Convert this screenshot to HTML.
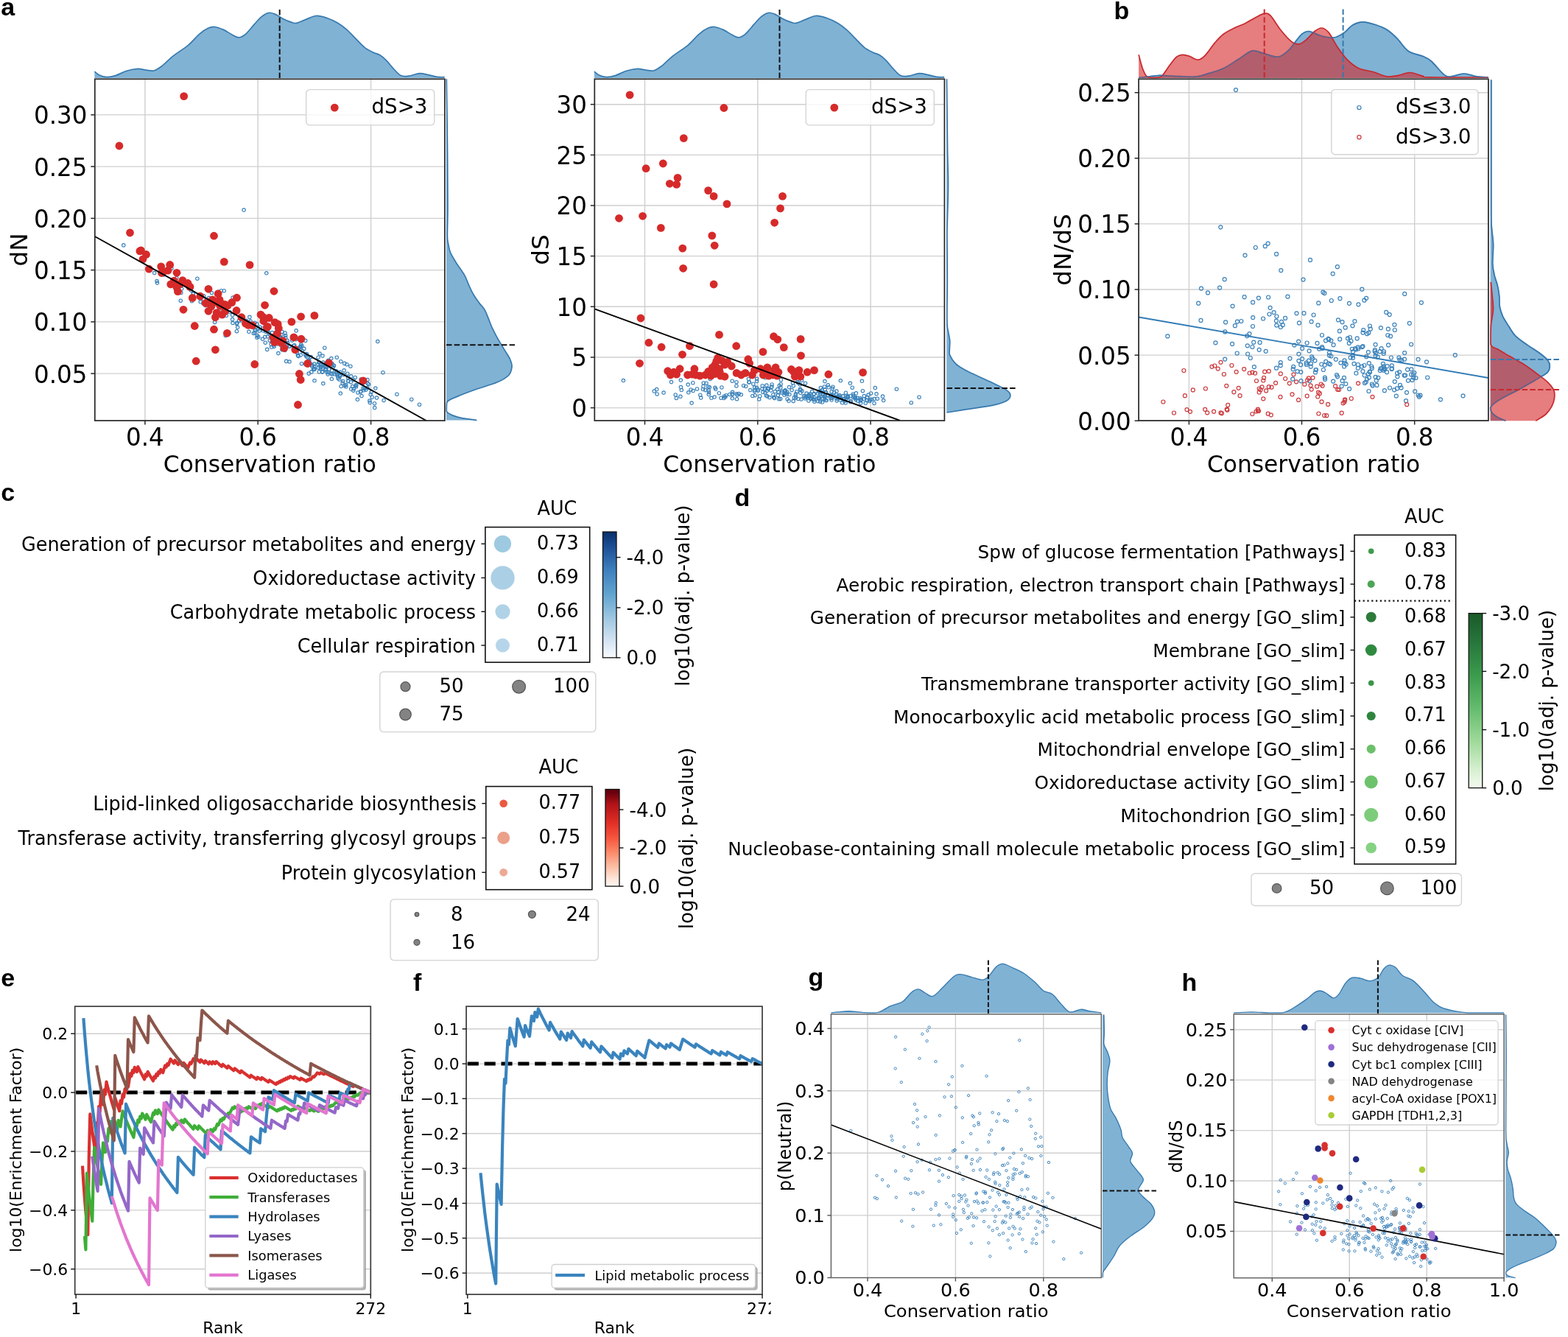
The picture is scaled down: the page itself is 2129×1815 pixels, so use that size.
<!DOCTYPE html>
<html lang="en"><head><meta charset="utf-8"><title>Figure</title>
<style>html,body{margin:0;padding:0;background:#fff}body{width:2129px;height:1815px;overflow:hidden}svg{display:block}text{font-family:'DejaVu Sans','Liberation Sans',sans-serif;fill:#000}text.pl{font-family:"Liberation Sans","DejaVu Sans",sans-serif;font-weight:700}</style></head>
<body>
<svg width="2129" height="1815" viewBox="0 0 2129 1815">
<rect width="2129" height="1815" fill="#fff"/>
<path d="M128.4 97.2C129.4 98 131.7 100.5 134.4 101.7C137.2 103 141.1 104.6 144.9 104.7C148.6 104.9 152.4 104 156.9 102.6C161.3 101.2 166.8 97.9 171.8 96.3C176.8 94.8 182.3 93.6 186.8 93.4C191.3 93.2 195 94.8 198.7 95.2C202.5 95.6 205.7 96.6 209.2 95.8C212.7 94.9 215.4 93 219.7 89.8C223.9 86.5 228.7 81 234.6 76.3C240.6 71.6 249.6 66.3 255.6 61.3C261.6 56.4 266.1 50.2 270.6 46.4C275 42.5 279 39.9 282.5 38.3C286 36.7 288 36.2 291.5 36.5C295 36.9 299.5 38.6 303.5 40.4C307.5 42.2 311.9 45.5 315.4 47.3C318.9 49 321.4 51 324.4 50.9C327.4 50.7 329.9 49.4 333.4 46.4C336.9 43.4 341.9 36.8 345.4 32.9C348.9 29.1 351.1 25.9 354.3 23.3C357.6 20.7 361.6 18 364.8 17.4C368.1 16.7 370.5 18.1 373.8 19.4C377 20.8 380.8 23.7 384.3 25.4C387.8 27.2 391.7 28.9 394.7 29.9C397.7 30.9 399 31.9 402.2 31.4C405.5 30.9 409.7 28.6 414.2 26.9C418.7 25.3 424.2 21.9 429.1 21.5C434.1 21.1 439.1 22.9 444.1 24.5C449.1 26.2 454.6 28.8 459.1 31.4C463.6 34.1 467 36.9 471 40.4C475 43.9 479 48.4 483 52.4C487 56.4 491 61.2 495 64.3C499 67.5 503.5 69.5 506.9 71.2C510.4 73 512.9 73 515.9 74.8C518.9 76.7 521.9 79.3 524.9 82.3C527.9 85.3 530.6 89.4 533.9 92.8C537.1 96.2 540.9 100.9 544.3 102.6C547.8 104.4 550.6 103.7 554.8 103.2C559.1 102.7 565.3 99.9 569.8 99.6C574.3 99.4 577.8 100.9 581.7 101.7C585.7 102.5 590.1 103.9 593.7 104.4C597.4 104.9 601.9 104.7 603.6 104.7L603.6 106.1L128.4 106.1Z" fill="#1f77b4" fill-opacity="0.57"/>
<path d="M128.4 97.2C129.4 98 131.7 100.5 134.4 101.7C137.2 103 141.1 104.6 144.9 104.7C148.6 104.9 152.4 104 156.9 102.6C161.3 101.2 166.8 97.9 171.8 96.3C176.8 94.8 182.3 93.6 186.8 93.4C191.3 93.2 195 94.8 198.7 95.2C202.5 95.6 205.7 96.6 209.2 95.8C212.7 94.9 215.4 93 219.7 89.8C223.9 86.5 228.7 81 234.6 76.3C240.6 71.6 249.6 66.3 255.6 61.3C261.6 56.4 266.1 50.2 270.6 46.4C275 42.5 279 39.9 282.5 38.3C286 36.7 288 36.2 291.5 36.5C295 36.9 299.5 38.6 303.5 40.4C307.5 42.2 311.9 45.5 315.4 47.3C318.9 49 321.4 51 324.4 50.9C327.4 50.7 329.9 49.4 333.4 46.4C336.9 43.4 341.9 36.8 345.4 32.9C348.9 29.1 351.1 25.9 354.3 23.3C357.6 20.7 361.6 18 364.8 17.4C368.1 16.7 370.5 18.1 373.8 19.4C377 20.8 380.8 23.7 384.3 25.4C387.8 27.2 391.7 28.9 394.7 29.9C397.7 30.9 399 31.9 402.2 31.4C405.5 30.9 409.7 28.6 414.2 26.9C418.7 25.3 424.2 21.9 429.1 21.5C434.1 21.1 439.1 22.9 444.1 24.5C449.1 26.2 454.6 28.8 459.1 31.4C463.6 34.1 467 36.9 471 40.4C475 43.9 479 48.4 483 52.4C487 56.4 491 61.2 495 64.3C499 67.5 503.5 69.5 506.9 71.2C510.4 73 512.9 73 515.9 74.8C518.9 76.7 521.9 79.3 524.9 82.3C527.9 85.3 530.6 89.4 533.9 92.8C537.1 96.2 540.9 100.9 544.3 102.6C547.8 104.4 550.6 103.7 554.8 103.2C559.1 102.7 565.3 99.9 569.8 99.6C574.3 99.4 577.8 100.9 581.7 101.7C585.7 102.5 590.1 103.9 593.7 104.4C597.4 104.9 601.9 104.7 603.6 104.7" fill="none" stroke="#3679ae" stroke-width="1.7"/>
<line x1="379.7" y1="13" x2="379.7" y2="106.3" stroke="#111" stroke-width="2" stroke-dasharray="7.5 3.2"/>
<path d="M606.3 107.3C606.5 122.8 607.2 171.2 607.5 200C607.8 228.8 608 260 608 280C608 300 607.3 311.4 607.4 320C607.5 328.6 608.1 327.7 608.8 331.6C609.5 335.4 609.9 339 611.7 343.2C613.4 347.3 616.2 351.5 619.4 356.7C622.6 361.8 628.1 368.9 631 374.1C633.9 379.2 634.8 383.4 636.8 387.6C638.7 391.8 640.3 395.3 642.5 399.2C644.8 403 647.7 407.2 650.3 410.7C652.8 414.3 655.7 416.5 658 420.4C660.2 424.2 662.2 430 663.8 433.9C665.4 437.8 665.9 439.7 667.6 443.6C669.4 447.4 672.1 452.9 674.4 457.1C676.7 461.2 678.7 464.6 681.2 468.6C683.6 472.7 686.9 478 688.9 481.2C690.8 484.4 691.7 485.2 692.7 488C693.8 490.7 695.4 494.1 695.1 497.6C694.7 501.1 694.1 505.6 690.8 509.2C687.5 512.7 682.8 515.6 675.4 518.8C668 522.1 655.4 525.3 646.4 528.5C637.4 531.7 627.9 535.3 621.3 538.1C614.7 541 609.3 542.5 606.8 545.9C606.3 549.2 606.3 555 606.3 558.4C608.7 561.8 614.5 564.1 621.3 566.1C628.2 568.2 643 569.8 647.4 570.6L606 570.6L606 107.3Z" fill="#1f77b4" fill-opacity="0.57"/>
<path d="M606.3 107.3C606.5 122.8 607.2 171.2 607.5 200C607.8 228.8 608 260 608 280C608 300 607.3 311.4 607.4 320C607.5 328.6 608.1 327.7 608.8 331.6C609.5 335.4 609.9 339 611.7 343.2C613.4 347.3 616.2 351.5 619.4 356.7C622.6 361.8 628.1 368.9 631 374.1C633.9 379.2 634.8 383.4 636.8 387.6C638.7 391.8 640.3 395.3 642.5 399.2C644.8 403 647.7 407.2 650.3 410.7C652.8 414.3 655.7 416.5 658 420.4C660.2 424.2 662.2 430 663.8 433.9C665.4 437.8 665.9 439.7 667.6 443.6C669.4 447.4 672.1 452.9 674.4 457.1C676.7 461.2 678.7 464.6 681.2 468.6C683.6 472.7 686.9 478 688.9 481.2C690.8 484.4 691.7 485.2 692.7 488C693.8 490.7 695.4 494.1 695.1 497.6C694.7 501.1 694.1 505.6 690.8 509.2C687.5 512.7 682.8 515.6 675.4 518.8C668 522.1 655.4 525.3 646.4 528.5C637.4 531.7 627.9 535.3 621.3 538.1C614.7 541 609.3 542.5 606.8 545.9C606.3 549.2 606.3 555 606.3 558.4C608.7 561.8 614.5 564.1 621.3 566.1C628.2 568.2 643 569.8 647.4 570.6" fill="none" stroke="#3679ae" stroke-width="1.7"/>
<line x1="606" y1="468.3" x2="701.4" y2="468.3" stroke="#111" stroke-width="2" stroke-dasharray="7.5 3.2"/>
<line x1="196.9" y1="107.3" x2="196.9" y2="571" stroke="#cfcfcf" stroke-width="1.4"/>
<line x1="350.2" y1="107.3" x2="350.2" y2="571" stroke="#cfcfcf" stroke-width="1.4"/>
<line x1="503.6" y1="107.3" x2="503.6" y2="571" stroke="#cfcfcf" stroke-width="1.4"/>
<line x1="128.8" y1="507.1" x2="603.9" y2="507.1" stroke="#cfcfcf" stroke-width="1.4"/>
<line x1="128.8" y1="436.9" x2="603.9" y2="436.9" stroke="#cfcfcf" stroke-width="1.4"/>
<line x1="128.8" y1="366.6" x2="603.9" y2="366.6" stroke="#cfcfcf" stroke-width="1.4"/>
<line x1="128.8" y1="296.4" x2="603.9" y2="296.4" stroke="#cfcfcf" stroke-width="1.4"/>
<line x1="128.8" y1="226.1" x2="603.9" y2="226.1" stroke="#cfcfcf" stroke-width="1.4"/>
<line x1="128.8" y1="155.9" x2="603.9" y2="155.9" stroke="#cfcfcf" stroke-width="1.4"/>
<clipPath id="ca1"><rect x="128.8" y="107.3" width="475.1" height="463.7"/></clipPath>
<g clip-path="url(#ca1)">
<g fill="none" stroke="#3b82ba" stroke-width="1.15">
<circle cx="260.5" cy="408.8" r="2.2"/>
<circle cx="331.1" cy="285.1" r="2.2"/>
<circle cx="167.8" cy="332.9" r="2.2"/>
<circle cx="361.8" cy="370.8" r="2.2"/>
<circle cx="512.8" cy="463.5" r="2.2"/>
<circle cx="569.5" cy="549.2" r="2.2"/>
<circle cx="558.8" cy="542.2" r="2.2"/>
<circle cx="304.2" cy="394.7" r="2.2"/>
<circle cx="300.4" cy="394.7" r="2.2"/>
<circle cx="287.4" cy="397.5" r="2.2"/>
<circle cx="315.7" cy="411.6" r="2.2"/>
<circle cx="538.9" cy="535.2" r="2.2"/>
<circle cx="377.8" cy="464.1" r="2.2"/>
<circle cx="322" cy="438.2" r="2.2"/>
<circle cx="293.3" cy="422.8" r="2.2"/>
<circle cx="364.9" cy="452.2" r="2.2"/>
<circle cx="437.5" cy="505.1" r="2.2"/>
<circle cx="483.5" cy="525" r="2.2"/>
<circle cx="435.8" cy="497.4" r="2.2"/>
<circle cx="405.2" cy="483.6" r="2.2"/>
<circle cx="424.2" cy="495.8" r="2.2"/>
<circle cx="388.7" cy="490.4" r="2.2"/>
<circle cx="458.5" cy="511" r="2.2"/>
<circle cx="356.5" cy="460.3" r="2.2"/>
<circle cx="471.8" cy="507.2" r="2.2"/>
<circle cx="345.9" cy="438.2" r="2.2"/>
<circle cx="414.9" cy="494.2" r="2.2"/>
<circle cx="362.7" cy="474.4" r="2.2"/>
<circle cx="520" cy="505.7" r="2.2"/>
<circle cx="441.3" cy="494.2" r="2.2"/>
<circle cx="404.4" cy="482.6" r="2.2"/>
<circle cx="441.7" cy="501.5" r="2.2"/>
<circle cx="393.3" cy="470.3" r="2.2"/>
<circle cx="465.8" cy="517.6" r="2.2"/>
<circle cx="371.3" cy="468.8" r="2.2"/>
<circle cx="312.2" cy="423.8" r="2.2"/>
<circle cx="499" cy="515.6" r="2.2"/>
<circle cx="475.9" cy="497.2" r="2.2"/>
<circle cx="398.7" cy="474.6" r="2.2"/>
<circle cx="490" cy="519.7" r="2.2"/>
<circle cx="386.4" cy="466.6" r="2.2"/>
<circle cx="457.3" cy="485.2" r="2.2"/>
<circle cx="433.3" cy="492.3" r="2.2"/>
<circle cx="461.5" cy="509" r="2.2"/>
<circle cx="283.8" cy="410.4" r="2.2"/>
<circle cx="209.7" cy="370.6" r="2.2"/>
<circle cx="433.3" cy="491.7" r="2.2"/>
<circle cx="407.9" cy="470.4" r="2.2"/>
<circle cx="502.3" cy="546.6" r="2.2"/>
<circle cx="366.3" cy="462.2" r="2.2"/>
<circle cx="521.1" cy="543.4" r="2.2"/>
<circle cx="346.1" cy="447.4" r="2.2"/>
<circle cx="469.6" cy="522.6" r="2.2"/>
<circle cx="416.5" cy="480.6" r="2.2"/>
<circle cx="496.7" cy="529.3" r="2.2"/>
<circle cx="450.9" cy="508.1" r="2.2"/>
<circle cx="469.8" cy="525" r="2.2"/>
<circle cx="246.7" cy="392.1" r="2.2"/>
<circle cx="441.7" cy="494.4" r="2.2"/>
<circle cx="324.5" cy="435.4" r="2.2"/>
<circle cx="476.7" cy="510.8" r="2.2"/>
<circle cx="419.6" cy="494.4" r="2.2"/>
<circle cx="449.4" cy="507" r="2.2"/>
<circle cx="450.6" cy="493.3" r="2.2"/>
<circle cx="472.8" cy="517.1" r="2.2"/>
<circle cx="357.3" cy="448.8" r="2.2"/>
<circle cx="390" cy="468.9" r="2.2"/>
<circle cx="359.8" cy="457.3" r="2.2"/>
<circle cx="381.3" cy="457.8" r="2.2"/>
<circle cx="372.2" cy="470.5" r="2.2"/>
<circle cx="432.1" cy="485.2" r="2.2"/>
<circle cx="349.1" cy="440" r="2.2"/>
<circle cx="321.5" cy="439.6" r="2.2"/>
<circle cx="291.6" cy="437.4" r="2.2"/>
<circle cx="360.3" cy="465.2" r="2.2"/>
<circle cx="445.7" cy="505.7" r="2.2"/>
<circle cx="280.4" cy="413.8" r="2.2"/>
<circle cx="368.7" cy="471.3" r="2.2"/>
<circle cx="491" cy="537.5" r="2.2"/>
<circle cx="467.2" cy="502.8" r="2.2"/>
<circle cx="508.7" cy="553.5" r="2.2"/>
<circle cx="410.5" cy="476.6" r="2.2"/>
<circle cx="284.8" cy="407" r="2.2"/>
<circle cx="259.5" cy="394.2" r="2.2"/>
<circle cx="369.6" cy="451.5" r="2.2"/>
<circle cx="362.4" cy="448.7" r="2.2"/>
<circle cx="415.7" cy="483.6" r="2.2"/>
<circle cx="468" cy="523.5" r="2.2"/>
<circle cx="377.9" cy="479.6" r="2.2"/>
<circle cx="301.4" cy="427" r="2.2"/>
<circle cx="442.8" cy="497.9" r="2.2"/>
<circle cx="427" cy="516.8" r="2.2"/>
<circle cx="419.3" cy="507.1" r="2.2"/>
<circle cx="421.3" cy="493.9" r="2.2"/>
<circle cx="307.3" cy="428.5" r="2.2"/>
<circle cx="316" cy="438.5" r="2.2"/>
<circle cx="213.5" cy="384.1" r="2.2"/>
<circle cx="232.9" cy="364.2" r="2.2"/>
<circle cx="350.8" cy="457.2" r="2.2"/>
<circle cx="390.5" cy="465.4" r="2.2"/>
<circle cx="427.2" cy="500.8" r="2.2"/>
<circle cx="454.1" cy="507.8" r="2.2"/>
<circle cx="262.6" cy="398.6" r="2.2"/>
<circle cx="508.5" cy="547.7" r="2.2"/>
<circle cx="316.1" cy="404" r="2.2"/>
<circle cx="408.7" cy="467.9" r="2.2"/>
<circle cx="386.9" cy="475.4" r="2.2"/>
<circle cx="457.7" cy="508.4" r="2.2"/>
<circle cx="489.5" cy="532" r="2.2"/>
<circle cx="503.2" cy="535.6" r="2.2"/>
<circle cx="423.8" cy="497.5" r="2.2"/>
<circle cx="422.8" cy="504.9" r="2.2"/>
<circle cx="276.7" cy="401.9" r="2.2"/>
<circle cx="276.4" cy="406.4" r="2.2"/>
<circle cx="399.8" cy="468.7" r="2.2"/>
<circle cx="485.4" cy="542.3" r="2.2"/>
<circle cx="283.8" cy="409.9" r="2.2"/>
<circle cx="379.2" cy="458.6" r="2.2"/>
<circle cx="450.4" cy="514.5" r="2.2"/>
<circle cx="480.3" cy="527.7" r="2.2"/>
<circle cx="486" cy="532.9" r="2.2"/>
<circle cx="490.1" cy="514.9" r="2.2"/>
<circle cx="344.3" cy="452.5" r="2.2"/>
<circle cx="460.8" cy="515.3" r="2.2"/>
<circle cx="492.9" cy="526.9" r="2.2"/>
<circle cx="412.8" cy="473.4" r="2.2"/>
<circle cx="373" cy="458.1" r="2.2"/>
<circle cx="414.6" cy="481.5" r="2.2"/>
<circle cx="334.2" cy="435.4" r="2.2"/>
<circle cx="343.2" cy="441.8" r="2.2"/>
<circle cx="459.1" cy="513.7" r="2.2"/>
<circle cx="402" cy="457.9" r="2.2"/>
<circle cx="467.8" cy="493.4" r="2.2"/>
<circle cx="409.5" cy="493.7" r="2.2"/>
<circle cx="494.8" cy="527.3" r="2.2"/>
<circle cx="373.8" cy="454.4" r="2.2"/>
<circle cx="476.7" cy="528" r="2.2"/>
<circle cx="434" cy="480" r="2.2"/>
<circle cx="431.9" cy="494.4" r="2.2"/>
<circle cx="466.4" cy="508.4" r="2.2"/>
<circle cx="470.9" cy="494.7" r="2.2"/>
<circle cx="382.8" cy="450.3" r="2.2"/>
<circle cx="410.1" cy="469.7" r="2.2"/>
<circle cx="425.5" cy="501.8" r="2.2"/>
<circle cx="275.8" cy="411.7" r="2.2"/>
<circle cx="445.8" cy="489.3" r="2.2"/>
<circle cx="213" cy="381.5" r="2.2"/>
<circle cx="315.7" cy="427.7" r="2.2"/>
<circle cx="509.8" cy="527" r="2.2"/>
<circle cx="379.6" cy="457.4" r="2.2"/>
<circle cx="438" cy="483.1" r="2.2"/>
<circle cx="387.7" cy="455.5" r="2.2"/>
<circle cx="353.2" cy="444.4" r="2.2"/>
<circle cx="461.5" cy="510.7" r="2.2"/>
<circle cx="377" cy="466.9" r="2.2"/>
<circle cx="363.8" cy="448.3" r="2.2"/>
<circle cx="346.7" cy="448.8" r="2.2"/>
<circle cx="402.2" cy="448.9" r="2.2"/>
<circle cx="446.6" cy="501.2" r="2.2"/>
<circle cx="426.7" cy="501.4" r="2.2"/>
<circle cx="435.5" cy="500.1" r="2.2"/>
<circle cx="461.9" cy="505.3" r="2.2"/>
<circle cx="381.9" cy="454.6" r="2.2"/>
<circle cx="346.1" cy="451.5" r="2.2"/>
<circle cx="463.2" cy="524.4" r="2.2"/>
<circle cx="452.3" cy="498.5" r="2.2"/>
<circle cx="390.1" cy="462.4" r="2.2"/>
<circle cx="494" cy="529.8" r="2.2"/>
<circle cx="292.4" cy="426.2" r="2.2"/>
<circle cx="262.2" cy="398.8" r="2.2"/>
<circle cx="381.7" cy="469" r="2.2"/>
<circle cx="438.8" cy="520.6" r="2.2"/>
<circle cx="414.7" cy="462.4" r="2.2"/>
<circle cx="500.5" cy="521.7" r="2.2"/>
<circle cx="450.6" cy="502.9" r="2.2"/>
<circle cx="479.8" cy="530.2" r="2.2"/>
<circle cx="238.6" cy="393.3" r="2.2"/>
<circle cx="435.2" cy="495.2" r="2.2"/>
<circle cx="304.8" cy="426.1" r="2.2"/>
<circle cx="443.6" cy="504.5" r="2.2"/>
<circle cx="440.8" cy="472.2" r="2.2"/>
<circle cx="378.4" cy="455.9" r="2.2"/>
<circle cx="338.9" cy="430.4" r="2.2"/>
<circle cx="437.9" cy="504.6" r="2.2"/>
<circle cx="433.3" cy="504.8" r="2.2"/>
<circle cx="476.3" cy="518.7" r="2.2"/>
<circle cx="422.2" cy="484.5" r="2.2"/>
<circle cx="285.5" cy="412.8" r="2.2"/>
<circle cx="462.3" cy="534" r="2.2"/>
<circle cx="453.5" cy="496.4" r="2.2"/>
<circle cx="245.9" cy="382.2" r="2.2"/>
<circle cx="387.7" cy="458.4" r="2.2"/>
<circle cx="381.1" cy="458.4" r="2.2"/>
<circle cx="397.8" cy="456.9" r="2.2"/>
<circle cx="360.8" cy="450.2" r="2.2"/>
<circle cx="327.8" cy="435" r="2.2"/>
<circle cx="306.2" cy="455.4" r="2.2"/>
<circle cx="419.8" cy="489.6" r="2.2"/>
<circle cx="441.3" cy="496.6" r="2.2"/>
<circle cx="472.5" cy="512.4" r="2.2"/>
<circle cx="483.9" cy="522.4" r="2.2"/>
<circle cx="478.7" cy="524.5" r="2.2"/>
<circle cx="461.2" cy="509.7" r="2.2"/>
<circle cx="403.2" cy="478.5" r="2.2"/>
<circle cx="419.8" cy="491.6" r="2.2"/>
<circle cx="283.7" cy="404.5" r="2.2"/>
<circle cx="392.4" cy="470.3" r="2.2"/>
<circle cx="442.8" cy="501.9" r="2.2"/>
<circle cx="442.5" cy="498.1" r="2.2"/>
<circle cx="408.3" cy="482.1" r="2.2"/>
<circle cx="245.8" cy="397.4" r="2.2"/>
<circle cx="480" cy="515.7" r="2.2"/>
<circle cx="405.3" cy="472.5" r="2.2"/>
<circle cx="501.9" cy="544" r="2.2"/>
<circle cx="368.2" cy="467.4" r="2.2"/>
<circle cx="426.7" cy="494.1" r="2.2"/>
<circle cx="239.8" cy="377.6" r="2.2"/>
<circle cx="297.8" cy="419.2" r="2.2"/>
<circle cx="449.8" cy="486.6" r="2.2"/>
<circle cx="321.4" cy="449.7" r="2.2"/>
<circle cx="504.1" cy="532.1" r="2.2"/>
<circle cx="350.8" cy="446.3" r="2.2"/>
<circle cx="256.2" cy="391.6" r="2.2"/>
<circle cx="255.7" cy="388.5" r="2.2"/>
<circle cx="489.9" cy="531.2" r="2.2"/>
<circle cx="283.1" cy="412.4" r="2.2"/>
<circle cx="440.7" cy="497.4" r="2.2"/>
<circle cx="445.1" cy="508.1" r="2.2"/>
<circle cx="438.9" cy="492.1" r="2.2"/>
<circle cx="352.2" cy="449.1" r="2.2"/>
<circle cx="279.1" cy="414.8" r="2.2"/>
<circle cx="349.2" cy="455.5" r="2.2"/>
<circle cx="363.3" cy="457" r="2.2"/>
<circle cx="465.1" cy="520" r="2.2"/>
<circle cx="482.3" cy="512.4" r="2.2"/>
<circle cx="273.1" cy="402.7" r="2.2"/>
<circle cx="432.4" cy="499.3" r="2.2"/>
<circle cx="435.2" cy="498.6" r="2.2"/>
<circle cx="491.9" cy="521" r="2.2"/>
<circle cx="456.5" cy="503.8" r="2.2"/>
<circle cx="393" cy="491" r="2.2"/>
<circle cx="505.3" cy="539.2" r="2.2"/>
<circle cx="348.9" cy="458.3" r="2.2"/>
<circle cx="340.1" cy="436" r="2.2"/>
<circle cx="322.6" cy="444.3" r="2.2"/>
<circle cx="245.3" cy="408.2" r="2.2"/>
<circle cx="369.4" cy="463.8" r="2.2"/>
<circle cx="426.6" cy="497.6" r="2.2"/>
<circle cx="356.6" cy="446.2" r="2.2"/>
<circle cx="499" cy="526.8" r="2.2"/>
<circle cx="401.7" cy="460.8" r="2.2"/>
<circle cx="272.2" cy="409.8" r="2.2"/>
<circle cx="462.8" cy="490.7" r="2.2"/>
<circle cx="499.2" cy="520.4" r="2.2"/>
<circle cx="337.9" cy="450.3" r="2.2"/>
<circle cx="456.7" cy="506" r="2.2"/>
<circle cx="382.9" cy="474.7" r="2.2"/>
<circle cx="387.1" cy="452.1" r="2.2"/>
<circle cx="483" cy="523.6" r="2.2"/>
<circle cx="511.5" cy="540.1" r="2.2"/>
<circle cx="338.4" cy="438" r="2.2"/>
<circle cx="321.5" cy="419" r="2.2"/>
<circle cx="267.9" cy="378.2" r="2.2"/>
<circle cx="315.6" cy="433.6" r="2.2"/>
<circle cx="222.5" cy="373" r="2.2"/>
<circle cx="396.6" cy="462.2" r="2.2"/>
<circle cx="451.7" cy="495.5" r="2.2"/>
<circle cx="407.8" cy="471.4" r="2.2"/>
<circle cx="472.8" cy="517.6" r="2.2"/>
<circle cx="418.6" cy="490" r="2.2"/>
<circle cx="398.6" cy="469.2" r="2.2"/>
<circle cx="417.3" cy="485" r="2.2"/>
</g>
<g fill="#d62a2a">
<circle cx="176.5" cy="316" r="5.4"/>
<circle cx="304.3" cy="355.4" r="5.4"/>
<circle cx="249.7" cy="130.6" r="5.4"/>
<circle cx="221.7" cy="369.2" r="5.4"/>
<circle cx="198.5" cy="345.5" r="5.4"/>
<circle cx="241.5" cy="395.7" r="5.4"/>
<circle cx="230.7" cy="359.5" r="5.4"/>
<circle cx="240" cy="390" r="5.4"/>
<circle cx="283" cy="422.3" r="5.4"/>
<circle cx="290.5" cy="320.2" r="5.4"/>
<circle cx="308.4" cy="452.3" r="5.4"/>
<circle cx="383.9" cy="462.6" r="5.4"/>
<circle cx="381" cy="464.7" r="5.4"/>
<circle cx="373.1" cy="437.6" r="5.4"/>
<circle cx="161.9" cy="198" r="5.4"/>
<circle cx="194" cy="351.8" r="5.4"/>
<circle cx="218.7" cy="361.9" r="5.4"/>
<circle cx="288.2" cy="407.6" r="5.4"/>
<circle cx="291.6" cy="410.3" r="5.4"/>
<circle cx="248.2" cy="383.4" r="5.4"/>
<circle cx="249" cy="420.3" r="5.4"/>
<circle cx="290.5" cy="447.2" r="5.4"/>
<circle cx="191.4" cy="339.9" r="5.4"/>
<circle cx="298" cy="406.8" r="5.4"/>
<circle cx="202.3" cy="365.2" r="5.4"/>
<circle cx="219.5" cy="370.5" r="5.4"/>
<circle cx="258" cy="389.4" r="5.4"/>
<circle cx="321.1" cy="421.6" r="5.4"/>
<circle cx="372" cy="395.3" r="5.4"/>
<circle cx="377.2" cy="440" r="5.4"/>
<circle cx="385.8" cy="472.5" r="5.4"/>
<circle cx="408.6" cy="429.8" r="5.4"/>
<circle cx="409" cy="460.2" r="5.4"/>
<circle cx="357.4" cy="430.5" r="5.4"/>
<circle cx="247.9" cy="380.6" r="5.4"/>
<circle cx="189.9" cy="340.9" r="5.4"/>
<circle cx="337.2" cy="441.4" r="5.4"/>
<circle cx="339.1" cy="359.6" r="5.4"/>
<circle cx="296.1" cy="398.7" r="5.4"/>
<circle cx="301.7" cy="427.2" r="5.4"/>
<circle cx="309.2" cy="414.8" r="5.4"/>
<circle cx="314.8" cy="410.6" r="5.4"/>
<circle cx="292.4" cy="430.6" r="5.4"/>
<circle cx="228.1" cy="367.2" r="5.4"/>
<circle cx="236.3" cy="381.2" r="5.4"/>
<circle cx="244.5" cy="385.6" r="5.4"/>
<circle cx="240" cy="370.3" r="5.4"/>
<circle cx="264.3" cy="442.5" r="5.4"/>
<circle cx="255" cy="384.5" r="5.4"/>
<circle cx="266.2" cy="490.2" r="5.4"/>
<circle cx="279.3" cy="411.5" r="5.4"/>
<circle cx="286.8" cy="416.2" r="5.4"/>
<circle cx="292.4" cy="474.8" r="5.4"/>
<circle cx="299.8" cy="411.3" r="5.4"/>
<circle cx="305.4" cy="413.5" r="5.4"/>
<circle cx="321.5" cy="404.2" r="5.4"/>
<circle cx="333.5" cy="439.2" r="5.4"/>
<circle cx="342.8" cy="441.7" r="5.4"/>
<circle cx="357.8" cy="435.8" r="5.4"/>
<circle cx="363.4" cy="443.4" r="5.4"/>
<circle cx="374.6" cy="461.1" r="5.4"/>
<circle cx="370.9" cy="458.1" r="5.4"/>
<circle cx="378.3" cy="445.5" r="5.4"/>
<circle cx="395.9" cy="436.9" r="5.4"/>
<circle cx="404.5" cy="549.5" r="5.4"/>
<circle cx="400.8" cy="474.6" r="5.4"/>
<circle cx="408.2" cy="515.5" r="5.4"/>
<circle cx="417.6" cy="493.5" r="5.4"/>
<circle cx="426.9" cy="428.4" r="5.4"/>
<circle cx="446.4" cy="492.8" r="5.4"/>
<circle cx="493.1" cy="516.8" r="5.4"/>
<circle cx="298" cy="411.4" r="5.4"/>
<circle cx="288.6" cy="406.9" r="5.4"/>
<circle cx="359.6" cy="414.3" r="5.4"/>
<circle cx="365.3" cy="431.5" r="5.4"/>
<circle cx="372.7" cy="464.5" r="5.4"/>
<circle cx="283" cy="392.3" r="5.4"/>
<circle cx="271.8" cy="402.2" r="5.4"/>
<circle cx="398.9" cy="457.9" r="5.4"/>
<circle cx="345.8" cy="494.5" r="5.4"/>
<circle cx="294.2" cy="424.6" r="5.4"/>
<circle cx="305.4" cy="422.8" r="5.4"/>
<circle cx="298.7" cy="415.2" r="5.4"/>
<circle cx="327.9" cy="430.7" r="5.4"/>
<circle cx="354" cy="427.1" r="5.4"/>
<circle cx="261.3" cy="404.4" r="5.4"/>
<circle cx="231.8" cy="385.9" r="5.4"/>
<circle cx="406.4" cy="507.5" r="5.4"/>
<circle cx="362.3" cy="444.3" r="5.4"/>
<circle cx="376.5" cy="453" r="5.4"/>
</g>
<line x1="128.8" y1="321" x2="578.8" y2="571" stroke="#000" stroke-width="1.9"/>
</g>
<rect x="415.7" y="121.6" width="174.1" height="48.3" fill="#fff" stroke="#d4d4d4" stroke-width="1.4" rx="5" fill-opacity="0.8"/>
<circle cx="454.3" cy="146.1" r="5.4" fill="#d62a2a" stroke="none" stroke-width="1"/>
<text transform="translate(504.5,154.4)" font-size="27.7">dS&gt;3</text>
<rect x="128.8" y="107.3" width="475.1" height="463.7" fill="none" stroke="#262626" stroke-width="1.7"/>
<line x1="196.9" y1="571" x2="196.9" y2="576.5" stroke="#262626" stroke-width="1.5"/>
<text transform="translate(196.9,604.5) scale(0.952,1)" font-size="34.1" text-anchor="middle">0.4</text>
<line x1="350.2" y1="571" x2="350.2" y2="576.5" stroke="#262626" stroke-width="1.5"/>
<text transform="translate(350.2,604.5) scale(0.952,1)" font-size="34.1" text-anchor="middle">0.6</text>
<line x1="503.6" y1="571" x2="503.6" y2="576.5" stroke="#262626" stroke-width="1.5"/>
<text transform="translate(503.6,604.5) scale(0.952,1)" font-size="34.1" text-anchor="middle">0.8</text>
<line x1="123.3" y1="507.1" x2="128.8" y2="507.1" stroke="#262626" stroke-width="1.5"/>
<text transform="translate(118.3,519.5) scale(0.952,1)" font-size="34.1" text-anchor="end">0.05</text>
<line x1="123.3" y1="436.9" x2="128.8" y2="436.9" stroke="#262626" stroke-width="1.5"/>
<text transform="translate(118.3,449.3) scale(0.952,1)" font-size="34.1" text-anchor="end">0.10</text>
<line x1="123.3" y1="366.6" x2="128.8" y2="366.6" stroke="#262626" stroke-width="1.5"/>
<text transform="translate(118.3,379) scale(0.952,1)" font-size="34.1" text-anchor="end">0.15</text>
<line x1="123.3" y1="296.4" x2="128.8" y2="296.4" stroke="#262626" stroke-width="1.5"/>
<text transform="translate(118.3,308.8) scale(0.952,1)" font-size="34.1" text-anchor="end">0.20</text>
<line x1="123.3" y1="226.1" x2="128.8" y2="226.1" stroke="#262626" stroke-width="1.5"/>
<text transform="translate(118.3,238.5) scale(0.952,1)" font-size="34.1" text-anchor="end">0.25</text>
<line x1="123.3" y1="155.9" x2="128.8" y2="155.9" stroke="#262626" stroke-width="1.5"/>
<text transform="translate(118.3,168.3) scale(0.952,1)" font-size="34.1" text-anchor="end">0.30</text>
<text transform="translate(366.4,640.8) scale(0.958,1)" font-size="32.7" text-anchor="middle">Conservation ratio</text>
<text transform="translate(37,339) rotate(-90)" font-size="32.7" text-anchor="middle">dN</text>
<path d="M806.9 97.2C807.9 98 810.2 100.5 812.9 101.7C815.7 103 819.6 104.6 823.4 104.7C827.1 104.9 830.9 104 835.4 102.6C839.8 101.2 845.3 97.9 850.3 96.3C855.3 94.8 860.8 93.6 865.3 93.4C869.8 93.2 873.5 94.8 877.2 95.2C881 95.6 884.2 96.6 887.7 95.8C891.2 94.9 893.9 93 898.2 89.8C902.4 86.5 907.2 81 913.1 76.3C919.1 71.6 928.1 66.3 934.1 61.3C940.1 56.4 944.6 50.2 949.1 46.4C953.5 42.5 957.5 39.9 961 38.3C964.5 36.7 966.5 36.2 970 36.5C973.5 36.9 978 38.6 982 40.4C986 42.2 990.4 45.5 993.9 47.3C997.4 49 999.9 51 1002.9 50.9C1005.9 50.7 1008.4 49.4 1011.9 46.4C1015.4 43.4 1020.4 36.8 1023.9 32.9C1027.4 29.1 1029.6 25.9 1032.8 23.3C1036.1 20.7 1040.1 18 1043.3 17.4C1046.6 16.7 1049 18.1 1052.3 19.4C1055.5 20.8 1059.3 23.7 1062.8 25.4C1066.3 27.2 1070.2 28.9 1073.2 29.9C1076.2 30.9 1077.5 31.9 1080.7 31.4C1084 30.9 1088.2 28.6 1092.7 26.9C1097.2 25.3 1102.7 21.9 1107.6 21.5C1112.6 21.1 1117.6 22.9 1122.6 24.5C1127.6 26.2 1133.1 28.8 1137.6 31.4C1142.1 34.1 1145.5 36.9 1149.5 40.4C1153.5 43.9 1157.5 48.4 1161.5 52.4C1165.5 56.4 1169.5 61.2 1173.5 64.3C1177.5 67.5 1182 69.5 1185.4 71.2C1188.9 73 1191.4 73 1194.4 74.8C1197.4 76.7 1200.4 79.3 1203.4 82.3C1206.4 85.3 1209.1 89.4 1212.4 92.8C1215.6 96.2 1219.4 100.9 1222.8 102.6C1226.3 104.4 1229.1 103.7 1233.3 103.2C1237.6 102.7 1243.8 99.9 1248.3 99.6C1252.8 99.4 1256.3 100.9 1260.2 101.7C1264.2 102.5 1268.6 103.9 1272.2 104.4C1275.9 104.9 1280.4 104.7 1282.1 104.7L1282.1 106.1L806.9 106.1Z" fill="#1f77b4" fill-opacity="0.57"/>
<path d="M806.9 97.2C807.9 98 810.2 100.5 812.9 101.7C815.7 103 819.6 104.6 823.4 104.7C827.1 104.9 830.9 104 835.4 102.6C839.8 101.2 845.3 97.9 850.3 96.3C855.3 94.8 860.8 93.6 865.3 93.4C869.8 93.2 873.5 94.8 877.2 95.2C881 95.6 884.2 96.6 887.7 95.8C891.2 94.9 893.9 93 898.2 89.8C902.4 86.5 907.2 81 913.1 76.3C919.1 71.6 928.1 66.3 934.1 61.3C940.1 56.4 944.6 50.2 949.1 46.4C953.5 42.5 957.5 39.9 961 38.3C964.5 36.7 966.5 36.2 970 36.5C973.5 36.9 978 38.6 982 40.4C986 42.2 990.4 45.5 993.9 47.3C997.4 49 999.9 51 1002.9 50.9C1005.9 50.7 1008.4 49.4 1011.9 46.4C1015.4 43.4 1020.4 36.8 1023.9 32.9C1027.4 29.1 1029.6 25.9 1032.8 23.3C1036.1 20.7 1040.1 18 1043.3 17.4C1046.6 16.7 1049 18.1 1052.3 19.4C1055.5 20.8 1059.3 23.7 1062.8 25.4C1066.3 27.2 1070.2 28.9 1073.2 29.9C1076.2 30.9 1077.5 31.9 1080.7 31.4C1084 30.9 1088.2 28.6 1092.7 26.9C1097.2 25.3 1102.7 21.9 1107.6 21.5C1112.6 21.1 1117.6 22.9 1122.6 24.5C1127.6 26.2 1133.1 28.8 1137.6 31.4C1142.1 34.1 1145.5 36.9 1149.5 40.4C1153.5 43.9 1157.5 48.4 1161.5 52.4C1165.5 56.4 1169.5 61.2 1173.5 64.3C1177.5 67.5 1182 69.5 1185.4 71.2C1188.9 73 1191.4 73 1194.4 74.8C1197.4 76.7 1200.4 79.3 1203.4 82.3C1206.4 85.3 1209.1 89.4 1212.4 92.8C1215.6 96.2 1219.4 100.9 1222.8 102.6C1226.3 104.4 1229.1 103.7 1233.3 103.2C1237.6 102.7 1243.8 99.9 1248.3 99.6C1252.8 99.4 1256.3 100.9 1260.2 101.7C1264.2 102.5 1268.6 103.9 1272.2 104.4C1275.9 104.9 1280.4 104.7 1282.1 104.7" fill="none" stroke="#3679ae" stroke-width="1.7"/>
<line x1="1058.5" y1="13" x2="1058.5" y2="106.3" stroke="#111" stroke-width="2" stroke-dasharray="7.5 3.2"/>
<path d="M1285.5 107.3C1285.7 122.8 1286.2 176.2 1286.5 200C1286.8 223.8 1287.5 233.3 1287.5 250C1287.5 266.7 1286.6 288.3 1286.3 300C1286 311.7 1285.9 307 1285.9 320C1285.9 333 1286.3 358.6 1286.3 377.9C1286.3 397.2 1285.6 423.6 1285.9 435.8C1286.1 448.1 1287.2 446.8 1287.8 451.3C1288.4 455.8 1289.5 459 1289.7 462.9C1290 466.7 1289.3 471.2 1289.3 474.4C1289.3 477.7 1288.4 478.9 1289.7 482.2C1291.1 485.4 1294.2 490.5 1297.5 493.7C1300.7 497 1305.2 499.2 1309 501.5C1312.9 503.7 1314.5 504.4 1320.6 507.3C1326.7 510.2 1338.3 515.3 1345.7 518.8C1353.1 522.4 1360.7 525.7 1365 528.5C1369.4 531.3 1371.5 533.3 1371.8 535.8C1372.1 538.4 1371.3 541.5 1366.9 543.9C1362.6 546.4 1355 548.7 1345.7 550.7C1336.4 552.7 1321 554.4 1311 555.9C1300.9 557.5 1289.7 559.3 1285.5 560L1285.2 560L1285.2 107.3Z" fill="#1f77b4" fill-opacity="0.57"/>
<path d="M1285.5 107.3C1285.7 122.8 1286.2 176.2 1286.5 200C1286.8 223.8 1287.5 233.3 1287.5 250C1287.5 266.7 1286.6 288.3 1286.3 300C1286 311.7 1285.9 307 1285.9 320C1285.9 333 1286.3 358.6 1286.3 377.9C1286.3 397.2 1285.6 423.6 1285.9 435.8C1286.1 448.1 1287.2 446.8 1287.8 451.3C1288.4 455.8 1289.5 459 1289.7 462.9C1290 466.7 1289.3 471.2 1289.3 474.4C1289.3 477.7 1288.4 478.9 1289.7 482.2C1291.1 485.4 1294.2 490.5 1297.5 493.7C1300.7 497 1305.2 499.2 1309 501.5C1312.9 503.7 1314.5 504.4 1320.6 507.3C1326.7 510.2 1338.3 515.3 1345.7 518.8C1353.1 522.4 1360.7 525.7 1365 528.5C1369.4 531.3 1371.5 533.3 1371.8 535.8C1372.1 538.4 1371.3 541.5 1366.9 543.9C1362.6 546.4 1355 548.7 1345.7 550.7C1336.4 552.7 1321 554.4 1311 555.9C1300.9 557.5 1289.7 559.3 1285.5 560" fill="none" stroke="#3679ae" stroke-width="1.7"/>
<line x1="1285.5" y1="527" x2="1379.5" y2="527" stroke="#111" stroke-width="2" stroke-dasharray="7.5 3.2"/>
<line x1="875.5" y1="107.3" x2="875.5" y2="571" stroke="#cfcfcf" stroke-width="1.4"/>
<line x1="1028.8" y1="107.3" x2="1028.8" y2="571" stroke="#cfcfcf" stroke-width="1.4"/>
<line x1="1182.1" y1="107.3" x2="1182.1" y2="571" stroke="#cfcfcf" stroke-width="1.4"/>
<line x1="807.3" y1="553.6" x2="1282.4" y2="553.6" stroke="#cfcfcf" stroke-width="1.4"/>
<line x1="807.3" y1="485" x2="1282.4" y2="485" stroke="#cfcfcf" stroke-width="1.4"/>
<line x1="807.3" y1="416.3" x2="1282.4" y2="416.3" stroke="#cfcfcf" stroke-width="1.4"/>
<line x1="807.3" y1="347.6" x2="1282.4" y2="347.6" stroke="#cfcfcf" stroke-width="1.4"/>
<line x1="807.3" y1="279" x2="1282.4" y2="279" stroke="#cfcfcf" stroke-width="1.4"/>
<line x1="807.3" y1="210.4" x2="1282.4" y2="210.4" stroke="#cfcfcf" stroke-width="1.4"/>
<line x1="807.3" y1="141.7" x2="1282.4" y2="141.7" stroke="#cfcfcf" stroke-width="1.4"/>
<clipPath id="ca2"><rect x="807.3" y="107.3" width="475.1" height="463.7"/></clipPath>
<g clip-path="url(#ca2)">
<g fill="none" stroke="#3b82ba" stroke-width="1.15">
<circle cx="939.1" cy="547.1" r="2.2"/>
<circle cx="1009.6" cy="523.4" r="2.2"/>
<circle cx="846.4" cy="516.5" r="2.2"/>
<circle cx="1040.3" cy="537.1" r="2.2"/>
<circle cx="1191.3" cy="541.2" r="2.2"/>
<circle cx="1248" cy="539.2" r="2.2"/>
<circle cx="1237.3" cy="546.7" r="2.2"/>
<circle cx="982.8" cy="540.4" r="2.2"/>
<circle cx="979" cy="540.2" r="2.2"/>
<circle cx="965.9" cy="540.3" r="2.2"/>
<circle cx="994.3" cy="540.8" r="2.2"/>
<circle cx="1217.4" cy="528.2" r="2.2"/>
<circle cx="1056.3" cy="536.6" r="2.2"/>
<circle cx="1000.5" cy="541.7" r="2.2"/>
<circle cx="971.8" cy="528.3" r="2.2"/>
<circle cx="1043.5" cy="527.8" r="2.2"/>
<circle cx="1116" cy="529.7" r="2.2"/>
<circle cx="1162" cy="542.6" r="2.2"/>
<circle cx="1114.3" cy="526.5" r="2.2"/>
<circle cx="1083.8" cy="541.4" r="2.2"/>
<circle cx="1102.7" cy="531.6" r="2.2"/>
<circle cx="1067.3" cy="533.8" r="2.2"/>
<circle cx="1137" cy="541.8" r="2.2"/>
<circle cx="1035" cy="527.7" r="2.2"/>
<circle cx="1150.3" cy="539.3" r="2.2"/>
<circle cx="1024.4" cy="531.1" r="2.2"/>
<circle cx="1093.5" cy="520.2" r="2.2"/>
<circle cx="1041.3" cy="530.5" r="2.2"/>
<circle cx="1198.5" cy="538" r="2.2"/>
<circle cx="1119.9" cy="517.6" r="2.2"/>
<circle cx="1082.9" cy="518.5" r="2.2"/>
<circle cx="1120.2" cy="536.7" r="2.2"/>
<circle cx="1071.9" cy="535.5" r="2.2"/>
<circle cx="1144.4" cy="537.8" r="2.2"/>
<circle cx="1049.8" cy="535.7" r="2.2"/>
<circle cx="990.8" cy="535.4" r="2.2"/>
<circle cx="1177.5" cy="543.2" r="2.2"/>
<circle cx="1154.4" cy="520.3" r="2.2"/>
<circle cx="1077.3" cy="523.7" r="2.2"/>
<circle cx="1168.5" cy="542.7" r="2.2"/>
<circle cx="1064.9" cy="536.3" r="2.2"/>
<circle cx="1135.9" cy="531" r="2.2"/>
<circle cx="1111.9" cy="541.2" r="2.2"/>
<circle cx="1140" cy="540.5" r="2.2"/>
<circle cx="962.3" cy="535.5" r="2.2"/>
<circle cx="888.3" cy="531" r="2.2"/>
<circle cx="1111.8" cy="531.4" r="2.2"/>
<circle cx="1086.4" cy="528.3" r="2.2"/>
<circle cx="1180.8" cy="544.4" r="2.2"/>
<circle cx="1044.9" cy="539.6" r="2.2"/>
<circle cx="1199.6" cy="543.5" r="2.2"/>
<circle cx="1024.6" cy="525.8" r="2.2"/>
<circle cx="1148.1" cy="547" r="2.2"/>
<circle cx="1095.1" cy="534" r="2.2"/>
<circle cx="1175.2" cy="547.3" r="2.2"/>
<circle cx="1129.4" cy="540.5" r="2.2"/>
<circle cx="1148.4" cy="533.2" r="2.2"/>
<circle cx="925.3" cy="529.5" r="2.2"/>
<circle cx="1120.2" cy="529" r="2.2"/>
<circle cx="1003.1" cy="534.6" r="2.2"/>
<circle cx="1155.2" cy="544.2" r="2.2"/>
<circle cx="1098.1" cy="537.3" r="2.2"/>
<circle cx="1127.9" cy="540.6" r="2.2"/>
<circle cx="1129.1" cy="537" r="2.2"/>
<circle cx="1151.3" cy="538.8" r="2.2"/>
<circle cx="1035.9" cy="532.4" r="2.2"/>
<circle cx="1068.6" cy="532.1" r="2.2"/>
<circle cx="1038.3" cy="528" r="2.2"/>
<circle cx="1059.9" cy="526" r="2.2"/>
<circle cx="1050.7" cy="539.3" r="2.2"/>
<circle cx="1110.6" cy="544.6" r="2.2"/>
<circle cx="1027.6" cy="517.4" r="2.2"/>
<circle cx="1000" cy="534.8" r="2.2"/>
<circle cx="970.1" cy="539" r="2.2"/>
<circle cx="1038.9" cy="533" r="2.2"/>
<circle cx="1124.2" cy="536.1" r="2.2"/>
<circle cx="959" cy="520.2" r="2.2"/>
<circle cx="1047.3" cy="525.5" r="2.2"/>
<circle cx="1169.5" cy="542.3" r="2.2"/>
<circle cx="1145.7" cy="542.4" r="2.2"/>
<circle cx="1187.2" cy="541.6" r="2.2"/>
<circle cx="1089" cy="530.7" r="2.2"/>
<circle cx="963.4" cy="525.8" r="2.2"/>
<circle cx="938" cy="528.9" r="2.2"/>
<circle cx="1048.1" cy="521.9" r="2.2"/>
<circle cx="1040.9" cy="523.1" r="2.2"/>
<circle cx="1094.2" cy="539.2" r="2.2"/>
<circle cx="1146.5" cy="544.5" r="2.2"/>
<circle cx="1056.4" cy="536.6" r="2.2"/>
<circle cx="979.9" cy="525.9" r="2.2"/>
<circle cx="1121.3" cy="532.6" r="2.2"/>
<circle cx="1105.5" cy="542.8" r="2.2"/>
<circle cx="1097.9" cy="544.1" r="2.2"/>
<circle cx="1099.9" cy="534.8" r="2.2"/>
<circle cx="985.9" cy="536.7" r="2.2"/>
<circle cx="994.5" cy="534.9" r="2.2"/>
<circle cx="892.1" cy="534.9" r="2.2"/>
<circle cx="911.5" cy="518.6" r="2.2"/>
<circle cx="1029.3" cy="528.7" r="2.2"/>
<circle cx="1069.1" cy="541.7" r="2.2"/>
<circle cx="1105.8" cy="545.2" r="2.2"/>
<circle cx="1132.7" cy="532.9" r="2.2"/>
<circle cx="941.1" cy="530.5" r="2.2"/>
<circle cx="1187" cy="547.4" r="2.2"/>
<circle cx="994.6" cy="532.3" r="2.2"/>
<circle cx="1087.2" cy="529.4" r="2.2"/>
<circle cx="1065.4" cy="530.8" r="2.2"/>
<circle cx="1136.2" cy="544.1" r="2.2"/>
<circle cx="1168" cy="540.8" r="2.2"/>
<circle cx="1181.7" cy="542.4" r="2.2"/>
<circle cx="1102.4" cy="539.2" r="2.2"/>
<circle cx="1101.3" cy="540.7" r="2.2"/>
<circle cx="955.3" cy="519.9" r="2.2"/>
<circle cx="955" cy="524.4" r="2.2"/>
<circle cx="1078.3" cy="539.8" r="2.2"/>
<circle cx="1163.9" cy="539.9" r="2.2"/>
<circle cx="962.4" cy="532.8" r="2.2"/>
<circle cx="1057.7" cy="541.7" r="2.2"/>
<circle cx="1129" cy="543" r="2.2"/>
<circle cx="1158.8" cy="539.2" r="2.2"/>
<circle cx="1164.5" cy="544.2" r="2.2"/>
<circle cx="1168.6" cy="547.3" r="2.2"/>
<circle cx="1022.8" cy="521.2" r="2.2"/>
<circle cx="1139.3" cy="539.6" r="2.2"/>
<circle cx="1171.4" cy="530.7" r="2.2"/>
<circle cx="1091.3" cy="537.4" r="2.2"/>
<circle cx="1051.6" cy="540.6" r="2.2"/>
<circle cx="1093.1" cy="537.8" r="2.2"/>
<circle cx="1012.8" cy="524.4" r="2.2"/>
<circle cx="1021.8" cy="537.4" r="2.2"/>
<circle cx="1137.6" cy="538" r="2.2"/>
<circle cx="1080.5" cy="534.8" r="2.2"/>
<circle cx="1146.3" cy="541.9" r="2.2"/>
<circle cx="1088" cy="542.1" r="2.2"/>
<circle cx="1173.3" cy="537.6" r="2.2"/>
<circle cx="1052.4" cy="531.6" r="2.2"/>
<circle cx="1155.2" cy="537.4" r="2.2"/>
<circle cx="1112.5" cy="539.8" r="2.2"/>
<circle cx="1110.5" cy="534" r="2.2"/>
<circle cx="1144.9" cy="537.4" r="2.2"/>
<circle cx="1149.4" cy="541.1" r="2.2"/>
<circle cx="1061.3" cy="533.3" r="2.2"/>
<circle cx="1088.7" cy="516.2" r="2.2"/>
<circle cx="1104" cy="541.8" r="2.2"/>
<circle cx="954.4" cy="528.5" r="2.2"/>
<circle cx="1124.3" cy="522.8" r="2.2"/>
<circle cx="891.6" cy="528.6" r="2.2"/>
<circle cx="994.2" cy="517.2" r="2.2"/>
<circle cx="1188.3" cy="526.6" r="2.2"/>
<circle cx="1058.2" cy="523.4" r="2.2"/>
<circle cx="1116.5" cy="534.7" r="2.2"/>
<circle cx="1066.2" cy="529.7" r="2.2"/>
<circle cx="1031.8" cy="537.7" r="2.2"/>
<circle cx="1140" cy="537.9" r="2.2"/>
<circle cx="1055.6" cy="528.5" r="2.2"/>
<circle cx="1042.3" cy="527.7" r="2.2"/>
<circle cx="1025.2" cy="536.7" r="2.2"/>
<circle cx="1080.7" cy="540.1" r="2.2"/>
<circle cx="1125.1" cy="525.8" r="2.2"/>
<circle cx="1105.2" cy="535.1" r="2.2"/>
<circle cx="1114.1" cy="531.8" r="2.2"/>
<circle cx="1140.4" cy="540.2" r="2.2"/>
<circle cx="1060.4" cy="515.7" r="2.2"/>
<circle cx="1024.6" cy="529.4" r="2.2"/>
<circle cx="1141.7" cy="540.4" r="2.2"/>
<circle cx="1130.8" cy="525.2" r="2.2"/>
<circle cx="1068.6" cy="535.2" r="2.2"/>
<circle cx="1172.5" cy="541.7" r="2.2"/>
<circle cx="970.9" cy="526.3" r="2.2"/>
<circle cx="940.8" cy="519.7" r="2.2"/>
<circle cx="1060.2" cy="521.4" r="2.2"/>
<circle cx="1117.4" cy="536.1" r="2.2"/>
<circle cx="1093.3" cy="541" r="2.2"/>
<circle cx="1179" cy="536.1" r="2.2"/>
<circle cx="1129.1" cy="531.7" r="2.2"/>
<circle cx="1158.3" cy="534.9" r="2.2"/>
<circle cx="917.2" cy="535.9" r="2.2"/>
<circle cx="1113.8" cy="534.6" r="2.2"/>
<circle cx="983.3" cy="537.9" r="2.2"/>
<circle cx="1122.1" cy="543.4" r="2.2"/>
<circle cx="1119.4" cy="524.9" r="2.2"/>
<circle cx="1056.9" cy="532.1" r="2.2"/>
<circle cx="1017.4" cy="518.7" r="2.2"/>
<circle cx="1116.5" cy="546" r="2.2"/>
<circle cx="1111.8" cy="541.1" r="2.2"/>
<circle cx="1154.8" cy="545.8" r="2.2"/>
<circle cx="1100.7" cy="541.6" r="2.2"/>
<circle cx="964.1" cy="514.4" r="2.2"/>
<circle cx="1140.8" cy="543" r="2.2"/>
<circle cx="1132" cy="537.3" r="2.2"/>
<circle cx="924.4" cy="525.5" r="2.2"/>
<circle cx="1066.2" cy="531.1" r="2.2"/>
<circle cx="1059.7" cy="541.6" r="2.2"/>
<circle cx="1076.4" cy="519.8" r="2.2"/>
<circle cx="1039.3" cy="512.7" r="2.2"/>
<circle cx="1006.3" cy="535.8" r="2.2"/>
<circle cx="984.8" cy="538.9" r="2.2"/>
<circle cx="1098.3" cy="537.3" r="2.2"/>
<circle cx="1119.8" cy="541.8" r="2.2"/>
<circle cx="1151" cy="537.5" r="2.2"/>
<circle cx="1162.4" cy="533.8" r="2.2"/>
<circle cx="1157.2" cy="526.2" r="2.2"/>
<circle cx="1139.7" cy="536.4" r="2.2"/>
<circle cx="1081.8" cy="531.7" r="2.2"/>
<circle cx="1098.3" cy="536.1" r="2.2"/>
<circle cx="962.2" cy="530.1" r="2.2"/>
<circle cx="1071" cy="544.3" r="2.2"/>
<circle cx="1121.3" cy="543.4" r="2.2"/>
<circle cx="1121" cy="532.9" r="2.2"/>
<circle cx="1086.8" cy="533.3" r="2.2"/>
<circle cx="924.3" cy="516.1" r="2.2"/>
<circle cx="1158.5" cy="537" r="2.2"/>
<circle cx="1083.9" cy="520" r="2.2"/>
<circle cx="1180.4" cy="544.3" r="2.2"/>
<circle cx="1046.7" cy="530.1" r="2.2"/>
<circle cx="1105.2" cy="534.6" r="2.2"/>
<circle cx="918.4" cy="540.4" r="2.2"/>
<circle cx="976.3" cy="533.7" r="2.2"/>
<circle cx="1128.3" cy="537.1" r="2.2"/>
<circle cx="999.9" cy="523.9" r="2.2"/>
<circle cx="1182.6" cy="533.9" r="2.2"/>
<circle cx="1029.4" cy="530.3" r="2.2"/>
<circle cx="934.8" cy="532.8" r="2.2"/>
<circle cx="934.2" cy="522.1" r="2.2"/>
<circle cx="1168.4" cy="544" r="2.2"/>
<circle cx="961.6" cy="524.9" r="2.2"/>
<circle cx="1119.2" cy="538.6" r="2.2"/>
<circle cx="1123.6" cy="537.2" r="2.2"/>
<circle cx="1117.4" cy="541" r="2.2"/>
<circle cx="1030.7" cy="541.9" r="2.2"/>
<circle cx="957.7" cy="529.6" r="2.2"/>
<circle cx="1027.7" cy="514.3" r="2.2"/>
<circle cx="1041.9" cy="538" r="2.2"/>
<circle cx="1143.6" cy="546.8" r="2.2"/>
<circle cx="1160.8" cy="540.4" r="2.2"/>
<circle cx="951.7" cy="540.1" r="2.2"/>
<circle cx="1110.9" cy="540" r="2.2"/>
<circle cx="1113.7" cy="545.2" r="2.2"/>
<circle cx="1170.4" cy="517.3" r="2.2"/>
<circle cx="1135" cy="540" r="2.2"/>
<circle cx="1071.5" cy="525.6" r="2.2"/>
<circle cx="1183.8" cy="542.2" r="2.2"/>
<circle cx="1027.4" cy="526.3" r="2.2"/>
<circle cx="1018.7" cy="529.6" r="2.2"/>
<circle cx="1001.1" cy="536.3" r="2.2"/>
<circle cx="923.9" cy="538.3" r="2.2"/>
<circle cx="1047.9" cy="525" r="2.2"/>
<circle cx="1105.1" cy="539.7" r="2.2"/>
<circle cx="1035.2" cy="523.7" r="2.2"/>
<circle cx="1177.5" cy="539.6" r="2.2"/>
<circle cx="1080.2" cy="536.9" r="2.2"/>
<circle cx="950.8" cy="536.2" r="2.2"/>
<circle cx="1141.3" cy="516.8" r="2.2"/>
<circle cx="1177.7" cy="539.4" r="2.2"/>
<circle cx="1016.4" cy="514.4" r="2.2"/>
<circle cx="1135.2" cy="535.4" r="2.2"/>
<circle cx="1061.5" cy="531.3" r="2.2"/>
<circle cx="1065.7" cy="533.8" r="2.2"/>
<circle cx="1161.5" cy="539.4" r="2.2"/>
<circle cx="1190" cy="534.8" r="2.2"/>
<circle cx="1016.9" cy="518.9" r="2.2"/>
<circle cx="1000" cy="518.7" r="2.2"/>
<circle cx="946.5" cy="527.9" r="2.2"/>
<circle cx="994.2" cy="535.1" r="2.2"/>
<circle cx="901.1" cy="533.1" r="2.2"/>
<circle cx="1075.1" cy="529.6" r="2.2"/>
<circle cx="1130.2" cy="527.4" r="2.2"/>
<circle cx="1086.3" cy="521.9" r="2.2"/>
<circle cx="1151.3" cy="539.7" r="2.2"/>
<circle cx="1097.1" cy="538" r="2.2"/>
<circle cx="1077.2" cy="544.6" r="2.2"/>
<circle cx="1095.8" cy="538.7" r="2.2"/>
</g>
<g fill="#d62a2a">
<circle cx="855.1" cy="128.9" r="5.4"/>
<circle cx="982.9" cy="146.5" r="5.4"/>
<circle cx="928.3" cy="187.6" r="5.4"/>
<circle cx="900.3" cy="222" r="5.4"/>
<circle cx="877.1" cy="228.7" r="5.4"/>
<circle cx="920.1" cy="241.4" r="5.4"/>
<circle cx="909.3" cy="249.3" r="5.4"/>
<circle cx="918.6" cy="250.4" r="5.4"/>
<circle cx="961.6" cy="258.6" r="5.4"/>
<circle cx="969.1" cy="266.4" r="5.4"/>
<circle cx="987" cy="276.9" r="5.4"/>
<circle cx="1062.5" cy="266.4" r="5.4"/>
<circle cx="1059.5" cy="282.9" r="5.4"/>
<circle cx="1051.6" cy="302.3" r="5.4"/>
<circle cx="840.5" cy="296.3" r="5.4"/>
<circle cx="872.6" cy="293.3" r="5.4"/>
<circle cx="897.3" cy="309.4" r="5.4"/>
<circle cx="966.8" cy="319.9" r="5.4"/>
<circle cx="970.2" cy="333.3" r="5.4"/>
<circle cx="926.8" cy="337.1" r="5.4"/>
<circle cx="927.6" cy="364.3" r="5.4"/>
<circle cx="969.1" cy="386" r="5.4"/>
<circle cx="870" cy="432" r="5.4"/>
<circle cx="976.5" cy="454.4" r="5.4"/>
<circle cx="880.9" cy="465.2" r="5.4"/>
<circle cx="898.1" cy="471.2" r="5.4"/>
<circle cx="936.5" cy="469.7" r="5.4"/>
<circle cx="999.7" cy="469.7" r="5.4"/>
<circle cx="1050.5" cy="456.7" r="5.4"/>
<circle cx="1055.8" cy="460.8" r="5.4"/>
<circle cx="1064.3" cy="471.6" r="5.4"/>
<circle cx="1087.1" cy="460.4" r="5.4"/>
<circle cx="1087.5" cy="482.8" r="5.4"/>
<circle cx="1035.9" cy="477.6" r="5.4"/>
<circle cx="926.5" cy="481.3" r="5.4"/>
<circle cx="868.5" cy="493.3" r="5.4"/>
<circle cx="1015.8" cy="487.7" r="5.4"/>
<circle cx="1017.6" cy="493.3" r="5.4"/>
<circle cx="974.7" cy="485.8" r="5.4"/>
<circle cx="980.3" cy="489.5" r="5.4"/>
<circle cx="987.7" cy="491.4" r="5.4"/>
<circle cx="993.3" cy="497" r="5.4"/>
<circle cx="970.9" cy="495.1" r="5.4"/>
<circle cx="906.7" cy="503.7" r="5.4"/>
<circle cx="914.9" cy="505.2" r="5.4"/>
<circle cx="923.1" cy="500.7" r="5.4"/>
<circle cx="918.6" cy="508.2" r="5.4"/>
<circle cx="942.9" cy="500.7" r="5.4"/>
<circle cx="933.6" cy="509" r="5.4"/>
<circle cx="944.8" cy="509" r="5.4"/>
<circle cx="957.8" cy="509" r="5.4"/>
<circle cx="965.3" cy="510.1" r="5.4"/>
<circle cx="970.9" cy="507.5" r="5.4"/>
<circle cx="978.4" cy="510.1" r="5.4"/>
<circle cx="984" cy="511.2" r="5.4"/>
<circle cx="1000.1" cy="506.4" r="5.4"/>
<circle cx="1012" cy="506.4" r="5.4"/>
<circle cx="1021.4" cy="509" r="5.4"/>
<circle cx="1036.3" cy="509" r="5.4"/>
<circle cx="1041.9" cy="498.9" r="5.4"/>
<circle cx="1053.1" cy="498.9" r="5.4"/>
<circle cx="1049.4" cy="509" r="5.4"/>
<circle cx="1056.9" cy="505.2" r="5.4"/>
<circle cx="1074.4" cy="501.5" r="5.4"/>
<circle cx="1083" cy="507.5" r="5.4"/>
<circle cx="1079.3" cy="511.2" r="5.4"/>
<circle cx="1086.8" cy="511.2" r="5.4"/>
<circle cx="1096.1" cy="505.2" r="5.4"/>
<circle cx="1105.5" cy="502.6" r="5.4"/>
<circle cx="1124.9" cy="508.2" r="5.4"/>
<circle cx="1171.6" cy="505.6" r="5.4"/>
<circle cx="976.5" cy="500.7" r="5.4"/>
<circle cx="967.2" cy="498.9" r="5.4"/>
<circle cx="1038.2" cy="504.5" r="5.4"/>
<circle cx="1043.8" cy="510.1" r="5.4"/>
<circle cx="1051.3" cy="502.6" r="5.4"/>
<circle cx="961.6" cy="504.5" r="5.4"/>
<circle cx="950.4" cy="510.1" r="5.4"/>
<circle cx="1077.4" cy="504.5" r="5.4"/>
<circle cx="1024.4" cy="502.6" r="5.4"/>
<circle cx="972.8" cy="490.3" r="5.4"/>
<circle cx="984" cy="495.1" r="5.4"/>
<circle cx="977.3" cy="505.2" r="5.4"/>
<circle cx="1006.4" cy="509" r="5.4"/>
<circle cx="1032.6" cy="500.7" r="5.4"/>
<circle cx="939.9" cy="508.2" r="5.4"/>
<circle cx="910.4" cy="509" r="5.4"/>
<circle cx="1084.9" cy="502.6" r="5.4"/>
<circle cx="1040.8" cy="505.2" r="5.4"/>
<circle cx="1055" cy="510.1" r="5.4"/>
</g>
<line x1="807.3" y1="419.3" x2="1222.2" y2="571" stroke="#000" stroke-width="1.9"/>
</g>
<rect x="1094.2" y="121.6" width="174.1" height="48.3" fill="#fff" stroke="#d4d4d4" stroke-width="1.4" rx="5" fill-opacity="0.8"/>
<circle cx="1132.8" cy="146.1" r="5.4" fill="#d62a2a" stroke="none" stroke-width="1"/>
<text transform="translate(1183,154.4)" font-size="27.7">dS&gt;3</text>
<rect x="807.3" y="107.3" width="475.1" height="463.7" fill="none" stroke="#262626" stroke-width="1.7"/>
<line x1="875.5" y1="571" x2="875.5" y2="576.5" stroke="#262626" stroke-width="1.5"/>
<text transform="translate(875.5,604.5) scale(0.952,1)" font-size="34.1" text-anchor="middle">0.4</text>
<line x1="1028.8" y1="571" x2="1028.8" y2="576.5" stroke="#262626" stroke-width="1.5"/>
<text transform="translate(1028.8,604.5) scale(0.952,1)" font-size="34.1" text-anchor="middle">0.6</text>
<line x1="1182.1" y1="571" x2="1182.1" y2="576.5" stroke="#262626" stroke-width="1.5"/>
<text transform="translate(1182.1,604.5) scale(0.952,1)" font-size="34.1" text-anchor="middle">0.8</text>
<line x1="801.8" y1="553.6" x2="807.3" y2="553.6" stroke="#262626" stroke-width="1.5"/>
<text transform="translate(796.8,566) scale(0.952,1)" font-size="34.1" text-anchor="end">0</text>
<line x1="801.8" y1="485" x2="807.3" y2="485" stroke="#262626" stroke-width="1.5"/>
<text transform="translate(796.8,497.4) scale(0.952,1)" font-size="34.1" text-anchor="end">5</text>
<line x1="801.8" y1="416.3" x2="807.3" y2="416.3" stroke="#262626" stroke-width="1.5"/>
<text transform="translate(796.8,428.7) scale(0.952,1)" font-size="34.1" text-anchor="end">10</text>
<line x1="801.8" y1="347.6" x2="807.3" y2="347.6" stroke="#262626" stroke-width="1.5"/>
<text transform="translate(796.8,360.1) scale(0.952,1)" font-size="34.1" text-anchor="end">15</text>
<line x1="801.8" y1="279" x2="807.3" y2="279" stroke="#262626" stroke-width="1.5"/>
<text transform="translate(796.8,291.4) scale(0.952,1)" font-size="34.1" text-anchor="end">20</text>
<line x1="801.8" y1="210.4" x2="807.3" y2="210.4" stroke="#262626" stroke-width="1.5"/>
<text transform="translate(796.8,222.8) scale(0.952,1)" font-size="34.1" text-anchor="end">25</text>
<line x1="801.8" y1="141.7" x2="807.3" y2="141.7" stroke="#262626" stroke-width="1.5"/>
<text transform="translate(796.8,154.1) scale(0.952,1)" font-size="34.1" text-anchor="end">30</text>
<text transform="translate(1044.8,640.8) scale(0.958,1)" font-size="32.7" text-anchor="middle">Conservation ratio</text>
<text transform="translate(744.5,339) rotate(-90)" font-size="32.7" text-anchor="middle">dS</text>
<path d="M1546.1 105.5C1548 105.3 1552.8 104.7 1557.5 104.2C1562.2 103.7 1568.4 102.5 1574.4 102.3C1580.4 102.1 1585.7 103 1593.7 103.3C1601.8 103.6 1614.7 104.8 1622.7 104.2C1630.8 103.6 1635.6 101.3 1642 99.4C1648.4 97.5 1654.9 95.8 1661.3 92.7C1667.7 89.7 1674.2 85 1680.6 81.1C1687 77.2 1694.1 70.5 1699.9 69.1C1705.7 67.6 1709.6 71.1 1715.4 72.4C1721.2 73.8 1729.2 77.7 1734.7 77.2C1740.2 76.7 1744.4 72.7 1748.3 69.5C1752.2 66.3 1754.8 61.8 1758 57.9C1761.2 54 1764.4 48.9 1767.6 46.3C1770.8 43.7 1773.1 42.2 1777.3 42.5C1781.5 42.8 1787.2 46.8 1792.7 48.3C1798.2 49.8 1804.9 51.7 1810.1 51.2C1815.2 50.7 1819.1 48.3 1823.6 45.4C1828.1 42.5 1832.6 36.4 1837.1 33.8C1841.6 31.2 1845.4 29.9 1850.6 29.9C1855.8 29.9 1862.5 32 1868 33.8C1873.5 35.6 1878.6 37.5 1883.4 40.5C1888.2 43.5 1892.1 47.3 1896.9 52.1C1901.7 56.9 1906.6 65.5 1912.4 69.5C1918.2 73.5 1926.6 74 1931.7 76.3C1936.8 78.5 1938.5 78.8 1943.3 83C1948.1 87.2 1956.2 97.9 1960.7 101.4C1965.2 104.9 1965.8 104.1 1970.3 103.9C1974.8 103.7 1981.9 100 1987.7 100C1993.5 100 1999.6 103.1 2005.1 103.9C2010.6 104.7 2018.3 104.8 2020.9 105L2020.9 106.1L1546.1 106.1Z" fill="#1f77b4" fill-opacity="0.57"/>
<path d="M1546.1 105.5C1548 105.3 1552.8 104.7 1557.5 104.2C1562.2 103.7 1568.4 102.5 1574.4 102.3C1580.4 102.1 1585.7 103 1593.7 103.3C1601.8 103.6 1614.7 104.8 1622.7 104.2C1630.8 103.6 1635.6 101.3 1642 99.4C1648.4 97.5 1654.9 95.8 1661.3 92.7C1667.7 89.7 1674.2 85 1680.6 81.1C1687 77.2 1694.1 70.5 1699.9 69.1C1705.7 67.6 1709.6 71.1 1715.4 72.4C1721.2 73.8 1729.2 77.7 1734.7 77.2C1740.2 76.7 1744.4 72.7 1748.3 69.5C1752.2 66.3 1754.8 61.8 1758 57.9C1761.2 54 1764.4 48.9 1767.6 46.3C1770.8 43.7 1773.1 42.2 1777.3 42.5C1781.5 42.8 1787.2 46.8 1792.7 48.3C1798.2 49.8 1804.9 51.7 1810.1 51.2C1815.2 50.7 1819.1 48.3 1823.6 45.4C1828.1 42.5 1832.6 36.4 1837.1 33.8C1841.6 31.2 1845.4 29.9 1850.6 29.9C1855.8 29.9 1862.5 32 1868 33.8C1873.5 35.6 1878.6 37.5 1883.4 40.5C1888.2 43.5 1892.1 47.3 1896.9 52.1C1901.7 56.9 1906.6 65.5 1912.4 69.5C1918.2 73.5 1926.6 74 1931.7 76.3C1936.8 78.5 1938.5 78.8 1943.3 83C1948.1 87.2 1956.2 97.9 1960.7 101.4C1965.2 104.9 1965.8 104.1 1970.3 103.9C1974.8 103.7 1981.9 100 1987.7 100C1993.5 100 1999.6 103.1 2005.1 103.9C2010.6 104.7 2018.3 104.8 2020.9 105" fill="none" stroke="#3679ae" stroke-width="1.7"/>
<path d="M1546.1 74.3C1547 77.4 1549.4 87.7 1551.3 92.7C1553.2 97.7 1554.9 102.1 1557.5 104.2C1560.1 105.8 1563.5 105.4 1566.7 105.4C1569.9 105.4 1572.9 105.8 1576.4 104.2C1580 101.4 1584.5 93.3 1588 88.8C1591.5 84.3 1594.7 79.6 1597.6 77.2C1600.5 74.8 1602.4 74.5 1605.3 74.3C1608.2 74.1 1611.5 75.2 1615 76.3C1618.5 77.4 1623.1 81.3 1626.6 81.1C1630.1 80.9 1632.3 79.2 1636.2 75.3C1640.1 71.4 1645.5 62.7 1649.7 57.9C1653.9 53.1 1656.8 49.7 1661.3 46.3C1665.8 42.9 1672 40 1676.8 37.6C1681.6 35.2 1685.5 34.3 1690.3 31.9C1695.1 29.5 1701.3 25.5 1705.7 23.2C1710.1 20.9 1713.5 18.6 1716.7 18.3C1719.9 18 1721.3 17.5 1725 21.2C1728.7 24.9 1733.9 34.5 1738.7 40.5C1743.5 46.5 1749.9 53.7 1754.1 56.9C1758.3 60.1 1760.5 60.3 1763.7 59.8C1766.9 59.3 1769.9 57 1773.4 54.1C1777 51.2 1781.5 45.2 1785 42.5C1788.5 39.8 1791.4 37.7 1794.6 38C1797.8 38.3 1800.8 40.1 1804.3 44.4C1807.8 48.7 1811.7 57.6 1815.9 63.7C1820.1 69.8 1824.6 76.3 1829.4 81.1C1834.2 85.9 1839 90 1844.8 92.7C1850.6 95.4 1857.7 95.6 1864.1 97.5C1870.5 99.4 1877.6 103.1 1883.4 103.9C1889.2 104.7 1893.8 103.2 1898.9 102.3C1904.1 101.4 1908.8 98.3 1914.3 98.5C1919.8 98.7 1927.2 102.2 1931.7 103.3C1936.2 104.3 1926.5 104.5 1941.4 104.8C1956.3 105.1 2007.7 105 2020.9 105L2020.9 106.1L1546.1 106.1Z" fill="#d62728" fill-opacity="0.6"/>
<path d="M1546.1 74.3C1547 77.4 1549.4 87.7 1551.3 92.7C1553.2 97.7 1554.9 102.1 1557.5 104.2C1560.1 105.8 1563.5 105.4 1566.7 105.4C1569.9 105.4 1572.9 105.8 1576.4 104.2C1580 101.4 1584.5 93.3 1588 88.8C1591.5 84.3 1594.7 79.6 1597.6 77.2C1600.5 74.8 1602.4 74.5 1605.3 74.3C1608.2 74.1 1611.5 75.2 1615 76.3C1618.5 77.4 1623.1 81.3 1626.6 81.1C1630.1 80.9 1632.3 79.2 1636.2 75.3C1640.1 71.4 1645.5 62.7 1649.7 57.9C1653.9 53.1 1656.8 49.7 1661.3 46.3C1665.8 42.9 1672 40 1676.8 37.6C1681.6 35.2 1685.5 34.3 1690.3 31.9C1695.1 29.5 1701.3 25.5 1705.7 23.2C1710.1 20.9 1713.5 18.6 1716.7 18.3C1719.9 18 1721.3 17.5 1725 21.2C1728.7 24.9 1733.9 34.5 1738.7 40.5C1743.5 46.5 1749.9 53.7 1754.1 56.9C1758.3 60.1 1760.5 60.3 1763.7 59.8C1766.9 59.3 1769.9 57 1773.4 54.1C1777 51.2 1781.5 45.2 1785 42.5C1788.5 39.8 1791.4 37.7 1794.6 38C1797.8 38.3 1800.8 40.1 1804.3 44.4C1807.8 48.7 1811.7 57.6 1815.9 63.7C1820.1 69.8 1824.6 76.3 1829.4 81.1C1834.2 85.9 1839 90 1844.8 92.7C1850.6 95.4 1857.7 95.6 1864.1 97.5C1870.5 99.4 1877.6 103.1 1883.4 103.9C1889.2 104.7 1893.8 103.2 1898.9 102.3C1904.1 101.4 1908.8 98.3 1914.3 98.5C1919.8 98.7 1927.2 102.2 1931.7 103.3C1936.2 104.3 1926.5 104.5 1941.4 104.8C1956.3 105.1 2007.7 105 2020.9 105" fill="none" stroke="#c8282d" stroke-width="1.7"/>
<path d="M1546.1 105.5C1548 105.3 1552.8 104.7 1557.5 104.2C1562.2 103.7 1568.4 102.5 1574.4 102.3C1580.4 102.1 1585.7 103 1593.7 103.3C1601.8 103.6 1614.7 104.8 1622.7 104.2C1630.8 103.6 1635.6 101.3 1642 99.4C1648.4 97.5 1654.9 95.8 1661.3 92.7C1667.7 89.7 1674.2 85 1680.6 81.1C1687 77.2 1694.1 70.5 1699.9 69.1C1705.7 67.6 1709.6 71.1 1715.4 72.4C1721.2 73.8 1729.2 77.7 1734.7 77.2C1740.2 76.7 1744.4 72.7 1748.3 69.5C1752.2 66.3 1754.8 61.8 1758 57.9C1761.2 54 1764.4 48.9 1767.6 46.3C1770.8 43.7 1773.1 42.2 1777.3 42.5C1781.5 42.8 1787.2 46.8 1792.7 48.3C1798.2 49.8 1804.9 51.7 1810.1 51.2C1815.2 50.7 1819.1 48.3 1823.6 45.4C1828.1 42.5 1832.6 36.4 1837.1 33.8C1841.6 31.2 1845.4 29.9 1850.6 29.9C1855.8 29.9 1862.5 32 1868 33.8C1873.5 35.6 1878.6 37.5 1883.4 40.5C1888.2 43.5 1892.1 47.3 1896.9 52.1C1901.7 56.9 1906.6 65.5 1912.4 69.5C1918.2 73.5 1926.6 74 1931.7 76.3C1936.8 78.5 1938.5 78.8 1943.3 83C1948.1 87.2 1956.2 97.9 1960.7 101.4C1965.2 104.9 1965.8 104.1 1970.3 103.9C1974.8 103.7 1981.9 100 1987.7 100C1993.5 100 1999.6 103.1 2005.1 103.9C2010.6 104.7 2018.3 104.8 2020.9 105" fill="none" stroke="#3679ae" stroke-width="1.7" stroke-opacity="0.55"/>
<line x1="1716.7" y1="12.5" x2="1716.7" y2="106.3" stroke="#c8282d" stroke-width="2" stroke-dasharray="7.5 3.2"/>
<line x1="1823.6" y1="12.5" x2="1823.6" y2="106.3" stroke="#3679ae" stroke-width="2" stroke-dasharray="7.5 3.2"/>
<path d="M2024.8 108.2C2024.8 124.9 2024.8 178.4 2024.8 208.8C2024.8 239.2 2024.7 273.6 2024.8 290.4C2024.9 307.2 2024.9 302.7 2025.4 309.5C2025.8 316.3 2027.3 323.1 2027.5 331.2C2027.8 339.4 2026.4 351.2 2026.7 358.4C2027 365.7 2028.3 369.8 2029.4 374.8C2030.6 379.7 2032.5 383.8 2033.5 388.4C2034.6 392.9 2035.2 397.4 2035.7 402C2036.2 406.5 2035.5 411 2036.2 415.6C2037 420.1 2038.3 424.6 2040.3 429.2C2042.4 433.7 2045.5 438.2 2048.5 442.8C2051.4 447.3 2053.7 452.1 2058 456.4C2062.3 460.7 2068.9 464.8 2074.3 468.6C2079.8 472.5 2086.1 476.1 2090.7 479.5C2095.2 482.9 2099.3 486.1 2101.5 489C2103.8 492 2104.3 494.5 2104.3 497.2C2104.3 499.9 2103.3 503.1 2101.5 505.3C2099.7 507.6 2097 508.5 2093.4 510.8C2089.7 513 2085.2 515.8 2079.8 518.9C2074.3 522.1 2066.6 526.6 2060.7 529.8C2054.8 533 2049.4 535.3 2044.4 538C2039.4 540.7 2034.2 543.6 2030.8 546.1C2027.4 548.6 2024.9 550.7 2024 552.9C2023.9 555.2 2023.9 557.5 2025.4 559.7C2027 562 2030.4 564.6 2033.5 566.5C2036.7 568.4 2042.6 570.4 2044.4 571.2L2023.6 571.2L2023.6 108.2Z" fill="#1f77b4" fill-opacity="0.57"/>
<path d="M2024.8 108.2C2024.8 124.9 2024.8 178.4 2024.8 208.8C2024.8 239.2 2024.7 273.6 2024.8 290.4C2024.9 307.2 2024.9 302.7 2025.4 309.5C2025.8 316.3 2027.3 323.1 2027.5 331.2C2027.8 339.4 2026.4 351.2 2026.7 358.4C2027 365.7 2028.3 369.8 2029.4 374.8C2030.6 379.7 2032.5 383.8 2033.5 388.4C2034.6 392.9 2035.2 397.4 2035.7 402C2036.2 406.5 2035.5 411 2036.2 415.6C2037 420.1 2038.3 424.6 2040.3 429.2C2042.4 433.7 2045.5 438.2 2048.5 442.8C2051.4 447.3 2053.7 452.1 2058 456.4C2062.3 460.7 2068.9 464.8 2074.3 468.6C2079.8 472.5 2086.1 476.1 2090.7 479.5C2095.2 482.9 2099.3 486.1 2101.5 489C2103.8 492 2104.3 494.5 2104.3 497.2C2104.3 499.9 2103.3 503.1 2101.5 505.3C2099.7 507.6 2097 508.5 2093.4 510.8C2089.7 513 2085.2 515.8 2079.8 518.9C2074.3 522.1 2066.6 526.6 2060.7 529.8C2054.8 533 2049.4 535.3 2044.4 538C2039.4 540.7 2034.2 543.6 2030.8 546.1C2027.4 548.6 2024.9 550.7 2024 552.9C2023.9 555.2 2023.9 557.5 2025.4 559.7C2027 562 2030.4 564.6 2033.5 566.5C2036.7 568.4 2042.6 570.4 2044.4 571.2" fill="none" stroke="#3679ae" stroke-width="1.7"/>
<path d="M2024.3 382.9C2024.5 385.6 2025.4 393.3 2025.9 399.2C2026.5 405.1 2027.5 412.8 2027.5 418.3C2027.5 423.7 2026.5 427.8 2025.9 431.9C2025.4 436 2024.6 436.9 2024.3 442.8C2024 448.7 2023.9 462 2024 467.2C2025.5 472.5 2029.2 471.3 2033.5 474C2037.8 476.8 2044 480.2 2049.8 483.6C2055.7 487 2062.5 490.4 2068.9 494.5C2075.2 498.5 2082.5 504 2087.9 508.1C2093.4 512.1 2097.9 515.3 2101.5 518.9C2105.2 522.6 2108.2 526.2 2109.7 529.8C2111.2 533.4 2111 537.1 2110.5 540.7C2110.1 544.3 2108.9 548 2107 551.6C2105 555.2 2102.4 559.2 2098.8 562.5C2095.2 565.7 2087.5 569.7 2085.2 571.2L2023.6 571.2L2023.6 382.9Z" fill="#d62728" fill-opacity="0.6"/>
<path d="M2024.3 382.9C2024.5 385.6 2025.4 393.3 2025.9 399.2C2026.5 405.1 2027.5 412.8 2027.5 418.3C2027.5 423.7 2026.5 427.8 2025.9 431.9C2025.4 436 2024.6 436.9 2024.3 442.8C2024 448.7 2023.9 462 2024 467.2C2025.5 472.5 2029.2 471.3 2033.5 474C2037.8 476.8 2044 480.2 2049.8 483.6C2055.7 487 2062.5 490.4 2068.9 494.5C2075.2 498.5 2082.5 504 2087.9 508.1C2093.4 512.1 2097.9 515.3 2101.5 518.9C2105.2 522.6 2108.2 526.2 2109.7 529.8C2111.2 533.4 2111 537.1 2110.5 540.7C2110.1 544.3 2108.9 548 2107 551.6C2105 555.2 2102.4 559.2 2098.8 562.5C2095.2 565.7 2087.5 569.7 2085.2 571.2" fill="none" stroke="#c8282d" stroke-width="1.7"/>
<path d="M2024.8 108.2C2024.8 124.9 2024.8 178.4 2024.8 208.8C2024.8 239.2 2024.7 273.6 2024.8 290.4C2024.9 307.2 2024.9 302.7 2025.4 309.5C2025.8 316.3 2027.3 323.1 2027.5 331.2C2027.8 339.4 2026.4 351.2 2026.7 358.4C2027 365.7 2028.3 369.8 2029.4 374.8C2030.6 379.7 2032.5 383.8 2033.5 388.4C2034.6 392.9 2035.2 397.4 2035.7 402C2036.2 406.5 2035.5 411 2036.2 415.6C2037 420.1 2038.3 424.6 2040.3 429.2C2042.4 433.7 2045.5 438.2 2048.5 442.8C2051.4 447.3 2053.7 452.1 2058 456.4C2062.3 460.7 2068.9 464.8 2074.3 468.6C2079.8 472.5 2086.1 476.1 2090.7 479.5C2095.2 482.9 2099.3 486.1 2101.5 489C2103.8 492 2104.3 494.5 2104.3 497.2C2104.3 499.9 2103.3 503.1 2101.5 505.3C2099.7 507.6 2097 508.5 2093.4 510.8C2089.7 513 2085.2 515.8 2079.8 518.9C2074.3 522.1 2066.6 526.6 2060.7 529.8C2054.8 533 2049.4 535.3 2044.4 538C2039.4 540.7 2034.2 543.6 2030.8 546.1C2027.4 548.6 2024.9 550.7 2024 552.9C2023.1 555.2 2023.8 557.5 2025.4 559.7C2027 562 2030.4 564.6 2033.5 566.5C2036.7 568.4 2042.6 570.4 2044.4 571.2" fill="none" stroke="#3679ae" stroke-width="1.7" stroke-opacity="0.55"/>
<line x1="2023.8" y1="488" x2="2118" y2="488" stroke="#3679ae" stroke-width="2" stroke-dasharray="7.5 3.2"/>
<line x1="2023.8" y1="528.9" x2="2118" y2="528.9" stroke="#c8282d" stroke-width="2" stroke-dasharray="7.5 3.2"/>
<line x1="1614.4" y1="107.3" x2="1614.4" y2="571" stroke="#cfcfcf" stroke-width="1.4"/>
<line x1="1767.5" y1="107.3" x2="1767.5" y2="571" stroke="#cfcfcf" stroke-width="1.4"/>
<line x1="1920.7" y1="107.3" x2="1920.7" y2="571" stroke="#cfcfcf" stroke-width="1.4"/>
<line x1="1546.1" y1="571.2" x2="2020.9" y2="571.2" stroke="#cfcfcf" stroke-width="1.4"/>
<line x1="1546.1" y1="482.1" x2="2020.9" y2="482.1" stroke="#cfcfcf" stroke-width="1.4"/>
<line x1="1546.1" y1="393" x2="2020.9" y2="393" stroke="#cfcfcf" stroke-width="1.4"/>
<line x1="1546.1" y1="303.9" x2="2020.9" y2="303.9" stroke="#cfcfcf" stroke-width="1.4"/>
<line x1="1546.1" y1="214.8" x2="2020.9" y2="214.8" stroke="#cfcfcf" stroke-width="1.4"/>
<line x1="1546.1" y1="125.7" x2="2020.9" y2="125.7" stroke="#cfcfcf" stroke-width="1.4"/>
<clipPath id="cb"><rect x="1546.1" y="107.3" width="474.8" height="463.7"/></clipPath>
<g clip-path="url(#cb)">
<g fill="none" stroke="#3b82ba" stroke-width="1.2">
<circle cx="1678" cy="122.1" r="2.5"/>
<circle cx="1748.4" cy="402.7" r="2.5"/>
<circle cx="1585.3" cy="456.4" r="2.5"/>
<circle cx="1779" cy="352.9" r="2.5"/>
<circle cx="1929.9" cy="410.8" r="2.5"/>
<circle cx="1986.5" cy="537.3" r="2.5"/>
<circle cx="1975.8" cy="482.1" r="2.5"/>
<circle cx="1721.6" cy="330.6" r="2.5"/>
<circle cx="1717.8" cy="334.2" r="2.5"/>
<circle cx="1704.8" cy="336" r="2.5"/>
<circle cx="1733.1" cy="344.9" r="2.5"/>
<circle cx="1955.9" cy="542.3" r="2.5"/>
<circle cx="1795" cy="455" r="2.5"/>
<circle cx="1739.3" cy="367.1" r="2.5"/>
<circle cx="1710.6" cy="464.9" r="2.5"/>
<circle cx="1782.2" cy="486.7" r="2.5"/>
<circle cx="1854.7" cy="518.5" r="2.5"/>
<circle cx="1900.6" cy="488.4" r="2.5"/>
<circle cx="1853" cy="519.9" r="2.5"/>
<circle cx="1822.5" cy="437.2" r="2.5"/>
<circle cx="1841.4" cy="506.7" r="2.5"/>
<circle cx="1806" cy="494.6" r="2.5"/>
<circle cx="1875.6" cy="473.1" r="2.5"/>
<circle cx="1773.7" cy="492.7" r="2.5"/>
<circle cx="1888.9" cy="485.5" r="2.5"/>
<circle cx="1763.2" cy="463.6" r="2.5"/>
<circle cx="1832.1" cy="527.9" r="2.5"/>
<circle cx="1780" cy="493.7" r="2.5"/>
<circle cx="1937" cy="491.3" r="2.5"/>
<circle cx="1858.5" cy="531" r="2.5"/>
<circle cx="1821.6" cy="524.3" r="2.5"/>
<circle cx="1858.8" cy="493.1" r="2.5"/>
<circle cx="1810.6" cy="468.2" r="2.5"/>
<circle cx="1883" cy="505.2" r="2.5"/>
<circle cx="1788.5" cy="465.9" r="2.5"/>
<circle cx="1729.6" cy="424.1" r="2.5"/>
<circle cx="1916.1" cy="467.5" r="2.5"/>
<circle cx="1893.1" cy="529.3" r="2.5"/>
<circle cx="1816" cy="511.3" r="2.5"/>
<circle cx="1907.1" cy="479.1" r="2.5"/>
<circle cx="1803.6" cy="459.8" r="2.5"/>
<circle cx="1874.5" cy="500.3" r="2.5"/>
<circle cx="1850.5" cy="451.6" r="2.5"/>
<circle cx="1878.7" cy="480" r="2.5"/>
<circle cx="1701.1" cy="410.4" r="2.5"/>
<circle cx="1627.2" cy="411.7" r="2.5"/>
<circle cx="1850.4" cy="504.1" r="2.5"/>
<circle cx="1825.1" cy="497.5" r="2.5"/>
<circle cx="1919.4" cy="512.7" r="2.5"/>
<circle cx="1783.6" cy="427.5" r="2.5"/>
<circle cx="1938.2" cy="512.5" r="2.5"/>
<circle cx="1763.4" cy="489.8" r="2.5"/>
<circle cx="1886.7" cy="427.1" r="2.5"/>
<circle cx="1833.7" cy="485.4" r="2.5"/>
<circle cx="1913.8" cy="438.8" r="2.5"/>
<circle cx="1868" cy="479.4" r="2.5"/>
<circle cx="1887" cy="526.5" r="2.5"/>
<circle cx="1664.1" cy="437.4" r="2.5"/>
<circle cx="1858.9" cy="512.6" r="2.5"/>
<circle cx="1741.8" cy="441.2" r="2.5"/>
<circle cx="1893.8" cy="448" r="2.5"/>
<circle cx="1836.8" cy="482.4" r="2.5"/>
<circle cx="1866.6" cy="477" r="2.5"/>
<circle cx="1867.7" cy="483.2" r="2.5"/>
<circle cx="1889.9" cy="500.4" r="2.5"/>
<circle cx="1774.6" cy="465.5" r="2.5"/>
<circle cx="1807.3" cy="483.4" r="2.5"/>
<circle cx="1777" cy="489.7" r="2.5"/>
<circle cx="1798.6" cy="495.7" r="2.5"/>
<circle cx="1789.5" cy="441.4" r="2.5"/>
<circle cx="1849.3" cy="392.7" r="2.5"/>
<circle cx="1766.3" cy="505.1" r="2.5"/>
<circle cx="1738.8" cy="444" r="2.5"/>
<circle cx="1708.9" cy="404.6" r="2.5"/>
<circle cx="1777.6" cy="476.3" r="2.5"/>
<circle cx="1862.8" cy="499.9" r="2.5"/>
<circle cx="1697.8" cy="486" r="2.5"/>
<circle cx="1786" cy="505.4" r="2.5"/>
<circle cx="1908.1" cy="509.5" r="2.5"/>
<circle cx="1884.3" cy="455" r="2.5"/>
<circle cx="1925.7" cy="536.5" r="2.5"/>
<circle cx="1827.7" cy="494.6" r="2.5"/>
<circle cx="1702.2" cy="464.7" r="2.5"/>
<circle cx="1676.9" cy="442.2" r="2.5"/>
<circle cx="1786.9" cy="502" r="2.5"/>
<circle cx="1779.7" cy="497.7" r="2.5"/>
<circle cx="1832.9" cy="458" r="2.5"/>
<circle cx="1885.1" cy="468.4" r="2.5"/>
<circle cx="1795.1" cy="471.2" r="2.5"/>
<circle cx="1718.7" cy="476.8" r="2.5"/>
<circle cx="1860" cy="505.2" r="2.5"/>
<circle cx="1844.2" cy="473.5" r="2.5"/>
<circle cx="1836.5" cy="442.3" r="2.5"/>
<circle cx="1838.5" cy="493.8" r="2.5"/>
<circle cx="1724.6" cy="417.8" r="2.5"/>
<circle cx="1733.3" cy="441.6" r="2.5"/>
<circle cx="1631" cy="391.6" r="2.5"/>
<circle cx="1650.4" cy="465.3" r="2.5"/>
<circle cx="1768.1" cy="487.2" r="2.5"/>
<circle cx="1807.8" cy="408" r="2.5"/>
<circle cx="1844.4" cy="413.3" r="2.5"/>
<circle cx="1871.3" cy="512.8" r="2.5"/>
<circle cx="1680" cy="436.6" r="2.5"/>
<circle cx="1925.6" cy="487.8" r="2.5"/>
<circle cx="1733.4" cy="429.5" r="2.5"/>
<circle cx="1825.9" cy="492.5" r="2.5"/>
<circle cx="1804.1" cy="493.4" r="2.5"/>
<circle cx="1874.9" cy="445.1" r="2.5"/>
<circle cx="1906.6" cy="509.6" r="2.5"/>
<circle cx="1920.3" cy="506.2" r="2.5"/>
<circle cx="1841" cy="474.6" r="2.5"/>
<circle cx="1840" cy="473.1" r="2.5"/>
<circle cx="1694.1" cy="480.5" r="2.5"/>
<circle cx="1693.8" cy="469.3" r="2.5"/>
<circle cx="1817" cy="434.3" r="2.5"/>
<circle cx="1902.5" cy="526.4" r="2.5"/>
<circle cx="1701.2" cy="431.1" r="2.5"/>
<circle cx="1796.4" cy="396.7" r="2.5"/>
<circle cx="1867.6" cy="467.8" r="2.5"/>
<circle cx="1897.4" cy="511.3" r="2.5"/>
<circle cx="1903.1" cy="489.2" r="2.5"/>
<circle cx="1907.2" cy="398.9" r="2.5"/>
<circle cx="1761.6" cy="504.2" r="2.5"/>
<circle cx="1877.9" cy="493.8" r="2.5"/>
<circle cx="1910" cy="532.8" r="2.5"/>
<circle cx="1830" cy="459.3" r="2.5"/>
<circle cx="1790.3" cy="411.4" r="2.5"/>
<circle cx="1831.8" cy="465.9" r="2.5"/>
<circle cx="1751.5" cy="486.6" r="2.5"/>
<circle cx="1760.5" cy="425.3" r="2.5"/>
<circle cx="1876.2" cy="500.4" r="2.5"/>
<circle cx="1819.2" cy="460.4" r="2.5"/>
<circle cx="1884.9" cy="446.7" r="2.5"/>
<circle cx="1826.7" cy="444.7" r="2.5"/>
<circle cx="1911.9" cy="516.6" r="2.5"/>
<circle cx="1791.1" cy="473.7" r="2.5"/>
<circle cx="1893.8" cy="518.1" r="2.5"/>
<circle cx="1851.2" cy="448.1" r="2.5"/>
<circle cx="1849.1" cy="497.6" r="2.5"/>
<circle cx="1883.5" cy="497.1" r="2.5"/>
<circle cx="1888" cy="456.4" r="2.5"/>
<circle cx="1800" cy="462.4" r="2.5"/>
<circle cx="1827.3" cy="521.1" r="2.5"/>
<circle cx="1842.7" cy="459.4" r="2.5"/>
<circle cx="1693.2" cy="456.1" r="2.5"/>
<circle cx="1862.9" cy="521.5" r="2.5"/>
<circle cx="1630.5" cy="434.9" r="2.5"/>
<circle cx="1733" cy="499.7" r="2.5"/>
<circle cx="1926.9" cy="538.7" r="2.5"/>
<circle cx="1796.9" cy="502" r="2.5"/>
<circle cx="1855.2" cy="484.2" r="2.5"/>
<circle cx="1804.9" cy="482.4" r="2.5"/>
<circle cx="1770.5" cy="425.2" r="2.5"/>
<circle cx="1878.6" cy="497.3" r="2.5"/>
<circle cx="1794.3" cy="494.5" r="2.5"/>
<circle cx="1781.1" cy="484.3" r="2.5"/>
<circle cx="1764" cy="438.4" r="2.5"/>
<circle cx="1819.4" cy="405.2" r="2.5"/>
<circle cx="1863.7" cy="523.6" r="2.5"/>
<circle cx="1843.8" cy="499.8" r="2.5"/>
<circle cx="1852.7" cy="509.5" r="2.5"/>
<circle cx="1879" cy="477.3" r="2.5"/>
<circle cx="1799.1" cy="514.9" r="2.5"/>
<circle cx="1763.4" cy="480.6" r="2.5"/>
<circle cx="1880.4" cy="501.3" r="2.5"/>
<circle cx="1869.4" cy="522.9" r="2.5"/>
<circle cx="1807.3" cy="462.3" r="2.5"/>
<circle cx="1911.1" cy="501.7" r="2.5"/>
<circle cx="1709.7" cy="474.8" r="2.5"/>
<circle cx="1679.7" cy="479.5" r="2.5"/>
<circle cx="1798.9" cy="512.6" r="2.5"/>
<circle cx="1856" cy="514.8" r="2.5"/>
<circle cx="1832" cy="411.8" r="2.5"/>
<circle cx="1917.6" cy="515.9" r="2.5"/>
<circle cx="1867.7" cy="511.9" r="2.5"/>
<circle cx="1896.9" cy="527.4" r="2.5"/>
<circle cx="1656.1" cy="390.6" r="2.5"/>
<circle cx="1852.4" cy="496" r="2.5"/>
<circle cx="1722.1" cy="403.5" r="2.5"/>
<circle cx="1860.8" cy="446.7" r="2.5"/>
<circle cx="1858" cy="507.5" r="2.5"/>
<circle cx="1795.6" cy="472.9" r="2.5"/>
<circle cx="1756.2" cy="497.8" r="2.5"/>
<circle cx="1855.1" cy="404.8" r="2.5"/>
<circle cx="1850.5" cy="470.1" r="2.5"/>
<circle cx="1893.4" cy="440.8" r="2.5"/>
<circle cx="1839.4" cy="436.1" r="2.5"/>
<circle cx="1702.9" cy="498.1" r="2.5"/>
<circle cx="1879.4" cy="500.2" r="2.5"/>
<circle cx="1870.6" cy="484.7" r="2.5"/>
<circle cx="1663.3" cy="450.4" r="2.5"/>
<circle cx="1804.9" cy="479" r="2.5"/>
<circle cx="1798.4" cy="398.1" r="2.5"/>
<circle cx="1815" cy="509.1" r="2.5"/>
<circle cx="1778" cy="517.1" r="2.5"/>
<circle cx="1745.1" cy="431.9" r="2.5"/>
<circle cx="1723.5" cy="426.5" r="2.5"/>
<circle cx="1837" cy="477.4" r="2.5"/>
<circle cx="1858.4" cy="451.8" r="2.5"/>
<circle cx="1889.6" cy="500.9" r="2.5"/>
<circle cx="1901" cy="522.9" r="2.5"/>
<circle cx="1895.8" cy="537.6" r="2.5"/>
<circle cx="1878.4" cy="502.7" r="2.5"/>
<circle cx="1820.4" cy="492.6" r="2.5"/>
<circle cx="1837" cy="485.8" r="2.5"/>
<circle cx="1701" cy="443" r="2.5"/>
<circle cx="1809.7" cy="371.6" r="2.5"/>
<circle cx="1859.9" cy="442.5" r="2.5"/>
<circle cx="1859.7" cy="504.6" r="2.5"/>
<circle cx="1825.5" cy="489.4" r="2.5"/>
<circle cx="1663.2" cy="487.6" r="2.5"/>
<circle cx="1897.1" cy="506.5" r="2.5"/>
<circle cx="1822.6" cy="516.9" r="2.5"/>
<circle cx="1918.9" cy="508.7" r="2.5"/>
<circle cx="1785.4" cy="489.6" r="2.5"/>
<circle cx="1843.9" cy="495" r="2.5"/>
<circle cx="1657.3" cy="308.3" r="2.5"/>
<circle cx="1715.1" cy="432.5" r="2.5"/>
<circle cx="1866.9" cy="475.2" r="2.5"/>
<circle cx="1738.7" cy="496.2" r="2.5"/>
<circle cx="1921.2" cy="531.3" r="2.5"/>
<circle cx="1768.1" cy="473.1" r="2.5"/>
<circle cx="1673.6" cy="415.6" r="2.5"/>
<circle cx="1673.1" cy="466.9" r="2.5"/>
<circle cx="1907" cy="487.7" r="2.5"/>
<circle cx="1700.4" cy="471" r="2.5"/>
<circle cx="1857.9" cy="478.1" r="2.5"/>
<circle cx="1862.3" cy="497.5" r="2.5"/>
<circle cx="1856.1" cy="453.2" r="2.5"/>
<circle cx="1769.5" cy="379.6" r="2.5"/>
<circle cx="1696.5" cy="453.1" r="2.5"/>
<circle cx="1766.5" cy="517.2" r="2.5"/>
<circle cx="1780.6" cy="436.7" r="2.5"/>
<circle cx="1882.2" cy="423.9" r="2.5"/>
<circle cx="1899.4" cy="485.6" r="2.5"/>
<circle cx="1690.5" cy="346.6" r="2.5"/>
<circle cx="1849.5" cy="471.1" r="2.5"/>
<circle cx="1852.4" cy="407.7" r="2.5"/>
<circle cx="1909" cy="544.2" r="2.5"/>
<circle cx="1873.6" cy="477.2" r="2.5"/>
<circle cx="1810.2" cy="517.6" r="2.5"/>
<circle cx="1922.4" cy="513" r="2.5"/>
<circle cx="1766.2" cy="495.2" r="2.5"/>
<circle cx="1757.4" cy="468.6" r="2.5"/>
<circle cx="1739.9" cy="436.9" r="2.5"/>
<circle cx="1662.7" cy="379.2" r="2.5"/>
<circle cx="1786.6" cy="502.1" r="2.5"/>
<circle cx="1843.8" cy="471.3" r="2.5"/>
<circle cx="1773.9" cy="494.9" r="2.5"/>
<circle cx="1916.1" cy="508.4" r="2.5"/>
<circle cx="1818.9" cy="449.4" r="2.5"/>
<circle cx="1689.6" cy="403.2" r="2.5"/>
<circle cx="1879.9" cy="530.2" r="2.5"/>
<circle cx="1916.3" cy="501.3" r="2.5"/>
<circle cx="1755.2" cy="514.7" r="2.5"/>
<circle cx="1873.8" cy="503" r="2.5"/>
<circle cx="1800.2" cy="490.9" r="2.5"/>
<circle cx="1804.4" cy="461" r="2.5"/>
<circle cx="1900.1" cy="505.1" r="2.5"/>
<circle cx="1928.5" cy="536.7" r="2.5"/>
<circle cx="1755.7" cy="501.2" r="2.5"/>
<circle cx="1738.8" cy="492.1" r="2.5"/>
<circle cx="1685.3" cy="436" r="2.5"/>
<circle cx="1732.9" cy="435.6" r="2.5"/>
<circle cx="1640" cy="397.4" r="2.5"/>
<circle cx="1813.8" cy="487.8" r="2.5"/>
<circle cx="1868.8" cy="516.7" r="2.5"/>
<circle cx="1825" cy="512.9" r="2.5"/>
<circle cx="1889.9" cy="496.3" r="2.5"/>
<circle cx="1835.8" cy="473.8" r="2.5"/>
<circle cx="1815.9" cy="362.2" r="2.5"/>
<circle cx="1834.5" cy="463" r="2.5"/>
</g>
<g fill="none" stroke="#cc3a3e" stroke-width="1.2">
<circle cx="1594" cy="560.5" r="2.5"/>
<circle cx="1721.7" cy="561.7" r="2.5"/>
<circle cx="1667.2" cy="549.9" r="2.5"/>
<circle cx="1639.2" cy="560.3" r="2.5"/>
<circle cx="1616" cy="558.8" r="2.5"/>
<circle cx="1659" cy="561.1" r="2.5"/>
<circle cx="1648.1" cy="558.7" r="2.5"/>
<circle cx="1657.5" cy="560.4" r="2.5"/>
<circle cx="1700.4" cy="562" r="2.5"/>
<circle cx="1707.9" cy="555.6" r="2.5"/>
<circle cx="1725.8" cy="563.3" r="2.5"/>
<circle cx="1801.2" cy="564.2" r="2.5"/>
<circle cx="1798.2" cy="564" r="2.5"/>
<circle cx="1790.4" cy="561.5" r="2.5"/>
<circle cx="1579.4" cy="545.5" r="2.5"/>
<circle cx="1611.5" cy="556.1" r="2.5"/>
<circle cx="1636.2" cy="555.8" r="2.5"/>
<circle cx="1705.6" cy="558.5" r="2.5"/>
<circle cx="1709" cy="558" r="2.5"/>
<circle cx="1665.7" cy="555.6" r="2.5"/>
<circle cx="1666.4" cy="556.7" r="2.5"/>
<circle cx="1707.9" cy="557.7" r="2.5"/>
<circle cx="1608.9" cy="537.2" r="2.5"/>
<circle cx="1715.3" cy="541.3" r="2.5"/>
<circle cx="1619.8" cy="529.4" r="2.5"/>
<circle cx="1636.9" cy="527.5" r="2.5"/>
<circle cx="1675.4" cy="532.2" r="2.5"/>
<circle cx="1738.5" cy="538.9" r="2.5"/>
<circle cx="1789.2" cy="538.5" r="2.5"/>
<circle cx="1794.5" cy="545.4" r="2.5"/>
<circle cx="1803.1" cy="548.9" r="2.5"/>
<circle cx="1825.8" cy="543.6" r="2.5"/>
<circle cx="1826.2" cy="542.4" r="2.5"/>
<circle cx="1774.7" cy="537.6" r="2.5"/>
<circle cx="1665.3" cy="523.8" r="2.5"/>
<circle cx="1607.4" cy="503" r="2.5"/>
<circle cx="1754.5" cy="535.3" r="2.5"/>
<circle cx="1756.4" cy="508.3" r="2.5"/>
<circle cx="1713.5" cy="525.3" r="2.5"/>
<circle cx="1719.1" cy="530.4" r="2.5"/>
<circle cx="1726.5" cy="525.7" r="2.5"/>
<circle cx="1732.1" cy="519.9" r="2.5"/>
<circle cx="1709.7" cy="527.5" r="2.5"/>
<circle cx="1645.5" cy="497.8" r="2.5"/>
<circle cx="1653.7" cy="500.6" r="2.5"/>
<circle cx="1661.9" cy="508" r="2.5"/>
<circle cx="1657.5" cy="491.8" r="2.5"/>
<circle cx="1681.7" cy="526.8" r="2.5"/>
<circle cx="1672.4" cy="496" r="2.5"/>
<circle cx="1683.6" cy="537.2" r="2.5"/>
<circle cx="1696.7" cy="506.5" r="2.5"/>
<circle cx="1704.1" cy="506.7" r="2.5"/>
<circle cx="1709.7" cy="532.5" r="2.5"/>
<circle cx="1717.2" cy="504.7" r="2.5"/>
<circle cx="1722.8" cy="503.9" r="2.5"/>
<circle cx="1738.8" cy="507.4" r="2.5"/>
<circle cx="1750.8" cy="520.3" r="2.5"/>
<circle cx="1760.1" cy="518.3" r="2.5"/>
<circle cx="1775.1" cy="516" r="2.5"/>
<circle cx="1780.7" cy="528.6" r="2.5"/>
<circle cx="1791.9" cy="534.2" r="2.5"/>
<circle cx="1788.1" cy="524.7" r="2.5"/>
<circle cx="1795.6" cy="523.7" r="2.5"/>
<circle cx="1813.1" cy="524.2" r="2.5"/>
<circle cx="1821.7" cy="560.7" r="2.5"/>
<circle cx="1818" cy="529" r="2.5"/>
<circle cx="1825.5" cy="545.8" r="2.5"/>
<circle cx="1834.8" cy="541" r="2.5"/>
<circle cx="1844.1" cy="520.3" r="2.5"/>
<circle cx="1863.5" cy="538.8" r="2.5"/>
<circle cx="1910.2" cy="549.2" r="2.5"/>
<circle cx="1715.3" cy="516.5" r="2.5"/>
<circle cx="1706" cy="517" r="2.5"/>
<circle cx="1776.9" cy="513.4" r="2.5"/>
<circle cx="1782.5" cy="512.8" r="2.5"/>
<circle cx="1790" cy="532.7" r="2.5"/>
<circle cx="1700.4" cy="505.6" r="2.5"/>
<circle cx="1689.2" cy="501.1" r="2.5"/>
<circle cx="1816.1" cy="528.8" r="2.5"/>
<circle cx="1763.1" cy="542.9" r="2.5"/>
<circle cx="1711.6" cy="529.2" r="2.5"/>
<circle cx="1722.8" cy="525.2" r="2.5"/>
<circle cx="1716.1" cy="512.8" r="2.5"/>
<circle cx="1745.2" cy="514" r="2.5"/>
<circle cx="1771.3" cy="521.7" r="2.5"/>
<circle cx="1678.7" cy="504.8" r="2.5"/>
<circle cx="1649.3" cy="496.5" r="2.5"/>
<circle cx="1823.6" cy="547.3" r="2.5"/>
<circle cx="1779.5" cy="523.3" r="2.5"/>
<circle cx="1793.7" cy="521.5" r="2.5"/>
</g>
<line x1="1546" y1="430.5" x2="2021" y2="513" stroke="#2f7ab5" stroke-width="1.9"/>
</g>
<rect x="1807.8" y="121.6" width="199.2" height="88.2" fill="#fff" stroke="#d4d4d4" stroke-width="1.4" rx="5" fill-opacity="0.8"/>
<circle cx="1845.4" cy="146.1" r="2.6" fill="none" stroke="#3b82ba" stroke-width="1.2"/>
<circle cx="1845.4" cy="186.3" r="2.6" fill="none" stroke="#cc3a3e" stroke-width="1.2"/>
<text transform="translate(1895,154.4)" font-size="27.7">dS≤3.0</text>
<text transform="translate(1895,194.6)" font-size="27.7">dS&gt;3.0</text>
<rect x="1546.1" y="107.3" width="474.8" height="463.7" fill="none" stroke="#262626" stroke-width="1.7"/>
<line x1="1614.4" y1="571" x2="1614.4" y2="576.5" stroke="#262626" stroke-width="1.5"/>
<text transform="translate(1614.4,604.5) scale(0.952,1)" font-size="34.1" text-anchor="middle">0.4</text>
<line x1="1767.5" y1="571" x2="1767.5" y2="576.5" stroke="#262626" stroke-width="1.5"/>
<text transform="translate(1767.5,604.5) scale(0.952,1)" font-size="34.1" text-anchor="middle">0.6</text>
<line x1="1920.7" y1="571" x2="1920.7" y2="576.5" stroke="#262626" stroke-width="1.5"/>
<text transform="translate(1920.7,604.5) scale(0.952,1)" font-size="34.1" text-anchor="middle">0.8</text>
<line x1="1540.6" y1="571.2" x2="1546.1" y2="571.2" stroke="#262626" stroke-width="1.5"/>
<text transform="translate(1535.6,583.6) scale(0.952,1)" font-size="34.1" text-anchor="end">0.00</text>
<line x1="1540.6" y1="482.1" x2="1546.1" y2="482.1" stroke="#262626" stroke-width="1.5"/>
<text transform="translate(1535.6,494.5) scale(0.952,1)" font-size="34.1" text-anchor="end">0.05</text>
<line x1="1540.6" y1="393" x2="1546.1" y2="393" stroke="#262626" stroke-width="1.5"/>
<text transform="translate(1535.6,405.4) scale(0.952,1)" font-size="34.1" text-anchor="end">0.10</text>
<line x1="1540.6" y1="303.9" x2="1546.1" y2="303.9" stroke="#262626" stroke-width="1.5"/>
<text transform="translate(1535.6,316.3) scale(0.952,1)" font-size="34.1" text-anchor="end">0.15</text>
<line x1="1540.6" y1="214.8" x2="1546.1" y2="214.8" stroke="#262626" stroke-width="1.5"/>
<text transform="translate(1535.6,227.2) scale(0.952,1)" font-size="34.1" text-anchor="end">0.20</text>
<line x1="1540.6" y1="125.7" x2="1546.1" y2="125.7" stroke="#262626" stroke-width="1.5"/>
<text transform="translate(1535.6,138.1) scale(0.952,1)" font-size="34.1" text-anchor="end">0.25</text>
<text transform="translate(1783.5,640.8) scale(0.958,1)" font-size="32.7" text-anchor="middle">Conservation ratio</text>
<text transform="translate(1454,339) rotate(-90)" font-size="32.7" text-anchor="middle">dN/dS</text>
<text transform="translate(1.2,20.6)" font-size="34" class="pl">a</text>
<text transform="translate(1512.6,26.4)" font-size="34" class="pl">b</text>
<linearGradient id="gb" x1="0" y1="0" x2="0" y2="1">
<stop offset="0" stop-color="#08306b"/>
<stop offset="0.12" stop-color="#1d4f96"/>
<stop offset="0.3" stop-color="#3d7fbd"/>
<stop offset="0.5" stop-color="#62a5d0"/>
<stop offset="0.7" stop-color="#a3c9e2"/>
<stop offset="0.85" stop-color="#d0e1f2"/>
<stop offset="1" stop-color="#f7fbff"/>
</linearGradient>
<rect x="658.9" y="715.6" width="141.8" height="183.5" fill="#fff" stroke="#111" stroke-width="1.6"/>
<line x1="653.4" y1="738.3" x2="658.9" y2="738.3" stroke="#111" stroke-width="1.4"/>
<text transform="translate(646,748) scale(0.977,1)" font-size="26.1" text-anchor="end">Generation of precursor metabolites and energy</text>
<circle cx="682.5" cy="738.3" r="11.6" fill="#9ecae1" stroke="none" stroke-width="1"/>
<text transform="translate(729,745.7) scale(0.977,1)" font-size="26.1">0.73</text>
<line x1="653.4" y1="784.4" x2="658.9" y2="784.4" stroke="#111" stroke-width="1.4"/>
<text transform="translate(646,794.1) scale(0.977,1)" font-size="26.1" text-anchor="end">Oxidoreductase activity</text>
<circle cx="682.5" cy="784.4" r="16.2" fill="#abd0e6" stroke="none" stroke-width="1"/>
<text transform="translate(729,791.8) scale(0.977,1)" font-size="26.1">0.69</text>
<line x1="653.4" y1="830.3" x2="658.9" y2="830.3" stroke="#111" stroke-width="1.4"/>
<text transform="translate(646,840) scale(0.977,1)" font-size="26.1" text-anchor="end">Carbohydrate metabolic process</text>
<circle cx="682.5" cy="830.3" r="10.1" fill="#b0d2e7" stroke="none" stroke-width="1"/>
<text transform="translate(729,837.7) scale(0.977,1)" font-size="26.1">0.66</text>
<line x1="653.4" y1="876.1" x2="658.9" y2="876.1" stroke="#111" stroke-width="1.4"/>
<text transform="translate(646,885.8) scale(0.977,1)" font-size="26.1" text-anchor="end">Cellular respiration</text>
<circle cx="682.5" cy="876.1" r="9.5" fill="#b7d5ea" stroke="none" stroke-width="1"/>
<text transform="translate(729,883.5) scale(0.977,1)" font-size="26.1">0.71</text>
<text transform="translate(729.5,699.2) scale(0.977,1)" font-size="26.1">AUC</text>
<rect x="818.5" y="722" width="18.5" height="170.8" fill="url(#gb)" stroke="#111" stroke-width="1.3"/>
<line x1="837" y1="756.6" x2="842.5" y2="756.6" stroke="#111" stroke-width="1.4"/>
<text transform="translate(850.5,766)" font-size="26.1">-4.0</text>
<line x1="837" y1="824.9" x2="842.5" y2="824.9" stroke="#111" stroke-width="1.4"/>
<text transform="translate(850.5,834.3)" font-size="26.1">-2.0</text>
<line x1="837" y1="892.8" x2="842.5" y2="892.8" stroke="#111" stroke-width="1.4"/>
<text transform="translate(850.5,902.2)" font-size="26.1">0.0</text>
<text transform="translate(936,808.6) rotate(-90)" font-size="26.1" text-anchor="middle">log10(adj. p-value)</text>
<rect x="515.8" y="912" width="293" height="81.6" fill="#fff" stroke="#d4d4d4" stroke-width="1.4" rx="5"/>
<circle cx="550.5" cy="932.2" r="6.5" fill="#838383" stroke="#555" stroke-width="1.2"/>
<text transform="translate(596.5,940.4)" font-size="26.1">50</text>
<circle cx="550.5" cy="970" r="7.8" fill="#838383" stroke="#555" stroke-width="1.2"/>
<text transform="translate(596.5,978.2)" font-size="26.1">75</text>
<circle cx="704.6" cy="932.2" r="8.9" fill="#838383" stroke="#555" stroke-width="1.2"/>
<text transform="translate(751,940.4)" font-size="26.1">100</text>
<linearGradient id="gr" x1="0" y1="0" x2="0" y2="1">
<stop offset="0" stop-color="#67000d"/>
<stop offset="0.03" stop-color="#67000d"/>
<stop offset="0.15" stop-color="#b01217"/>
<stop offset="0.35" stop-color="#e32f27"/>
<stop offset="0.5" stop-color="#f6553d"/>
<stop offset="0.65" stop-color="#fc8a6a"/>
<stop offset="0.8" stop-color="#fcbfa5"/>
<stop offset="0.92" stop-color="#fee5d9"/>
<stop offset="1" stop-color="#fff5f0"/>
</linearGradient>
<rect x="659.8" y="1067.6" width="144.1" height="140.1" fill="#fff" stroke="#111" stroke-width="1.6"/>
<line x1="654.3" y1="1090.7" x2="659.8" y2="1090.7" stroke="#111" stroke-width="1.4"/>
<text transform="translate(647.1,1100.4) scale(0.977,1)" font-size="26.1" text-anchor="end">Lipid-linked oligosaccharide biosynthesis</text>
<circle cx="683.7" cy="1090.7" r="5.3" fill="#ea5a42" stroke="none" stroke-width="1"/>
<text transform="translate(731.5,1098.1) scale(0.977,1)" font-size="26.1">0.77</text>
<line x1="654.3" y1="1137.5" x2="659.8" y2="1137.5" stroke="#111" stroke-width="1.4"/>
<text transform="translate(647.1,1147.2) scale(0.977,1)" font-size="26.1" text-anchor="end">Transferase activity, transferring glycosyl groups</text>
<circle cx="683.7" cy="1137.5" r="8.5" fill="#eba08a" stroke="none" stroke-width="1"/>
<text transform="translate(731.5,1144.9) scale(0.977,1)" font-size="26.1">0.75</text>
<line x1="654.3" y1="1184.3" x2="659.8" y2="1184.3" stroke="#111" stroke-width="1.4"/>
<text transform="translate(647.1,1194) scale(0.977,1)" font-size="26.1" text-anchor="end">Protein glycosylation</text>
<circle cx="683.7" cy="1184.3" r="5.4" fill="#eda994" stroke="none" stroke-width="1"/>
<text transform="translate(731.5,1191.7) scale(0.977,1)" font-size="26.1">0.57</text>
<text transform="translate(731.5,1050.1) scale(0.977,1)" font-size="26.1">AUC</text>
<rect x="822" y="1071.5" width="19" height="131.6" fill="url(#gr)" stroke="#111" stroke-width="1.3"/>
<line x1="841" y1="1099.1" x2="846.5" y2="1099.1" stroke="#111" stroke-width="1.4"/>
<text transform="translate(854.5,1108.5)" font-size="26.1">-4.0</text>
<line x1="841" y1="1151" x2="846.5" y2="1151" stroke="#111" stroke-width="1.4"/>
<text transform="translate(854.5,1160.4)" font-size="26.1">-2.0</text>
<line x1="841" y1="1203.1" x2="846.5" y2="1203.1" stroke="#111" stroke-width="1.4"/>
<text transform="translate(854.5,1212.5)" font-size="26.1">0.0</text>
<text transform="translate(941,1138) rotate(-90)" font-size="26.1" text-anchor="middle">log10(adj. p-value)</text>
<rect x="530.1" y="1220.9" width="282.2" height="82.7" fill="#fff" stroke="#d4d4d4" stroke-width="1.4" rx="5"/>
<circle cx="566" cy="1241.3" r="2.8" fill="#838383" stroke="#555" stroke-width="1.2"/>
<text transform="translate(612,1249.5)" font-size="26.1">8</text>
<circle cx="566" cy="1279.3" r="4" fill="#838383" stroke="#555" stroke-width="1.2"/>
<text transform="translate(612,1287.5)" font-size="26.1">16</text>
<circle cx="722.4" cy="1241.3" r="5" fill="#838383" stroke="#555" stroke-width="1.2"/>
<text transform="translate(768.5,1249.5)" font-size="26.1">24</text>
<linearGradient id="gg" x1="0" y1="0" x2="0" y2="1">
<stop offset="0" stop-color="#1a5a28"/>
<stop offset="0.15" stop-color="#26733a"/>
<stop offset="0.35" stop-color="#3b9a4c"/>
<stop offset="0.55" stop-color="#66bd6f"/>
<stop offset="0.75" stop-color="#a5dc9f"/>
<stop offset="0.9" stop-color="#d8f0d2"/>
<stop offset="1" stop-color="#f3faf0"/>
</linearGradient>
<rect x="1839" y="726.3" width="137.6" height="446.7" fill="#fff" stroke="#111" stroke-width="1.6"/>
<line x1="1833.5" y1="748.3" x2="1839" y2="748.3" stroke="#111" stroke-width="1.4"/>
<text transform="translate(1826.5,757.7) scale(0.977,1)" font-size="25.3" text-anchor="end">Spw of glucose fermentation [Pathways]</text>
<circle cx="1861.7" cy="748.3" r="3.8" fill="#3f9b4c" stroke="none" stroke-width="1"/>
<text transform="translate(1907,755.7) scale(0.977,1)" font-size="26.1">0.83</text>
<line x1="1833.5" y1="793" x2="1839" y2="793" stroke="#111" stroke-width="1.4"/>
<text transform="translate(1826.5,802.5) scale(0.977,1)" font-size="25.3" text-anchor="end">Aerobic respiration, electron transport chain [Pathways]</text>
<circle cx="1861.7" cy="793" r="5" fill="#4ca656" stroke="none" stroke-width="1"/>
<text transform="translate(1907,800.4) scale(0.977,1)" font-size="26.1">0.78</text>
<line x1="1833.5" y1="837.8" x2="1839" y2="837.8" stroke="#111" stroke-width="1.4"/>
<text transform="translate(1826.5,847.2) scale(0.977,1)" font-size="25.3" text-anchor="end">Generation of precursor metabolites and energy [GO_slim]</text>
<circle cx="1861.7" cy="837.8" r="7" fill="#2d7a3a" stroke="none" stroke-width="1"/>
<text transform="translate(1907,845.2) scale(0.977,1)" font-size="26.1">0.68</text>
<line x1="1833.5" y1="882.5" x2="1839" y2="882.5" stroke="#111" stroke-width="1.4"/>
<text transform="translate(1826.5,892) scale(0.977,1)" font-size="25.3" text-anchor="end">Membrane [GO_slim]</text>
<circle cx="1861.7" cy="882.5" r="7.8" fill="#2f8a40" stroke="none" stroke-width="1"/>
<text transform="translate(1907,889.9) scale(0.977,1)" font-size="26.1">0.67</text>
<line x1="1833.5" y1="927.3" x2="1839" y2="927.3" stroke="#111" stroke-width="1.4"/>
<text transform="translate(1826.5,936.7) scale(0.977,1)" font-size="25.3" text-anchor="end">Transmembrane transporter activity [GO_slim]</text>
<circle cx="1861.7" cy="927.3" r="3.8" fill="#3a9548" stroke="none" stroke-width="1"/>
<text transform="translate(1907,934.7) scale(0.977,1)" font-size="26.1">0.83</text>
<line x1="1833.5" y1="972" x2="1839" y2="972" stroke="#111" stroke-width="1.4"/>
<text transform="translate(1826.5,981.5) scale(0.977,1)" font-size="25.3" text-anchor="end">Monocarboxylic acid metabolic process [GO_slim]</text>
<circle cx="1861.7" cy="972" r="6.1" fill="#2f8540" stroke="none" stroke-width="1"/>
<text transform="translate(1907,979.4) scale(0.977,1)" font-size="26.1">0.71</text>
<line x1="1833.5" y1="1016.8" x2="1839" y2="1016.8" stroke="#111" stroke-width="1.4"/>
<text transform="translate(1826.5,1026.2) scale(0.977,1)" font-size="25.3" text-anchor="end">Mitochondrial envelope [GO_slim]</text>
<circle cx="1861.7" cy="1016.8" r="6.1" fill="#6cc069" stroke="none" stroke-width="1"/>
<text transform="translate(1907,1024.2) scale(0.977,1)" font-size="26.1">0.66</text>
<line x1="1833.5" y1="1061.5" x2="1839" y2="1061.5" stroke="#111" stroke-width="1.4"/>
<text transform="translate(1826.5,1071) scale(0.977,1)" font-size="25.3" text-anchor="end">Oxidoreductase activity [GO_slim]</text>
<circle cx="1861.7" cy="1061.5" r="9" fill="#6cc36b" stroke="none" stroke-width="1"/>
<text transform="translate(1907,1068.9) scale(0.977,1)" font-size="26.1">0.67</text>
<line x1="1833.5" y1="1106.3" x2="1839" y2="1106.3" stroke="#111" stroke-width="1.4"/>
<text transform="translate(1826.5,1115.7) scale(0.977,1)" font-size="25.3" text-anchor="end">Mitochondrion [GO_slim]</text>
<circle cx="1861.7" cy="1106.3" r="9.5" fill="#7dcc7a" stroke="none" stroke-width="1"/>
<text transform="translate(1907,1113.7) scale(0.977,1)" font-size="26.1">0.60</text>
<line x1="1833.5" y1="1151" x2="1839" y2="1151" stroke="#111" stroke-width="1.4"/>
<text transform="translate(1826.5,1160.5) scale(0.977,1)" font-size="25.3" text-anchor="end">Nucleobase-containing small molecule metabolic process [GO_slim]</text>
<circle cx="1861.7" cy="1151" r="7.3" fill="#85d282" stroke="none" stroke-width="1"/>
<text transform="translate(1907,1158.4) scale(0.977,1)" font-size="26.1">0.59</text>
<text transform="translate(1907,709.9) scale(0.977,1)" font-size="26.1">AUC</text>
<line x1="1839" y1="815.7" x2="1972.5" y2="815.7" stroke="#111" stroke-width="2.2" stroke-dasharray="2.2 3.6"/>
<rect x="1994.2" y="832.6" width="18.5" height="237" fill="url(#gg)" stroke="#111" stroke-width="1.3"/>
<line x1="2012.7" y1="832.6" x2="2018.2" y2="832.6" stroke="#111" stroke-width="1.4"/>
<text transform="translate(2026.2,842)" font-size="26.1">-3.0</text>
<line x1="2012.7" y1="911.4" x2="2018.2" y2="911.4" stroke="#111" stroke-width="1.4"/>
<text transform="translate(2026.2,920.8)" font-size="26.1">-2.0</text>
<line x1="2012.7" y1="990.6" x2="2018.2" y2="990.6" stroke="#111" stroke-width="1.4"/>
<text transform="translate(2026.2,1000)" font-size="26.1">-1.0</text>
<line x1="2012.7" y1="1069.6" x2="2018.2" y2="1069.6" stroke="#111" stroke-width="1.4"/>
<text transform="translate(2026.2,1079)" font-size="26.1">0.0</text>
<text transform="translate(2108.5,951) rotate(-90)" font-size="26.1" text-anchor="middle">log10(adj. p-value)</text>
<rect x="1699" y="1185.7" width="285.4" height="43.8" fill="#fff" stroke="#d4d4d4" stroke-width="1.4" rx="5"/>
<circle cx="1733.6" cy="1205.9" r="6.3" fill="#838383" stroke="#555" stroke-width="1.2"/>
<text transform="translate(1778,1214.1)" font-size="26.1">50</text>
<circle cx="1883.4" cy="1205.9" r="8.8" fill="#838383" stroke="#555" stroke-width="1.2"/>
<text transform="translate(1928.5,1214.1)" font-size="26.1">100</text>
<text transform="translate(1.2,680)" font-size="34" class="pl">c</text>
<text transform="translate(997.5,686.6)" font-size="34" class="pl">d</text>
<line x1="101.7" y1="1403.2" x2="503.3" y2="1403.2" stroke="#cfcfcf" stroke-width="1.4"/>
<line x1="101.7" y1="1483.1" x2="503.3" y2="1483.1" stroke="#cfcfcf" stroke-width="1.4"/>
<line x1="101.7" y1="1563" x2="503.3" y2="1563" stroke="#cfcfcf" stroke-width="1.4"/>
<line x1="101.7" y1="1642.9" x2="503.3" y2="1642.9" stroke="#cfcfcf" stroke-width="1.4"/>
<line x1="101.7" y1="1722.8" x2="503.3" y2="1722.8" stroke="#cfcfcf" stroke-width="1.4"/>
<clipPath id="ce"><rect x="101.7" y="1366.2" width="401.6" height="391"/></clipPath>
<g clip-path="url(#ce)">
<line x1="103.1" y1="1483.1" x2="503.3" y2="1483.1" stroke="#000" stroke-width="5.0" stroke-dasharray="15.1 7.75"/>
<polyline points="112,1582.7 113.4,1605.9 114.9,1626.3 116.4,1644.6 117.9,1661.1 119.3,1676.2 120.8,1569.9 122.3,1512.4 123.8,1524.3 125.3,1535.5 126.7,1546.1 128.2,1556 129.7,1565.4 131.2,1524.3 132.6,1532.8 134.1,1502.2 135.6,1509.9 137.1,1485.6 138.5,1492.7 140,1499.5 141.5,1479.3 143,1485.6 144.5,1468.6 145.9,1474.4 147.4,1480.1 148.9,1485.6 150.4,1491 151.8,1496.2 153.3,1501.2 154.8,1506.1 156.3,1490.4 157.7,1495 159.2,1499.5 160.7,1503.9 162.2,1508.2 163.6,1494.1 165.1,1498.2 166.6,1485.6 168.1,1489.5 169.6,1478.2 171,1482 172.5,1471.7 174,1475.3 175.5,1466 176.9,1457.4 178.4,1460.8 179.9,1452.9 181.4,1456.2 182.8,1448.8 184.3,1451.9 185.8,1455 187.3,1448.1 188.8,1451.1 190.2,1454 191.7,1456.9 193.2,1459.7 194.7,1462.5 196.1,1465.2 197.6,1458.5 199.1,1461.2 200.6,1454.9 202,1457.4 203.5,1460 205,1462.5 206.5,1464.9 208,1467.4 209.4,1461.3 210.9,1463.6 212.4,1457.9 213.9,1460.2 215.3,1454.8 216.8,1457 218.3,1451.8 219.8,1454 221.2,1456.2 222.7,1451.2 224.2,1446.5 225.7,1448.6 227.2,1444.1 228.6,1446.1 230.1,1441.8 231.6,1437.7 233.1,1439.7 234.5,1441.6 236,1443.5 237.5,1439.5 239,1441.4 240.4,1443.3 241.9,1445.1 243.4,1441.2 244.9,1443 246.3,1444.8 247.8,1446.6 249.3,1442.8 250.8,1444.5 252.3,1446.2 253.7,1447.9 255.2,1449.6 256.7,1445.9 258.2,1442.4 259.6,1444 261.1,1440.6 262.6,1437.3 264.1,1438.9 265.5,1440.5 267,1437.3 268.5,1438.8 270,1440.3 271.5,1441.9 272.9,1438.7 274.4,1440.2 275.9,1441.7 277.4,1443.2 278.8,1440.1 280.3,1441.6 281.8,1443 283.3,1444.4 284.7,1441.4 286.2,1442.8 287.7,1444.2 289.2,1441.3 290.7,1442.6 292.1,1444 293.6,1441.1 295.1,1442.5 296.6,1443.8 298,1445.1 299.5,1446.4 301,1447.7 302.5,1444.9 303.9,1446.2 305.4,1447.4 306.9,1448.7 308.4,1449.9 309.9,1447.2 311.3,1448.4 312.8,1449.6 314.3,1450.8 315.8,1452 317.2,1453.2 318.7,1450.5 320.2,1451.7 321.7,1452.8 323.1,1454 324.6,1455.2 326.1,1456.3 327.6,1453.6 329.1,1454.8 330.5,1455.9 332,1457 333.5,1458.1 335,1459.2 336.4,1460.3 337.9,1461.4 339.4,1462.5 340.9,1459.8 342.3,1460.9 343.8,1461.9 345.3,1463 346.8,1464 348.2,1465.1 349.7,1462.5 351.2,1463.5 352.7,1464.5 354.2,1465.5 355.6,1463 357.1,1464 358.6,1465 360.1,1466 361.5,1467 363,1467.9 364.5,1468.9 366,1466.4 367.4,1467.4 368.9,1468.3 370.4,1469.3 371.9,1470.2 373.4,1471.2 374.8,1472.1 376.3,1469.6 377.8,1470.5 379.3,1468.1 380.7,1469 382.2,1466.6 383.7,1467.5 385.2,1465.2 386.6,1466.1 388.1,1463.8 389.6,1464.7 391.1,1462.5 392.6,1463.3 394,1461.2 395.5,1462 397,1462.9 398.5,1463.8 399.9,1461.6 401.4,1462.5 402.9,1463.3 404.4,1464.2 405.8,1465 407.3,1465.9 408.8,1463.7 410.3,1464.6 411.8,1465.4 413.2,1466.2 414.7,1467 416.2,1467.8 417.7,1465.7 419.1,1466.5 420.6,1464.5 422.1,1465.3 423.6,1463.3 425,1461.3 426.5,1462.1 428,1460.1 429.5,1458.2 430.9,1456.3 432.4,1457.1 433.9,1457.9 435.4,1456.1 436.9,1456.8 438.3,1457.6 439.8,1458.3 441.3,1456.5 442.8,1457.3 444.2,1458 445.7,1458.8 447.2,1459.5 448.7,1460.3 450.1,1461 451.6,1461.7 453.1,1462.5 454.6,1463.2 456.1,1463.9 457.5,1464.6 459,1465.4 460.5,1466.1 462,1466.8 463.4,1467.5 464.9,1468.2 466.4,1468.9 467.9,1469.6 469.3,1470.3 470.8,1471 472.3,1471.7 473.8,1472.4 475.3,1473.1 476.7,1473.8 478.2,1474.4 479.7,1475.1 481.2,1473.3 482.6,1473.9 484.1,1474.6 485.6,1475.3 487.1,1475.9 488.5,1476.6 490,1477.3 491.5,1477.9 493,1478.6 494.5,1479.2 495.9,1479.9 497.4,1480.5 498.9,1481.2 500.4,1481.8 501.8,1482.5 503.3,1483.1" fill="none" stroke="#d9302f" stroke-width="4.2" stroke-linejoin="round" stroke-linecap="butt"/>
<polyline points="114.9,1678.1 116.4,1696.4 117.9,1592.7 119.3,1607.8 120.8,1621.7 122.3,1634.5 123.8,1646.5 125.3,1657.7 126.7,1597.9 128.2,1557.9 129.7,1567.2 131.2,1576.1 132.6,1584.6 134.1,1592.7 135.6,1600.4 137.1,1607.8 138.5,1576.1 140,1551.3 141.5,1557.9 143,1564.2 144.5,1543.5 145.9,1549.4 147.4,1531.9 148.9,1537.4 150.4,1522.3 151.8,1527.5 153.3,1532.5 154.8,1519.1 156.3,1523.9 157.7,1528.5 159.2,1533 160.7,1520.9 162.2,1525.2 163.6,1529.4 165.1,1518.3 166.6,1508.4 168.1,1512.3 169.6,1516.2 171,1519.9 172.5,1523.5 174,1527.1 175.5,1530.6 176.9,1534.1 178.4,1537.4 179.9,1540.7 181.4,1544 182.8,1534.3 184.3,1525.5 185.8,1528.5 187.3,1520.3 188.8,1523.3 190.2,1515.7 191.7,1518.6 193.2,1511.5 194.7,1514.3 196.1,1517 197.6,1519.7 199.1,1512.9 200.6,1515.6 202,1518.1 203.5,1520.7 205,1523.2 206.5,1516.7 208,1510.7 209.4,1513.1 210.9,1507.4 212.4,1509.7 213.9,1512 215.3,1506.5 216.8,1508.8 218.3,1511 219.8,1513.2 221.2,1515.3 222.7,1517.5 224.2,1519.6 225.7,1521.6 227.2,1523.7 228.6,1525.7 230.1,1527.7 231.6,1529.7 233.1,1531.7 234.5,1533.6 236,1528.1 237.5,1530 239,1524.8 240.4,1526.7 241.9,1521.7 243.4,1523.5 244.9,1525.3 246.3,1520.6 247.8,1522.3 249.3,1524.1 250.8,1519.5 252.3,1521.2 253.7,1522.9 255.2,1524.6 256.7,1526.2 258.2,1527.9 259.6,1529.5 261.1,1531.1 262.6,1532.7 264.1,1528.2 265.5,1529.8 267,1531.3 268.5,1532.9 270,1528.5 271.5,1530 272.9,1531.5 274.4,1533 275.9,1534.5 277.4,1536 278.8,1537.4 280.3,1538.9 281.8,1534.6 283.3,1536 284.7,1537.4 286.2,1533.3 287.7,1534.7 289.2,1536.1 290.7,1532.1 292.1,1533.4 293.6,1529.6 295.1,1525.9 296.6,1527.2 298,1523.6 299.5,1520.2 301,1521.5 302.5,1518.1 303.9,1519.4 305.4,1516.2 306.9,1513 308.4,1514.3 309.9,1511.2 311.3,1512.4 312.8,1509.5 314.3,1506.6 315.8,1503.8 317.2,1505 318.7,1502.3 320.2,1503.5 321.7,1504.6 323.1,1505.8 324.6,1506.9 326.1,1508.1 327.6,1509.2 329.1,1506.5 330.5,1507.7 332,1505 333.5,1506.2 335,1503.6 336.4,1504.7 337.9,1502.2 339.4,1503.3 340.9,1504.4 342.3,1505.4 343.8,1503 345.3,1504 346.8,1505.1 348.2,1502.7 349.7,1500.4 351.2,1501.4 352.7,1499.1 354.2,1500.1 355.6,1497.9 357.1,1498.9 358.6,1499.9 360.1,1500.9 361.5,1501.9 363,1502.9 364.5,1503.9 366,1501.6 367.4,1502.6 368.9,1503.6 370.4,1504.5 371.9,1505.5 373.4,1506.4 374.8,1507.4 376.3,1508.3 377.8,1506.1 379.3,1507 380.7,1504.9 382.2,1505.8 383.7,1503.7 385.2,1504.6 386.6,1502.5 388.1,1503.4 389.6,1504.3 391.1,1505.2 392.6,1506.1 394,1507 395.5,1507.8 397,1505.8 398.5,1506.7 399.9,1504.6 401.4,1505.5 402.9,1503.5 404.4,1501.6 405.8,1502.5 407.3,1503.3 408.8,1504.1 410.3,1505 411.8,1505.8 413.2,1503.9 414.7,1504.7 416.2,1505.5 417.7,1506.3 419.1,1507.1 420.6,1507.9 422.1,1506.1 423.6,1506.9 425,1507.6 426.5,1508.4 428,1506.6 429.5,1507.4 430.9,1508.1 432.4,1508.9 433.9,1507.1 435.4,1505.3 436.9,1506 438.3,1504.3 439.8,1505 441.3,1503.3 442.8,1501.6 444.2,1502.3 445.7,1503.1 447.2,1501.4 448.7,1502.1 450.1,1500.5 451.6,1501.2 453.1,1499.6 454.6,1498 456.1,1496.4 457.5,1497.1 459,1495.6 460.5,1496.3 462,1494.8 463.4,1495.5 464.9,1494 466.4,1494.7 467.9,1493.2 469.3,1491.7 470.8,1492.4 472.3,1491 473.8,1491.7 475.3,1490.3 476.7,1491 478.2,1489.6 479.7,1488.2 481.2,1488.9 482.6,1487.5 484.1,1486.2 485.6,1486.8 487.1,1485.5 488.5,1484.2 490,1483 491.5,1483.6 493,1482.3 494.5,1483 495.9,1483.7 497.4,1482.4 498.9,1483.1 500.4,1483.7 501.8,1482.5 503.3,1483.1" fill="none" stroke="#3eae38" stroke-width="4.2" stroke-linejoin="round" stroke-linecap="butt"/>
<polyline points="113.4,1382.1 114.9,1402.6 116.4,1420.9 117.9,1437.4 119.3,1452.5 120.8,1466.4 122.3,1479.2 123.8,1491.2 125.3,1502.4 126.7,1512.9 128.2,1522.8 129.7,1532.2 131.2,1541.1 132.6,1549.6 134.1,1557.6 135.6,1565.4 137.1,1572.7 138.5,1579.8 140,1586.6 141.5,1593.2 143,1599.5 144.5,1605.6 145.9,1611.5 147.4,1617.2 148.9,1622.7 150.4,1628 151.8,1633.2 153.3,1517.9 154.8,1522.8 156.3,1527.6 157.7,1532.2 159.2,1536.7 160.7,1541.1 162.2,1545.4 163.6,1549.6 165.1,1553.7 166.6,1557.6 168.1,1561.5 169.6,1565.4 171,1498.7 172.5,1502.4 174,1506 175.5,1509.5 176.9,1512.9 178.4,1516.3 179.9,1519.6 181.4,1522.8 182.8,1526 184.3,1529.1 185.8,1532.2 187.3,1535.2 188.8,1538.2 190.2,1541.1 191.7,1544 193.2,1546.8 194.7,1549.6 196.1,1552.3 197.6,1555 199.1,1557.6 200.6,1560.3 202,1562.8 203.5,1565.4 205,1567.9 206.5,1570.3 208,1572.7 209.4,1575.1 210.9,1577.5 212.4,1579.8 213.9,1582.1 215.3,1584.4 216.8,1586.6 218.3,1588.8 219.8,1591 221.2,1593.2 222.7,1595.3 224.2,1597.4 225.7,1599.5 227.2,1601.5 228.6,1603.6 230.1,1605.6 231.6,1607.6 233.1,1609.5 234.5,1611.5 236,1613.4 237.5,1615.3 239,1617.2 240.4,1619 241.9,1570.9 243.4,1572.7 244.9,1574.5 246.3,1576.3 247.8,1578.1 249.3,1579.8 250.8,1581.6 252.3,1583.3 253.7,1585 255.2,1586.6 256.7,1588.3 258.2,1589.9 259.6,1591.6 261.1,1593.2 262.6,1594.8 264.1,1557.6 265.5,1559.2 267,1560.8 268.5,1562.3 270,1563.8 271.5,1565.4 272.9,1566.9 274.4,1568.4 275.9,1569.8 277.4,1571.3 278.8,1541.1 280.3,1542.6 281.8,1544 283.3,1545.4 284.7,1546.8 286.2,1548.2 287.7,1549.6 289.2,1550.9 290.7,1552.3 292.1,1553.7 293.6,1555 295.1,1556.3 296.6,1557.6 298,1559 299.5,1560.3 301,1534.8 302.5,1536.1 303.9,1537.4 305.4,1538.6 306.9,1539.9 308.4,1541.1 309.9,1542.3 311.3,1543.6 312.8,1544.8 314.3,1546 315.8,1547.2 317.2,1548.4 318.7,1549.6 320.2,1550.8 321.7,1551.9 323.1,1553.1 324.6,1554.2 326.1,1555.4 327.6,1556.5 329.1,1557.6 330.5,1558.8 332,1559.9 333.5,1561 335,1562.1 336.4,1563.2 337.9,1564.3 339.4,1565.4 340.9,1543.3 342.3,1544.3 343.8,1545.4 345.3,1546.5 346.8,1547.5 348.2,1548.5 349.7,1549.6 351.2,1550.6 352.7,1551.6 354.2,1532.2 355.6,1533.2 357.1,1534.2 358.6,1535.2 360.1,1536.2 361.5,1518.9 363,1503.4 364.5,1489.3 366,1490.2 367.4,1491.2 368.9,1492.2 370.4,1493.1 371.9,1480.2 373.4,1481.1 374.8,1482.1 376.3,1483 377.8,1483.9 379.3,1484.9 380.7,1485.8 382.2,1486.7 383.7,1487.6 385.2,1488.5 386.6,1489.4 388.1,1490.3 389.6,1491.2 391.1,1492.1 392.6,1493 394,1493.8 395.5,1494.7 397,1495.6 398.5,1496.5 399.9,1497.3 401.4,1485.3 402.9,1486.2 404.4,1487 405.8,1487.9 407.3,1488.7 408.8,1489.5 410.3,1490.4 411.8,1491.2 413.2,1492 414.7,1492.8 416.2,1493.7 417.7,1494.5 419.1,1483.3 420.6,1484.1 422.1,1484.9 423.6,1485.7 425,1486.5 426.5,1487.3 428,1488.1 429.5,1488.9 430.9,1489.7 432.4,1490.4 433.9,1491.2 435.4,1492 436.9,1492.7 438.3,1493.5 439.8,1494.3 441.3,1495 442.8,1495.8 444.2,1496.5 445.7,1497.3 447.2,1486.8 448.7,1487.5 450.1,1488.3 451.6,1489 453.1,1489.7 454.6,1490.5 456.1,1491.2 457.5,1491.9 459,1492.6 460.5,1493.4 462,1483.5 463.4,1484.3 464.9,1485 466.4,1485.7 467.9,1486.4 469.3,1487.1 470.8,1487.8 472.3,1478.5 473.8,1479.2 475.3,1470.5 476.7,1471.2 478.2,1471.9 479.7,1472.6 481.2,1473.3 482.6,1473.9 484.1,1474.6 485.6,1475.3 487.1,1475.9 488.5,1476.6 490,1477.3 491.5,1477.9 493,1478.6 494.5,1479.2 495.9,1479.9 497.4,1480.5 498.9,1481.2 500.4,1481.8 501.8,1482.5 503.3,1483.1" fill="none" stroke="#3a84be" stroke-width="4.2" stroke-linejoin="round" stroke-linecap="butt"/>
<polyline points="125.3,1569.7 126.7,1580.2 128.2,1590.1 129.7,1599.5 131.2,1608.4 132.6,1616.9 134.1,1504.7 135.6,1512.4 137.1,1519.8 138.5,1526.8 140,1533.6 141.5,1540.2 143,1546.5 144.5,1552.6 145.9,1558.5 147.4,1564.2 148.9,1569.7 150.4,1575 151.8,1580.2 153.3,1585.2 154.8,1590.1 156.3,1594.9 157.7,1599.5 159.2,1604 160.7,1608.4 162.2,1612.7 163.6,1616.9 165.1,1620.9 166.6,1624.9 168.1,1628.8 169.6,1632.6 171,1636.4 172.5,1640 174,1643.6 175.5,1576.8 176.9,1580.2 178.4,1583.6 179.9,1586.9 181.4,1590.1 182.8,1593.3 184.3,1596.4 185.8,1599.5 187.3,1602.5 188.8,1605.5 190.2,1558.5 191.7,1561.3 193.2,1564.2 194.7,1566.9 196.1,1531 197.6,1533.6 199.1,1536.3 200.6,1538.9 202,1541.5 203.5,1544 205,1546.5 206.5,1549 208,1551.4 209.4,1522.2 210.9,1524.5 212.4,1526.8 213.9,1529.1 215.3,1531.4 216.8,1533.6 218.3,1535.9 219.8,1538 221.2,1540.2 222.7,1542.3 224.2,1517.7 225.7,1496.6 227.2,1498.6 228.6,1500.7 230.1,1502.7 231.6,1504.7 233.1,1486.2 234.5,1488.1 236,1490 237.5,1491.9 239,1493.8 240.4,1495.7 241.9,1497.5 243.4,1499.3 244.9,1501.1 246.3,1502.9 247.8,1486.4 249.3,1488.1 250.8,1489.9 252.3,1491.6 253.7,1493.3 255.2,1494.9 256.7,1496.6 258.2,1498.2 259.6,1499.9 261.1,1501.5 262.6,1503.1 264.1,1504.7 265.5,1506.2 267,1507.8 268.5,1509.3 270,1510.9 271.5,1512.4 272.9,1513.9 274.4,1515.4 275.9,1500.3 277.4,1501.8 278.8,1503.2 280.3,1504.7 281.8,1506.1 283.3,1507.5 284.7,1493.8 286.2,1495.2 287.7,1496.6 289.2,1498 290.7,1499.3 292.1,1500.7 293.6,1502 295.1,1503.3 296.6,1504.7 298,1506 299.5,1507.3 301,1508.6 302.5,1509.8 303.9,1511.1 305.4,1512.4 306.9,1513.6 308.4,1514.9 309.9,1516.1 311.3,1517.3 312.8,1518.6 314.3,1519.8 315.8,1521 317.2,1522.2 318.7,1523.3 320.2,1524.5 321.7,1525.7 323.1,1526.8 324.6,1514.1 326.1,1502.4 327.6,1503.5 329.1,1504.7 330.5,1505.8 332,1506.9 333.5,1508 335,1509.1 336.4,1510.2 337.9,1511.3 339.4,1512.4 340.9,1513.5 342.3,1514.5 343.8,1515.6 345.3,1516.6 346.8,1517.7 348.2,1518.7 349.7,1519.8 351.2,1520.8 352.7,1521.8 354.2,1522.8 355.6,1523.8 357.1,1524.9 358.6,1525.9 360.1,1526.8 361.5,1527.8 363,1528.8 364.5,1529.8 366,1530.8 367.4,1531.7 368.9,1520.7 370.4,1521.7 371.9,1522.6 373.4,1523.6 374.8,1524.5 376.3,1525.5 377.8,1526.4 379.3,1527.3 380.7,1528.2 382.2,1529.1 383.7,1530.1 385.2,1531 386.6,1531.9 388.1,1521.6 389.6,1522.5 391.1,1512.8 392.6,1513.7 394,1514.6 395.5,1515.5 397,1516.3 398.5,1517.2 399.9,1518.1 401.4,1518.9 402.9,1519.8 404.4,1520.6 405.8,1511.5 407.3,1512.4 408.8,1503.8 410.3,1504.7 411.8,1505.5 413.2,1497.4 414.7,1498.2 416.2,1499.1 417.7,1499.9 419.1,1500.7 420.6,1501.5 422.1,1502.3 423.6,1503.1 425,1503.9 426.5,1504.7 428,1505.5 429.5,1506.2 430.9,1507 432.4,1507.8 433.9,1500.1 435.4,1500.9 436.9,1501.6 438.3,1502.4 439.8,1503.2 441.3,1503.9 442.8,1504.7 444.2,1505.4 445.7,1506.2 447.2,1506.9 448.7,1507.6 450.1,1508.4 451.6,1509.1 453.1,1509.8 454.6,1510.6 456.1,1503.2 457.5,1503.9 459,1504.7 460.5,1497.7 462,1498.4 463.4,1499.1 464.9,1499.8 466.4,1500.5 467.9,1493.8 469.3,1494.5 470.8,1495.2 472.3,1495.9 473.8,1496.6 475.3,1497.3 476.7,1498 478.2,1498.6 479.7,1499.3 481.2,1500 482.6,1500.7 484.1,1501.3 485.6,1494.9 487.1,1495.6 488.5,1496.3 490,1490.1 491.5,1490.8 493,1491.4 494.5,1485.5 495.9,1486.2 497.4,1480.5 498.9,1481.2 500.4,1481.8 501.8,1482.5 503.3,1483.1" fill="none" stroke="#9467c8" stroke-width="4.2" stroke-linejoin="round" stroke-linecap="butt"/>
<polyline points="131.2,1446.3 132.6,1454.8 134.1,1462.8 135.6,1470.5 137.1,1477.9 138.5,1485 140,1491.8 141.5,1498.4 143,1504.7 144.5,1510.8 145.9,1516.6 147.4,1522.3 148.9,1527.8 150.4,1533.2 151.8,1538.4 153.3,1543.4 154.8,1548.3 156.3,1432.8 157.7,1437.4 159.2,1441.9 160.7,1446.3 162.2,1450.6 163.6,1454.8 165.1,1458.8 166.6,1462.8 168.1,1466.7 169.6,1470.5 171,1474.3 172.5,1477.9 174,1411.1 175.5,1414.7 176.9,1418.1 178.4,1421.5 179.9,1424.8 181.4,1428 182.8,1381.3 184.3,1384.4 185.8,1387.5 187.3,1390.5 188.8,1393.5 190.2,1396.4 191.7,1399.2 193.2,1402.1 194.7,1404.8 196.1,1407.6 197.6,1410.3 199.1,1412.9 200.6,1415.5 202,1379.4 203.5,1381.9 205,1384.4 206.5,1386.9 208,1389.3 209.4,1391.7 210.9,1394 212.4,1396.4 213.9,1398.7 215.3,1400.9 216.8,1403.2 218.3,1405.4 219.8,1407.6 221.2,1409.7 222.7,1411.9 224.2,1414 225.7,1416 227.2,1418.1 228.6,1420.1 230.1,1422.1 231.6,1424.1 233.1,1426.1 234.5,1428 236,1429.9 237.5,1431.8 239,1433.7 240.4,1435.6 241.9,1437.4 243.4,1439.2 244.9,1441 246.3,1442.8 247.8,1444.5 249.3,1446.3 250.8,1448 252.3,1449.7 253.7,1451.4 255.2,1453.1 256.7,1454.8 258.2,1456.4 259.6,1458 261.1,1459.6 262.6,1461.2 264.1,1462.8 265.5,1432.8 267,1434.3 268.5,1409.1 270,1410.6 271.5,1412.2 272.9,1390.5 274.4,1371.5 275.9,1373 277.4,1374.5 278.8,1375.9 280.3,1377.4 281.8,1378.8 283.3,1380.2 284.7,1381.6 286.2,1383 287.7,1384.4 289.2,1385.8 290.7,1387.1 292.1,1388.5 293.6,1389.8 295.1,1391.2 296.6,1392.5 298,1393.8 299.5,1395.1 301,1396.4 302.5,1397.7 303.9,1398.9 305.4,1400.2 306.9,1401.4 308.4,1402.7 309.9,1385.6 311.3,1386.9 312.8,1388.1 314.3,1389.3 315.8,1390.5 317.2,1391.7 318.7,1392.9 320.2,1394 321.7,1395.2 323.1,1396.4 324.6,1397.5 326.1,1398.7 327.6,1399.8 329.1,1400.9 330.5,1402.1 332,1403.2 333.5,1404.3 335,1405.4 336.4,1406.5 337.9,1407.6 339.4,1408.7 340.9,1409.7 342.3,1410.8 343.8,1411.9 345.3,1412.9 346.8,1414 348.2,1415 349.7,1416 351.2,1417.1 352.7,1418.1 354.2,1419.1 355.6,1420.1 357.1,1421.1 358.6,1422.1 360.1,1423.1 361.5,1424.1 363,1425.1 364.5,1426.1 366,1427 367.4,1428 368.9,1429 370.4,1429.9 371.9,1430.9 373.4,1431.8 374.8,1432.8 376.3,1433.7 377.8,1434.6 379.3,1435.6 380.7,1436.5 382.2,1437.4 383.7,1438.3 385.2,1439.2 386.6,1440.1 388.1,1441 389.6,1441.9 391.1,1442.8 392.6,1443.7 394,1444.5 395.5,1445.4 397,1446.3 398.5,1447.2 399.9,1448 401.4,1448.9 402.9,1449.7 404.4,1450.6 405.8,1451.4 407.3,1452.3 408.8,1453.1 410.3,1453.9 411.8,1454.8 413.2,1455.6 414.7,1456.4 416.2,1457.2 417.7,1458 419.1,1458.8 420.6,1459.6 422.1,1443.9 423.6,1444.7 425,1445.5 426.5,1446.3 428,1447.1 429.5,1447.9 430.9,1448.6 432.4,1449.4 433.9,1450.2 435.4,1451 436.9,1451.7 438.3,1452.5 439.8,1453.2 441.3,1454 442.8,1454.8 444.2,1455.5 445.7,1456.2 447.2,1457 448.7,1457.7 450.1,1458.5 451.6,1459.2 453.1,1459.9 454.6,1460.7 456.1,1461.4 457.5,1462.1 459,1462.8 460.5,1463.5 462,1464.3 463.4,1465 464.9,1465.7 466.4,1466.4 467.9,1467.1 469.3,1467.8 470.8,1468.5 472.3,1469.2 473.8,1469.8 475.3,1470.5 476.7,1471.2 478.2,1471.9 479.7,1472.6 481.2,1473.3 482.6,1473.9 484.1,1474.6 485.6,1475.3 487.1,1475.9 488.5,1476.6 490,1477.3 491.5,1477.9 493,1478.6 494.5,1479.2 495.9,1479.9 497.4,1480.5 498.9,1481.2 500.4,1481.8 501.8,1482.5 503.3,1483.1" fill="none" stroke="#8c564b" stroke-width="4.2" stroke-linejoin="round" stroke-linecap="butt"/>
<polyline points="151.8,1623.8 153.3,1628.8 154.8,1633.7 156.3,1638.5 157.7,1643.1 159.2,1647.6 160.7,1652 162.2,1656.3 163.6,1660.5 165.1,1664.5 166.6,1668.5 168.1,1672.4 169.6,1676.2 171,1680 172.5,1683.6 174,1687.2 175.5,1690.7 176.9,1694.1 178.4,1697.5 179.9,1700.8 181.4,1704.1 182.8,1707.2 184.3,1710.4 185.8,1713.4 187.3,1716.5 188.8,1719.4 190.2,1722.3 191.7,1725.2 193.2,1728 194.7,1730.8 196.1,1733.5 197.6,1736.2 199.1,1738.9 200.6,1741.5 202,1744.1 203.5,1626.3 205,1628.8 206.5,1631.3 208,1633.7 209.4,1636.1 210.9,1638.5 212.4,1640.8 213.9,1643.1 215.3,1575 216.8,1577.3 218.3,1579.5 219.8,1581.6 221.2,1533.9 222.7,1497.3 224.2,1499.4 225.7,1501.5 227.2,1503.5 228.6,1505.6 230.1,1507.6 231.6,1509.6 233.1,1511.5 234.5,1513.5 236,1515.4 237.5,1517.3 239,1519.1 240.4,1521 241.9,1522.8 243.4,1524.6 244.9,1526.4 246.3,1528.2 247.8,1530 249.3,1531.7 250.8,1533.5 252.3,1535.2 253.7,1536.9 255.2,1538.5 256.7,1540.2 258.2,1541.8 259.6,1543.5 261.1,1545.1 262.6,1546.7 264.1,1548.3 265.5,1549.8 267,1551.4 268.5,1552.9 270,1554.5 271.5,1556 272.9,1557.5 274.4,1559 275.9,1560.4 277.4,1561.9 278.8,1563.4 280.3,1564.8 281.8,1566.2 283.3,1536 284.7,1537.4 286.2,1538.8 287.7,1540.2 289.2,1541.6 290.7,1542.9 292.1,1544.3 293.6,1545.6 295.1,1546.9 296.6,1548.3 298,1549.6 299.5,1550.9 301,1552.2 302.5,1526.7 303.9,1528 305.4,1529.2 306.9,1530.5 308.4,1531.7 309.9,1533 311.3,1534.2 312.8,1535.4 314.3,1513.5 315.8,1514.7 317.2,1515.8 318.7,1517 320.2,1518.2 321.7,1519.4 323.1,1500.1 324.6,1501.3 326.1,1502.4 327.6,1503.5 329.1,1504.7 330.5,1505.8 332,1506.9 333.5,1508 335,1509.1 336.4,1510.2 337.9,1511.3 339.4,1512.4 340.9,1513.5 342.3,1514.5 343.8,1497.3 345.3,1498.4 346.8,1499.4 348.2,1500.4 349.7,1501.5 351.2,1502.5 352.7,1503.5 354.2,1504.6 355.6,1505.6 357.1,1506.6 358.6,1491 360.1,1492 361.5,1493 363,1494 364.5,1495 366,1495.9 367.4,1496.9 368.9,1497.9 370.4,1498.8 371.9,1499.8 373.4,1485.6 374.8,1486.6 376.3,1487.5 377.8,1488.4 379.3,1489.4 380.7,1490.3 382.2,1491.2 383.7,1492.1 385.2,1493 386.6,1493.9 388.1,1494.8 389.6,1495.7 391.1,1496.6 392.6,1497.5 394,1498.4 395.5,1499.2 397,1500.1 398.5,1501 399.9,1501.8 401.4,1502.7 402.9,1503.5 404.4,1504.4 405.8,1505.2 407.3,1506.1 408.8,1506.9 410.3,1507.7 411.8,1508.6 413.2,1509.4 414.7,1510.2 416.2,1511 417.7,1498 419.1,1498.8 420.6,1499.6 422.1,1500.4 423.6,1501.2 425,1502 426.5,1502.7 428,1503.5 429.5,1504.3 430.9,1505.1 432.4,1505.9 433.9,1506.6 435.4,1507.4 436.9,1508.2 438.3,1508.9 439.8,1509.7 441.3,1510.5 442.8,1511.2 444.2,1499.1 445.7,1487.9 447.2,1488.6 448.7,1489.4 450.1,1490.1 451.6,1490.8 453.1,1491.6 454.6,1492.3 456.1,1493 457.5,1493.7 459,1494.5 460.5,1495.2 462,1495.9 463.4,1496.6 464.9,1497.3 466.4,1486.8 467.9,1487.5 469.3,1488.2 470.8,1488.9 472.3,1489.6 473.8,1490.3 475.3,1491 476.7,1491.7 478.2,1492.3 479.7,1493 481.2,1493.7 482.6,1494.4 484.1,1495 485.6,1495.7 487.1,1496.4 488.5,1497 490,1487.2 491.5,1487.8 493,1478.6 494.5,1479.2 495.9,1479.9 497.4,1480.5 498.9,1481.2 500.4,1481.8 501.8,1482.5 503.3,1483.1" fill="none" stroke="#e376cf" stroke-width="4.2" stroke-linejoin="round" stroke-linecap="butt"/>
</g>
<rect x="101.7" y="1366.2" width="401.6" height="391" fill="none" stroke="#3a3a3a" stroke-width="1.7"/>
<line x1="96.2" y1="1403.2" x2="101.7" y2="1403.2" stroke="#111" stroke-width="1.4"/>
<text transform="translate(92.2,1411.2)" font-size="21.9" text-anchor="end">0.2</text>
<line x1="96.2" y1="1483.1" x2="101.7" y2="1483.1" stroke="#111" stroke-width="1.4"/>
<text transform="translate(92.2,1491.1)" font-size="21.9" text-anchor="end">0.0</text>
<line x1="96.2" y1="1563" x2="101.7" y2="1563" stroke="#111" stroke-width="1.4"/>
<text transform="translate(92.2,1571)" font-size="21.9" text-anchor="end">−0.2</text>
<line x1="96.2" y1="1642.9" x2="101.7" y2="1642.9" stroke="#111" stroke-width="1.4"/>
<text transform="translate(92.2,1650.9)" font-size="21.9" text-anchor="end">−0.4</text>
<line x1="96.2" y1="1722.8" x2="101.7" y2="1722.8" stroke="#111" stroke-width="1.4"/>
<text transform="translate(92.2,1730.8)" font-size="21.9" text-anchor="end">−0.6</text>
<line x1="103.1" y1="1757.2" x2="103.1" y2="1762.7" stroke="#111" stroke-width="1.4"/>
<text transform="translate(103.1,1783.5)" font-size="21.9" text-anchor="middle">1</text>
<line x1="503.3" y1="1757.2" x2="503.3" y2="1762.7" stroke="#111" stroke-width="1.4"/>
<text transform="translate(503.3,1783.5)" font-size="21.9" text-anchor="middle">272</text>
<text transform="translate(302.5,1810.2)" font-size="21.9" text-anchor="middle">Rank</text>
<text transform="translate(29,1560.8) rotate(-90)" font-size="21.9" text-anchor="middle">log10(Enrichment Factor)</text>
<rect x="282" y="1588" width="215" height="163.4" fill="#9a9a9a" stroke="none" stroke-width="0" rx="4" fill-opacity="0.75"/>
<rect x="278.8" y="1584.8" width="215" height="163.4" fill="#fff" stroke="#cfcfcf" stroke-width="1.3" rx="4"/>
<line x1="284.4" y1="1598.8" x2="323.7" y2="1598.8" stroke="#d9302f" stroke-width="4.2"/>
<text transform="translate(336.3,1605.2)" font-size="17.8">Oxidoreductases</text>
<line x1="284.4" y1="1625.2" x2="323.7" y2="1625.2" stroke="#3eae38" stroke-width="4.2"/>
<text transform="translate(336.3,1631.6)" font-size="17.8">Transferases</text>
<line x1="284.4" y1="1651.6" x2="323.7" y2="1651.6" stroke="#3a84be" stroke-width="4.2"/>
<text transform="translate(336.3,1658)" font-size="17.8">Hydrolases</text>
<line x1="284.4" y1="1678" x2="323.7" y2="1678" stroke="#9467c8" stroke-width="4.2"/>
<text transform="translate(336.3,1684.4)" font-size="17.8">Lyases</text>
<line x1="284.4" y1="1704.4" x2="323.7" y2="1704.4" stroke="#8c564b" stroke-width="4.2"/>
<text transform="translate(336.3,1710.8)" font-size="17.8">Isomerases</text>
<line x1="284.4" y1="1730.8" x2="323.7" y2="1730.8" stroke="#e376cf" stroke-width="4.2"/>
<text transform="translate(336.3,1737.2)" font-size="17.8">Ligases</text>
<text transform="translate(1.2,1338.8)" font-size="34" class="pl">e</text>
<line x1="633.1" y1="1396.8" x2="1035" y2="1396.8" stroke="#cfcfcf" stroke-width="1.4"/>
<line x1="633.1" y1="1444.1" x2="1035" y2="1444.1" stroke="#cfcfcf" stroke-width="1.4"/>
<line x1="633.1" y1="1491.4" x2="1035" y2="1491.4" stroke="#cfcfcf" stroke-width="1.4"/>
<line x1="633.1" y1="1538.8" x2="1035" y2="1538.8" stroke="#cfcfcf" stroke-width="1.4"/>
<line x1="633.1" y1="1586.1" x2="1035" y2="1586.1" stroke="#cfcfcf" stroke-width="1.4"/>
<line x1="633.1" y1="1633.5" x2="1035" y2="1633.5" stroke="#cfcfcf" stroke-width="1.4"/>
<line x1="633.1" y1="1680.8" x2="1035" y2="1680.8" stroke="#cfcfcf" stroke-width="1.4"/>
<line x1="633.1" y1="1728.2" x2="1035" y2="1728.2" stroke="#cfcfcf" stroke-width="1.4"/>
<clipPath id="cf"><rect x="633.1" y="1366.2" width="401.9" height="391"/></clipPath>
<g clip-path="url(#cf)">
<line x1="634.8" y1="1444.1" x2="1035" y2="1444.1" stroke="#000" stroke-width="5.0" stroke-dasharray="15.1 7.75"/>
<polyline points="652.5,1592.2 654,1607.5 655.5,1621.7 657,1634.9 658.4,1647.4 659.9,1659.2 661.4,1670.3 662.9,1680.8 664.3,1690.8 665.8,1700.4 667.3,1709.6 668.8,1718.3 670.2,1726.7 671.7,1734.8 673.2,1742.5 674.7,1607.5 676.2,1614.7 677.6,1621.7 679.1,1628.4 680.6,1634.9 682.1,1557.9 683.5,1504.9 685,1464.9 686.5,1470.7 688,1438.9 689.4,1412.7 690.9,1418 692.4,1395.7 693.9,1400.8 695.3,1405.8 696.8,1410.6 698.3,1415.3 699.8,1420 701.3,1400.3 702.7,1383 704.2,1387.3 705.7,1391.6 707.2,1395.7 708.6,1399.8 710.1,1403.8 711.6,1407.7 713.1,1392 714.5,1395.7 716,1399.4 717.5,1403.1 719,1406.7 720.5,1392.3 721.9,1379.3 723.4,1382.7 724.9,1386 726.4,1374.1 727.8,1377.3 729.3,1380.5 730.8,1369.5 732.3,1372.5 733.7,1375.6 735.2,1378.6 736.7,1381.6 738.2,1384.5 739.7,1387.3 741.1,1390.2 742.6,1393 744.1,1395.7 745.6,1398.5 747,1387.9 748.5,1390.5 750,1393.2 751.5,1395.7 752.9,1398.3 754.4,1400.8 755.9,1403.3 757.4,1405.8 758.9,1408.2 760.3,1410.6 761.8,1400.5 763.3,1402.9 764.8,1405.2 766.2,1407.5 767.7,1409.8 769.2,1412 770.7,1402.5 772.1,1404.7 773.6,1406.9 775.1,1409 776.6,1400 778,1402.1 779.5,1404.2 781,1406.3 782.5,1408.3 784,1410.4 785.4,1412.4 786.9,1414.4 788.4,1416.3 789.9,1418.3 791.3,1420.2 792.8,1411.6 794.3,1413.5 795.8,1415.3 797.2,1417.2 798.7,1419 800.2,1420.9 801.7,1422.7 803.2,1414.4 804.6,1416.2 806.1,1418 807.6,1419.7 809.1,1421.5 810.5,1423.2 812,1424.9 813.5,1426.6 815,1428.3 816.4,1420.4 817.9,1422 819.4,1423.7 820.9,1425.3 822.4,1426.9 823.8,1428.5 825.3,1430.1 826.8,1431.7 828.3,1433.2 829.7,1434.8 831.2,1436.3 832.7,1428.7 834.2,1430.2 835.6,1431.7 837.1,1433.2 838.6,1434.7 840.1,1436.2 841.6,1437.7 843,1430.4 844.5,1431.8 846,1433.2 847.5,1426.3 848.9,1427.7 850.4,1429.1 851.9,1430.5 853.4,1423.8 854.8,1425.2 856.3,1426.5 857.8,1427.9 859.3,1429.2 860.8,1430.6 862.2,1431.9 863.7,1433.2 865.2,1426.8 866.7,1428.1 868.1,1429.4 869.6,1430.7 871.1,1432 872.6,1433.2 874,1434.5 875.5,1435.8 877,1429.5 878.5,1423.6 879.9,1417.8 881.4,1412.3 882.9,1413.5 884.4,1414.7 885.9,1415.9 887.3,1417.1 888.8,1418.3 890.3,1419.5 891.8,1420.7 893.2,1421.9 894.7,1416.5 896.2,1417.7 897.7,1418.8 899.1,1420 900.6,1421.1 902.1,1422.2 903.6,1423.4 905.1,1418.2 906.5,1419.3 908,1420.4 909.5,1421.5 911,1416.4 912.4,1417.5 913.9,1418.6 915.4,1419.7 916.9,1420.8 918.3,1421.8 919.8,1422.9 921.3,1424 922.8,1425 924.3,1420.1 925.7,1415.3 927.2,1410.7 928.7,1411.8 930.2,1412.8 931.6,1413.8 933.1,1414.8 934.6,1415.8 936.1,1416.9 937.5,1417.9 939,1418.8 940.5,1419.8 942,1420.8 943.5,1421.8 944.9,1417.3 946.4,1418.3 947.9,1419.2 949.4,1420.2 950.8,1421.2 952.3,1422.1 953.8,1423.1 955.3,1424 956.7,1425 958.2,1425.9 959.7,1426.8 961.2,1427.7 962.6,1428.7 964.1,1429.6 965.6,1430.5 967.1,1426.1 968.6,1427 970,1427.9 971.5,1428.8 973,1429.7 974.5,1430.6 975.9,1431.5 977.4,1432.4 978.9,1428 980.4,1428.9 981.8,1429.8 983.3,1430.6 984.8,1431.5 986.3,1432.4 987.8,1428.2 989.2,1429 990.7,1429.9 992.2,1430.7 993.7,1431.6 995.1,1432.4 996.6,1433.2 998.1,1434.1 999.6,1434.9 1001,1435.7 1002.5,1436.6 1004,1437.4 1005.5,1433.2 1007,1434 1008.4,1434.9 1009.9,1435.7 1011.4,1436.5 1012.9,1437.3 1014.3,1438.1 1015.8,1438.9 1017.3,1439.7 1018.8,1440.4 1020.2,1441.2 1021.7,1437.2 1023.2,1438 1024.7,1438.7 1026.2,1439.5 1027.6,1440.3 1029.1,1441.1 1030.6,1441.8 1032.1,1442.6 1033.5,1443.3 1035,1444.1" fill="none" stroke="#3a84be" stroke-width="4.2" stroke-linejoin="round" stroke-linecap="butt"/>
</g>
<rect x="633.1" y="1366.2" width="401.9" height="391" fill="none" stroke="#3a3a3a" stroke-width="1.7"/>
<line x1="627.6" y1="1396.8" x2="633.1" y2="1396.8" stroke="#111" stroke-width="1.4"/>
<text transform="translate(623.6,1404.7)" font-size="21.9" text-anchor="end">0.1</text>
<line x1="627.6" y1="1444.1" x2="633.1" y2="1444.1" stroke="#111" stroke-width="1.4"/>
<text transform="translate(623.6,1452.1)" font-size="21.9" text-anchor="end">0.0</text>
<line x1="627.6" y1="1491.4" x2="633.1" y2="1491.4" stroke="#111" stroke-width="1.4"/>
<text transform="translate(623.6,1499.4)" font-size="21.9" text-anchor="end">−0.1</text>
<line x1="627.6" y1="1538.8" x2="633.1" y2="1538.8" stroke="#111" stroke-width="1.4"/>
<text transform="translate(623.6,1546.8)" font-size="21.9" text-anchor="end">−0.2</text>
<line x1="627.6" y1="1586.1" x2="633.1" y2="1586.1" stroke="#111" stroke-width="1.4"/>
<text transform="translate(623.6,1594.1)" font-size="21.9" text-anchor="end">−0.3</text>
<line x1="627.6" y1="1633.5" x2="633.1" y2="1633.5" stroke="#111" stroke-width="1.4"/>
<text transform="translate(623.6,1641.5)" font-size="21.9" text-anchor="end">−0.4</text>
<line x1="627.6" y1="1680.8" x2="633.1" y2="1680.8" stroke="#111" stroke-width="1.4"/>
<text transform="translate(623.6,1688.8)" font-size="21.9" text-anchor="end">−0.5</text>
<line x1="627.6" y1="1728.2" x2="633.1" y2="1728.2" stroke="#111" stroke-width="1.4"/>
<text transform="translate(623.6,1736.2)" font-size="21.9" text-anchor="end">−0.6</text>
<clipPath id="cf2"><rect x="600" y="1750" width="446.6" height="40"/></clipPath>
<g clip-path="url(#cf2)">
<line x1="634.8" y1="1757.2" x2="634.8" y2="1762.7" stroke="#111" stroke-width="1.4"/>
<text transform="translate(634.8,1783.5)" font-size="21.9" text-anchor="middle">1</text>
<line x1="1035" y1="1757.2" x2="1035" y2="1762.7" stroke="#111" stroke-width="1.4"/>
<text transform="translate(1035,1783.5)" font-size="21.9" text-anchor="middle">272</text>
</g>
<text transform="translate(834,1810.2)" font-size="21.9" text-anchor="middle">Rank</text>
<text transform="translate(560.5,1560.8) rotate(-90)" font-size="21.9" text-anchor="middle">log10(Enrichment Factor)</text>
<rect x="752.3" y="1719.7" width="276.4" height="31.7" fill="#9a9a9a" stroke="none" stroke-width="0" rx="4" fill-opacity="0.75"/>
<rect x="749.1" y="1716.5" width="276.4" height="31.7" fill="#fff" stroke="#cfcfcf" stroke-width="1.3" rx="4"/>
<line x1="754.2" y1="1731.1" x2="794" y2="1731.1" stroke="#3a84be" stroke-width="4.2"/>
<text transform="translate(807.4,1737.5)" font-size="17.8">Lipid metabolic process</text>
<text transform="translate(561,1344.8)" font-size="34" class="pl">f</text>
<path d="M1128.4 1374.9C1130.4 1374.7 1136.3 1373.9 1140.3 1373.6C1144.3 1373.2 1148.2 1372.7 1152.2 1372.7C1156.1 1372.7 1160.1 1373.2 1164.1 1373.6C1168 1373.9 1171.5 1374.5 1176 1374.7C1180.4 1374.9 1186.9 1374.9 1190.8 1374.7C1194.8 1374.1 1196.8 1372.4 1199.8 1370.9C1202.7 1369.4 1205.7 1367.2 1208.7 1365.8C1211.7 1364.5 1214.6 1364 1217.6 1362.9C1220.6 1361.7 1223 1361.7 1226.5 1359C1230 1356.3 1234.9 1349.2 1238.4 1346.5C1241.9 1343.8 1244.4 1342.7 1247.3 1342.9C1250.3 1343.2 1253 1346.4 1256.3 1348C1259.5 1349.6 1262.7 1353.7 1266.7 1352.4C1270.6 1351.2 1275.3 1345 1280 1340.6C1284.7 1336.1 1290.9 1328.7 1294.9 1325.7C1298.9 1322.7 1299.9 1322.6 1303.8 1322.7C1307.8 1322.8 1313.7 1325 1318.7 1326.3C1323.7 1327.5 1329.7 1330.2 1333.6 1330.1C1337.4 1330 1338.7 1328.7 1341.9 1325.7C1345.1 1322.7 1349.6 1315.2 1352.9 1312.3C1356.2 1309.4 1358.1 1308.2 1361.8 1308.4C1365.5 1308.7 1370.5 1311.7 1375.2 1313.8C1379.9 1315.9 1385.1 1318 1390.1 1321.2C1395 1324.4 1400.5 1329.2 1404.9 1333.1C1409.4 1337.1 1412.9 1342.3 1416.8 1345C1420.8 1347.7 1424.8 1346.5 1428.7 1349.5C1432.7 1352.4 1436.6 1358.8 1440.6 1362.9C1444.6 1366.9 1448 1372.6 1452.5 1373.9C1457 1374.9 1462.9 1370.5 1467.4 1370.3C1471.8 1370.1 1474.6 1371.9 1479.3 1372.7C1483.9 1373.4 1492.6 1374.5 1495.3 1374.9L1495.3 1375.2L1128.4 1375.2Z" fill="#1f77b4" fill-opacity="0.57"/>
<path d="M1128.4 1374.9C1130.4 1374.7 1136.3 1373.9 1140.3 1373.6C1144.3 1373.2 1148.2 1372.7 1152.2 1372.7C1156.1 1372.7 1160.1 1373.2 1164.1 1373.6C1168 1373.9 1171.5 1374.5 1176 1374.7C1180.4 1374.9 1186.9 1374.9 1190.8 1374.7C1194.8 1374.1 1196.8 1372.4 1199.8 1370.9C1202.7 1369.4 1205.7 1367.2 1208.7 1365.8C1211.7 1364.5 1214.6 1364 1217.6 1362.9C1220.6 1361.7 1223 1361.7 1226.5 1359C1230 1356.3 1234.9 1349.2 1238.4 1346.5C1241.9 1343.8 1244.4 1342.7 1247.3 1342.9C1250.3 1343.2 1253 1346.4 1256.3 1348C1259.5 1349.6 1262.7 1353.7 1266.7 1352.4C1270.6 1351.2 1275.3 1345 1280 1340.6C1284.7 1336.1 1290.9 1328.7 1294.9 1325.7C1298.9 1322.7 1299.9 1322.6 1303.8 1322.7C1307.8 1322.8 1313.7 1325 1318.7 1326.3C1323.7 1327.5 1329.7 1330.2 1333.6 1330.1C1337.4 1330 1338.7 1328.7 1341.9 1325.7C1345.1 1322.7 1349.6 1315.2 1352.9 1312.3C1356.2 1309.4 1358.1 1308.2 1361.8 1308.4C1365.5 1308.7 1370.5 1311.7 1375.2 1313.8C1379.9 1315.9 1385.1 1318 1390.1 1321.2C1395 1324.4 1400.5 1329.2 1404.9 1333.1C1409.4 1337.1 1412.9 1342.3 1416.8 1345C1420.8 1347.7 1424.8 1346.5 1428.7 1349.5C1432.7 1352.4 1436.6 1358.8 1440.6 1362.9C1444.6 1366.9 1448 1372.6 1452.5 1373.9C1457 1374.9 1462.9 1370.5 1467.4 1370.3C1471.8 1370.1 1474.6 1371.9 1479.3 1372.7C1483.9 1373.4 1492.6 1374.5 1495.3 1374.9" fill="none" stroke="#3679ae" stroke-width="1.35"/>
<line x1="1341.9" y1="1303.4" x2="1341.9" y2="1375.8" stroke="#111" stroke-width="2" stroke-dasharray="6.5 3"/>
<path d="M1498.9 1377.5C1499 1381.6 1499.4 1395.6 1499.4 1402.3C1499.4 1408.9 1498.2 1413 1498.9 1417.3C1499.6 1421.6 1502.3 1424.3 1503.7 1428.1C1505 1431.8 1506.8 1435.2 1506.9 1439.9C1507 1444.6 1504.7 1450.5 1504.1 1456C1503.5 1461.6 1503.1 1467.5 1503.2 1473.2C1503.3 1479 1503.9 1485.1 1504.7 1490.4C1505.5 1495.8 1506.2 1500.8 1508 1505.5C1509.7 1510.1 1513.2 1513.7 1515.5 1518.4C1517.8 1523 1520.5 1529.1 1521.9 1533.4C1523.4 1537.7 1522.3 1540.3 1524.1 1544.2C1525.9 1548.1 1530.4 1553.5 1532.7 1557.1C1534.9 1560.7 1537.3 1562.5 1537.6 1565.7C1538 1568.9 1534.1 1572.9 1534.8 1576.5C1535.6 1580 1539.7 1583.6 1542.4 1587.2C1545.1 1590.8 1549.4 1595.3 1551 1598C1552.6 1600.6 1552.9 1600.5 1552 1603.3C1551.1 1606.2 1545.8 1611.8 1545.6 1615.2C1545.4 1618.6 1548.1 1620.5 1551 1623.8C1553.8 1627 1560 1630.9 1562.8 1634.5C1565.6 1638.1 1567.4 1642 1567.7 1645.3C1568.1 1648.5 1567.4 1650.5 1564.9 1653.9C1562.5 1657.3 1558 1661.8 1553.1 1665.7C1548.3 1669.6 1541.3 1673.4 1535.9 1677.5C1530.5 1681.6 1524.8 1685.8 1520.9 1690.4C1516.9 1695.1 1515.1 1700.8 1512.3 1705.5C1509.4 1710.1 1506.1 1714.8 1503.7 1718.4C1501.2 1722 1498.7 1724.3 1497.6 1727C1497.3 1729.6 1497.4 1733.1 1497.3 1734.3L1497 1734.3L1497 1377.5Z" fill="#1f77b4" fill-opacity="0.57"/>
<path d="M1498.9 1377.5C1499 1381.6 1499.4 1395.6 1499.4 1402.3C1499.4 1408.9 1498.2 1413 1498.9 1417.3C1499.6 1421.6 1502.3 1424.3 1503.7 1428.1C1505 1431.8 1506.8 1435.2 1506.9 1439.9C1507 1444.6 1504.7 1450.5 1504.1 1456C1503.5 1461.6 1503.1 1467.5 1503.2 1473.2C1503.3 1479 1503.9 1485.1 1504.7 1490.4C1505.5 1495.8 1506.2 1500.8 1508 1505.5C1509.7 1510.1 1513.2 1513.7 1515.5 1518.4C1517.8 1523 1520.5 1529.1 1521.9 1533.4C1523.4 1537.7 1522.3 1540.3 1524.1 1544.2C1525.9 1548.1 1530.4 1553.5 1532.7 1557.1C1534.9 1560.7 1537.3 1562.5 1537.6 1565.7C1538 1568.9 1534.1 1572.9 1534.8 1576.5C1535.6 1580 1539.7 1583.6 1542.4 1587.2C1545.1 1590.8 1549.4 1595.3 1551 1598C1552.6 1600.6 1552.9 1600.5 1552 1603.3C1551.1 1606.2 1545.8 1611.8 1545.6 1615.2C1545.4 1618.6 1548.1 1620.5 1551 1623.8C1553.8 1627 1560 1630.9 1562.8 1634.5C1565.6 1638.1 1567.4 1642 1567.7 1645.3C1568.1 1648.5 1567.4 1650.5 1564.9 1653.9C1562.5 1657.3 1558 1661.8 1553.1 1665.7C1548.3 1669.6 1541.3 1673.4 1535.9 1677.5C1530.5 1681.6 1524.8 1685.8 1520.9 1690.4C1516.9 1695.1 1515.1 1700.8 1512.3 1705.5C1509.4 1710.1 1506.1 1714.8 1503.7 1718.4C1501.2 1722 1498.7 1724.3 1497.6 1727C1497.3 1729.6 1497.4 1733.1 1497.3 1734.3" fill="none" stroke="#3679ae" stroke-width="1.35"/>
<line x1="1497" y1="1616.5" x2="1570.9" y2="1616.5" stroke="#111" stroke-width="2" stroke-dasharray="6.5 3"/>
<line x1="1178" y1="1376.8" x2="1178" y2="1734.5" stroke="#cfcfcf" stroke-width="1.4"/>
<line x1="1297.4" y1="1376.8" x2="1297.4" y2="1734.5" stroke="#cfcfcf" stroke-width="1.4"/>
<line x1="1416.8" y1="1376.8" x2="1416.8" y2="1734.5" stroke="#cfcfcf" stroke-width="1.4"/>
<line x1="1128.4" y1="1649.9" x2="1495.3" y2="1649.9" stroke="#cfcfcf" stroke-width="1.4"/>
<line x1="1128.4" y1="1565.3" x2="1495.3" y2="1565.3" stroke="#cfcfcf" stroke-width="1.4"/>
<line x1="1128.4" y1="1480.8" x2="1495.3" y2="1480.8" stroke="#cfcfcf" stroke-width="1.4"/>
<line x1="1128.4" y1="1396.2" x2="1495.3" y2="1396.2" stroke="#cfcfcf" stroke-width="1.4"/>
<clipPath id="cg"><rect x="1128.4" y="1376.8" width="366.9" height="357.7"/></clipPath>
<g clip-path="url(#cg)">
<g fill="none" stroke="#3b82ba" stroke-width="0.95">
<circle cx="1227.6" cy="1556.9" r="1.65"/>
<circle cx="1282.5" cy="1489.2" r="1.65"/>
<circle cx="1155.3" cy="1534.9" r="1.65"/>
<circle cx="1306.4" cy="1446.9" r="1.65"/>
<circle cx="1424" cy="1578" r="1.65"/>
<circle cx="1468.1" cy="1700.7" r="1.65"/>
<circle cx="1459.8" cy="1654.1" r="1.65"/>
<circle cx="1261.6" cy="1394.5" r="1.65"/>
<circle cx="1258.6" cy="1413.1" r="1.65"/>
<circle cx="1248.4" cy="1436.8" r="1.65"/>
<circle cx="1270.5" cy="1441" r="1.65"/>
<circle cx="1444.3" cy="1709.1" r="1.65"/>
<circle cx="1318.8" cy="1687.7" r="1.65"/>
<circle cx="1275.4" cy="1573" r="1.65"/>
<circle cx="1253" cy="1618.5" r="1.65"/>
<circle cx="1308.8" cy="1646" r="1.65"/>
<circle cx="1365.3" cy="1659.5" r="1.65"/>
<circle cx="1401.1" cy="1573" r="1.65"/>
<circle cx="1364" cy="1631.2" r="1.65"/>
<circle cx="1340.2" cy="1588.5" r="1.65"/>
<circle cx="1355" cy="1618.7" r="1.65"/>
<circle cx="1327.4" cy="1576.2" r="1.65"/>
<circle cx="1381.7" cy="1628.3" r="1.65"/>
<circle cx="1302.2" cy="1621.9" r="1.65"/>
<circle cx="1392.1" cy="1568.8" r="1.65"/>
<circle cx="1294" cy="1562.6" r="1.65"/>
<circle cx="1347.8" cy="1670.3" r="1.65"/>
<circle cx="1307.1" cy="1550.8" r="1.65"/>
<circle cx="1429.5" cy="1625.8" r="1.65"/>
<circle cx="1368.3" cy="1579.3" r="1.65"/>
<circle cx="1339.6" cy="1460.8" r="1.65"/>
<circle cx="1368.6" cy="1683.6" r="1.65"/>
<circle cx="1330.9" cy="1588" r="1.65"/>
<circle cx="1387.4" cy="1615.1" r="1.65"/>
<circle cx="1313.8" cy="1653.8" r="1.65"/>
<circle cx="1267.8" cy="1663.6" r="1.65"/>
<circle cx="1413.2" cy="1543.7" r="1.65"/>
<circle cx="1395.3" cy="1614.1" r="1.65"/>
<circle cx="1335.2" cy="1617.5" r="1.65"/>
<circle cx="1406.2" cy="1667.4" r="1.65"/>
<circle cx="1325.5" cy="1620.5" r="1.65"/>
<circle cx="1380.8" cy="1647.9" r="1.65"/>
<circle cx="1362.1" cy="1558.8" r="1.65"/>
<circle cx="1384" cy="1651.6" r="1.65"/>
<circle cx="1245.6" cy="1577.2" r="1.65"/>
<circle cx="1188" cy="1625.8" r="1.65"/>
<circle cx="1362" cy="1657.7" r="1.65"/>
<circle cx="1342.3" cy="1687.3" r="1.65"/>
<circle cx="1415.8" cy="1672.4" r="1.65"/>
<circle cx="1309.9" cy="1622.5" r="1.65"/>
<circle cx="1430.4" cy="1685.6" r="1.65"/>
<circle cx="1294.2" cy="1651.9" r="1.65"/>
<circle cx="1390.3" cy="1642" r="1.65"/>
<circle cx="1349" cy="1594.3" r="1.65"/>
<circle cx="1411.4" cy="1659.4" r="1.65"/>
<circle cx="1375.7" cy="1594.4" r="1.65"/>
<circle cx="1390.5" cy="1638.9" r="1.65"/>
<circle cx="1216.8" cy="1625.5" r="1.65"/>
<circle cx="1368.6" cy="1639" r="1.65"/>
<circle cx="1277.4" cy="1662.3" r="1.65"/>
<circle cx="1395.9" cy="1597.2" r="1.65"/>
<circle cx="1351.4" cy="1566.4" r="1.65"/>
<circle cx="1374.6" cy="1676.4" r="1.65"/>
<circle cx="1375.5" cy="1664.9" r="1.65"/>
<circle cx="1392.8" cy="1699" r="1.65"/>
<circle cx="1302.9" cy="1592.6" r="1.65"/>
<circle cx="1328.4" cy="1633.3" r="1.65"/>
<circle cx="1304.8" cy="1669.3" r="1.65"/>
<circle cx="1321.6" cy="1588.8" r="1.65"/>
<circle cx="1314.5" cy="1636.6" r="1.65"/>
<circle cx="1361.1" cy="1659.9" r="1.65"/>
<circle cx="1296.5" cy="1561.1" r="1.65"/>
<circle cx="1275" cy="1649.4" r="1.65"/>
<circle cx="1251.7" cy="1574.8" r="1.65"/>
<circle cx="1305.2" cy="1623.9" r="1.65"/>
<circle cx="1371.7" cy="1694.2" r="1.65"/>
<circle cx="1243" cy="1619.3" r="1.65"/>
<circle cx="1311.8" cy="1571.5" r="1.65"/>
<circle cx="1407" cy="1688.1" r="1.65"/>
<circle cx="1388.4" cy="1682.5" r="1.65"/>
<circle cx="1420.8" cy="1655.4" r="1.65"/>
<circle cx="1344.3" cy="1705.5" r="1.65"/>
<circle cx="1246.5" cy="1621.1" r="1.65"/>
<circle cx="1226.7" cy="1569.7" r="1.65"/>
<circle cx="1312.5" cy="1628.8" r="1.65"/>
<circle cx="1306.8" cy="1517.3" r="1.65"/>
<circle cx="1348.3" cy="1642.5" r="1.65"/>
<circle cx="1389.1" cy="1654.1" r="1.65"/>
<circle cx="1318.9" cy="1579.9" r="1.65"/>
<circle cx="1259.3" cy="1399.4" r="1.65"/>
<circle cx="1369.5" cy="1632.7" r="1.65"/>
<circle cx="1357.2" cy="1594.1" r="1.65"/>
<circle cx="1351.2" cy="1604.6" r="1.65"/>
<circle cx="1352.7" cy="1637.6" r="1.65"/>
<circle cx="1264" cy="1641.6" r="1.65"/>
<circle cx="1270.7" cy="1540.9" r="1.65"/>
<circle cx="1190.9" cy="1627.2" r="1.65"/>
<circle cx="1206" cy="1610.1" r="1.65"/>
<circle cx="1297.8" cy="1656.2" r="1.65"/>
<circle cx="1328.8" cy="1526.5" r="1.65"/>
<circle cx="1357.3" cy="1609" r="1.65"/>
<circle cx="1378.3" cy="1593.5" r="1.65"/>
<circle cx="1229.1" cy="1599.6" r="1.65"/>
<circle cx="1420.6" cy="1638.4" r="1.65"/>
<circle cx="1270.8" cy="1632.7" r="1.65"/>
<circle cx="1342.9" cy="1600.9" r="1.65"/>
<circle cx="1325.9" cy="1619.5" r="1.65"/>
<circle cx="1381.1" cy="1625.9" r="1.65"/>
<circle cx="1405.8" cy="1545.8" r="1.65"/>
<circle cx="1416.5" cy="1641.3" r="1.65"/>
<circle cx="1354.7" cy="1591.9" r="1.65"/>
<circle cx="1353.9" cy="1667.6" r="1.65"/>
<circle cx="1240.1" cy="1524.1" r="1.65"/>
<circle cx="1239.9" cy="1641.8" r="1.65"/>
<circle cx="1336" cy="1658.3" r="1.65"/>
<circle cx="1402.6" cy="1682.2" r="1.65"/>
<circle cx="1245.7" cy="1529.6" r="1.65"/>
<circle cx="1319.9" cy="1574" r="1.65"/>
<circle cx="1375.4" cy="1601" r="1.65"/>
<circle cx="1398.6" cy="1492.8" r="1.65"/>
<circle cx="1403.1" cy="1625.1" r="1.65"/>
<circle cx="1406.3" cy="1626.5" r="1.65"/>
<circle cx="1292.8" cy="1461.7" r="1.65"/>
<circle cx="1383.4" cy="1482.2" r="1.65"/>
<circle cx="1408.4" cy="1657.7" r="1.65"/>
<circle cx="1346.1" cy="1534.3" r="1.65"/>
<circle cx="1315.1" cy="1487.2" r="1.65"/>
<circle cx="1347.5" cy="1615.7" r="1.65"/>
<circle cx="1284.9" cy="1634" r="1.65"/>
<circle cx="1291.9" cy="1488.3" r="1.65"/>
<circle cx="1382.1" cy="1646.7" r="1.65"/>
<circle cx="1337.7" cy="1618" r="1.65"/>
<circle cx="1388.9" cy="1579.2" r="1.65"/>
<circle cx="1343.5" cy="1540.3" r="1.65"/>
<circle cx="1410" cy="1556.3" r="1.65"/>
<circle cx="1315.8" cy="1652.2" r="1.65"/>
<circle cx="1395.9" cy="1477.4" r="1.65"/>
<circle cx="1362.6" cy="1631.3" r="1.65"/>
<circle cx="1361" cy="1582" r="1.65"/>
<circle cx="1387.8" cy="1591.1" r="1.65"/>
<circle cx="1391.3" cy="1625.2" r="1.65"/>
<circle cx="1322.7" cy="1528.2" r="1.65"/>
<circle cx="1344" cy="1625.5" r="1.65"/>
<circle cx="1356" cy="1512.1" r="1.65"/>
<circle cx="1239.4" cy="1664.8" r="1.65"/>
<circle cx="1371.8" cy="1652.9" r="1.65"/>
<circle cx="1190.5" cy="1595.9" r="1.65"/>
<circle cx="1270.5" cy="1574.1" r="1.65"/>
<circle cx="1421.7" cy="1663.7" r="1.65"/>
<circle cx="1320.3" cy="1514.4" r="1.65"/>
<circle cx="1365.7" cy="1650.7" r="1.65"/>
<circle cx="1326.5" cy="1630.5" r="1.65"/>
<circle cx="1299.7" cy="1584.4" r="1.65"/>
<circle cx="1384" cy="1645.5" r="1.65"/>
<circle cx="1318.2" cy="1539.1" r="1.65"/>
<circle cx="1307.9" cy="1641.8" r="1.65"/>
<circle cx="1294.6" cy="1623.2" r="1.65"/>
<circle cx="1337.9" cy="1619.9" r="1.65"/>
<circle cx="1372.4" cy="1648.4" r="1.65"/>
<circle cx="1356.9" cy="1642.2" r="1.65"/>
<circle cx="1363.8" cy="1521" r="1.65"/>
<circle cx="1384.3" cy="1412.2" r="1.65"/>
<circle cx="1322" cy="1652.5" r="1.65"/>
<circle cx="1294.2" cy="1648.4" r="1.65"/>
<circle cx="1385.4" cy="1668.3" r="1.65"/>
<circle cx="1376.9" cy="1586.9" r="1.65"/>
<circle cx="1328.4" cy="1524" r="1.65"/>
<circle cx="1409.3" cy="1645.1" r="1.65"/>
<circle cx="1252.3" cy="1403.7" r="1.65"/>
<circle cx="1228.9" cy="1424.7" r="1.65"/>
<circle cx="1321.9" cy="1516.2" r="1.65"/>
<circle cx="1366.4" cy="1622" r="1.65"/>
<circle cx="1347.6" cy="1510.2" r="1.65"/>
<circle cx="1414.4" cy="1556" r="1.65"/>
<circle cx="1375.5" cy="1598.2" r="1.65"/>
<circle cx="1398.3" cy="1519.5" r="1.65"/>
<circle cx="1210.5" cy="1542.4" r="1.65"/>
<circle cx="1363.6" cy="1581.6" r="1.65"/>
<circle cx="1262" cy="1588.3" r="1.65"/>
<circle cx="1370.1" cy="1667.5" r="1.65"/>
<circle cx="1367.9" cy="1609.3" r="1.65"/>
<circle cx="1319.3" cy="1647.4" r="1.65"/>
<circle cx="1288.6" cy="1638.4" r="1.65"/>
<circle cx="1365.7" cy="1632.8" r="1.65"/>
<circle cx="1362.1" cy="1674.2" r="1.65"/>
<circle cx="1395.5" cy="1648.3" r="1.65"/>
<circle cx="1353.4" cy="1522.1" r="1.65"/>
<circle cx="1247" cy="1553.3" r="1.65"/>
<circle cx="1384.6" cy="1592.9" r="1.65"/>
<circle cx="1377.8" cy="1667.6" r="1.65"/>
<circle cx="1216.1" cy="1407.6" r="1.65"/>
<circle cx="1326.5" cy="1560.6" r="1.65"/>
<circle cx="1321.5" cy="1664.1" r="1.65"/>
<circle cx="1334.4" cy="1632.5" r="1.65"/>
<circle cx="1305.6" cy="1627.2" r="1.65"/>
<circle cx="1279.9" cy="1595" r="1.65"/>
<circle cx="1263.1" cy="1577.9" r="1.65"/>
<circle cx="1351.6" cy="1651.4" r="1.65"/>
<circle cx="1368.3" cy="1605" r="1.65"/>
<circle cx="1392.6" cy="1597.4" r="1.65"/>
<circle cx="1401.4" cy="1687.4" r="1.65"/>
<circle cx="1397.4" cy="1572" r="1.65"/>
<circle cx="1383.8" cy="1674.9" r="1.65"/>
<circle cx="1338.6" cy="1597.8" r="1.65"/>
<circle cx="1351.6" cy="1606.8" r="1.65"/>
<circle cx="1245.6" cy="1519.1" r="1.65"/>
<circle cx="1330.2" cy="1511.4" r="1.65"/>
<circle cx="1369.4" cy="1599" r="1.65"/>
<circle cx="1369.2" cy="1494" r="1.65"/>
<circle cx="1342.6" cy="1665.5" r="1.65"/>
<circle cx="1216" cy="1589.7" r="1.65"/>
<circle cx="1398.5" cy="1640.3" r="1.65"/>
<circle cx="1340.3" cy="1632" r="1.65"/>
<circle cx="1415.4" cy="1630.7" r="1.65"/>
<circle cx="1311.3" cy="1631.5" r="1.65"/>
<circle cx="1356.9" cy="1621.9" r="1.65"/>
<circle cx="1211.4" cy="1547.9" r="1.65"/>
<circle cx="1256.5" cy="1516.1" r="1.65"/>
<circle cx="1374.9" cy="1642" r="1.65"/>
<circle cx="1274.9" cy="1588.8" r="1.65"/>
<circle cx="1417.2" cy="1638.3" r="1.65"/>
<circle cx="1297.9" cy="1503.3" r="1.65"/>
<circle cx="1224.2" cy="1657.6" r="1.65"/>
<circle cx="1223.8" cy="1469.2" r="1.65"/>
<circle cx="1406.2" cy="1538.7" r="1.65"/>
<circle cx="1245.1" cy="1507.3" r="1.65"/>
<circle cx="1367.8" cy="1522.1" r="1.65"/>
<circle cx="1371.3" cy="1571.6" r="1.65"/>
<circle cx="1366.4" cy="1589.1" r="1.65"/>
<circle cx="1298.9" cy="1674" r="1.65"/>
<circle cx="1242" cy="1498.9" r="1.65"/>
<circle cx="1296.6" cy="1639.8" r="1.65"/>
<circle cx="1307.6" cy="1600.9" r="1.65"/>
<circle cx="1386.8" cy="1560.3" r="1.65"/>
<circle cx="1400.2" cy="1528.9" r="1.65"/>
<circle cx="1237.3" cy="1589.2" r="1.65"/>
<circle cx="1361.3" cy="1560.2" r="1.65"/>
<circle cx="1363.5" cy="1614.3" r="1.65"/>
<circle cx="1407.7" cy="1675.8" r="1.65"/>
<circle cx="1380.1" cy="1587.8" r="1.65"/>
<circle cx="1330.7" cy="1572.5" r="1.65"/>
<circle cx="1418.1" cy="1651.3" r="1.65"/>
<circle cx="1296.3" cy="1561.3" r="1.65"/>
<circle cx="1289.5" cy="1572.5" r="1.65"/>
<circle cx="1275.9" cy="1514.4" r="1.65"/>
<circle cx="1215.7" cy="1450.5" r="1.65"/>
<circle cx="1312.3" cy="1569.9" r="1.65"/>
<circle cx="1356.8" cy="1676.2" r="1.65"/>
<circle cx="1302.3" cy="1630.9" r="1.65"/>
<circle cx="1413.2" cy="1649.7" r="1.65"/>
<circle cx="1337.4" cy="1642.1" r="1.65"/>
<circle cx="1236.7" cy="1620.1" r="1.65"/>
<circle cx="1385" cy="1624.1" r="1.65"/>
<circle cx="1413.4" cy="1569" r="1.65"/>
<circle cx="1287.8" cy="1598.2" r="1.65"/>
<circle cx="1380.2" cy="1507.7" r="1.65"/>
<circle cx="1322.9" cy="1631.1" r="1.65"/>
<circle cx="1326.1" cy="1653.3" r="1.65"/>
<circle cx="1400.8" cy="1638.5" r="1.65"/>
<circle cx="1422.9" cy="1619.8" r="1.65"/>
<circle cx="1288.1" cy="1472.2" r="1.65"/>
<circle cx="1275" cy="1603.6" r="1.65"/>
<circle cx="1233.3" cy="1600.8" r="1.65"/>
<circle cx="1270.4" cy="1636.1" r="1.65"/>
<circle cx="1198" cy="1601.5" r="1.65"/>
<circle cx="1333.5" cy="1643.8" r="1.65"/>
<circle cx="1376.4" cy="1565.6" r="1.65"/>
<circle cx="1342.2" cy="1550.3" r="1.65"/>
<circle cx="1392.8" cy="1595.8" r="1.65"/>
<circle cx="1350.6" cy="1658.1" r="1.65"/>
<circle cx="1335.1" cy="1632.6" r="1.65"/>
<circle cx="1349.6" cy="1591.9" r="1.65"/>
</g>
<line x1="1128.4" y1="1527" x2="1495.3" y2="1668.2" stroke="#000" stroke-width="1.6"/>
</g>
<rect x="1128.4" y="1376.8" width="366.9" height="357.7" fill="none" stroke="#5c5c5c" stroke-width="1.4"/>
<line x1="1178" y1="1734.5" x2="1178" y2="1739.5" stroke="#5c5c5c" stroke-width="1.5"/>
<text transform="translate(1178,1760.1) scale(1.055,1)" font-size="24.2" text-anchor="middle">0.4</text>
<line x1="1297.4" y1="1734.5" x2="1297.4" y2="1739.5" stroke="#5c5c5c" stroke-width="1.5"/>
<text transform="translate(1297.4,1760.1) scale(1.055,1)" font-size="24.2" text-anchor="middle">0.6</text>
<line x1="1416.8" y1="1734.5" x2="1416.8" y2="1739.5" stroke="#5c5c5c" stroke-width="1.5"/>
<text transform="translate(1416.8,1760.1) scale(1.055,1)" font-size="24.2" text-anchor="middle">0.8</text>
<line x1="1123.4" y1="1734.5" x2="1128.4" y2="1734.5" stroke="#5c5c5c" stroke-width="1.5"/>
<text transform="translate(1119.8,1743.3) scale(1.055,1)" font-size="24.2" text-anchor="end">0.0</text>
<line x1="1123.4" y1="1649.9" x2="1128.4" y2="1649.9" stroke="#5c5c5c" stroke-width="1.5"/>
<text transform="translate(1119.8,1658.8) scale(1.055,1)" font-size="24.2" text-anchor="end">0.1</text>
<line x1="1123.4" y1="1565.3" x2="1128.4" y2="1565.3" stroke="#5c5c5c" stroke-width="1.5"/>
<text transform="translate(1119.8,1574.2) scale(1.055,1)" font-size="24.2" text-anchor="end">0.2</text>
<line x1="1123.4" y1="1480.8" x2="1128.4" y2="1480.8" stroke="#5c5c5c" stroke-width="1.5"/>
<text transform="translate(1119.8,1489.6) scale(1.055,1)" font-size="24.2" text-anchor="end">0.3</text>
<line x1="1123.4" y1="1396.2" x2="1128.4" y2="1396.2" stroke="#5c5c5c" stroke-width="1.5"/>
<text transform="translate(1119.8,1405) scale(1.055,1)" font-size="24.2" text-anchor="end">0.4</text>
<text transform="translate(1311.8,1788) scale(1.040,1)" font-size="23.3" text-anchor="middle">Conservation ratio</text>
<text transform="translate(1073.6,1555.9) rotate(-90)" font-size="24" text-anchor="middle">p(Neutral)</text>
<text transform="translate(1097.5,1338.2)" font-size="34" class="pl">g</text>
<path d="M1675.2 1374.9C1677.2 1374.8 1683.2 1374.6 1687.1 1374.4C1691.1 1374.3 1695.1 1373.9 1699 1373.9C1703 1373.9 1707 1374.3 1710.9 1374.4C1714.9 1374.6 1717.9 1374.8 1722.8 1374.9C1727.8 1374.9 1736.4 1374.9 1740.7 1374.9C1744.9 1374.5 1745.6 1373.7 1748.1 1372.7C1750.6 1371.6 1751.3 1371.4 1755.5 1368.8C1759.7 1366.2 1768.4 1360.5 1773.4 1356.9C1778.3 1353.3 1782 1349.1 1785.3 1347.1C1788.5 1345.1 1790.2 1344.9 1792.7 1345C1795.2 1345.2 1797.1 1346.3 1800.1 1348C1803.1 1349.6 1807.6 1354.6 1810.5 1354.8C1813.5 1355.1 1815.2 1352.8 1818 1349.5C1820.7 1346.1 1823.9 1338.3 1826.9 1334.6C1829.9 1330.9 1832.3 1328.3 1835.8 1327.2C1839.3 1326.1 1843.7 1327.3 1847.7 1328.1C1851.7 1328.8 1855.7 1331.8 1859.6 1331.6C1863.5 1331.5 1867.7 1329.9 1870.9 1327.2C1874.1 1324.4 1876.3 1318.1 1878.9 1315.3C1881.5 1312.5 1883.6 1310.5 1886.4 1310.2C1889.1 1310 1892.3 1311.5 1895.3 1313.8C1898.2 1316.1 1900.2 1321.2 1904.2 1324.2C1908.2 1327.2 1914.1 1327.9 1919.1 1331.6C1924 1335.3 1929.5 1341.8 1933.9 1346.5C1938.4 1351.2 1941.9 1356.3 1945.8 1359.9C1949.8 1363.4 1952.8 1365.8 1957.7 1367.9C1962.7 1370 1969.6 1371.5 1975.6 1372.7C1981.5 1373.8 1986.5 1374.5 1993.4 1374.9C2000.3 1374.9 2009.1 1374.9 2017.2 1374.9C2025.3 1374.9 2038 1374.9 2042.2 1374.9L2042.2 1375.2L1675.2 1375.2Z" fill="#1f77b4" fill-opacity="0.57"/>
<path d="M1675.2 1374.9C1677.2 1374.8 1683.2 1374.6 1687.1 1374.4C1691.1 1374.3 1695.1 1373.9 1699 1373.9C1703 1373.9 1707 1374.3 1710.9 1374.4C1714.9 1374.6 1717.9 1374.8 1722.8 1374.9C1727.8 1374.9 1736.4 1374.9 1740.7 1374.9C1744.9 1374.5 1745.6 1373.7 1748.1 1372.7C1750.6 1371.6 1751.3 1371.4 1755.5 1368.8C1759.7 1366.2 1768.4 1360.5 1773.4 1356.9C1778.3 1353.3 1782 1349.1 1785.3 1347.1C1788.5 1345.1 1790.2 1344.9 1792.7 1345C1795.2 1345.2 1797.1 1346.3 1800.1 1348C1803.1 1349.6 1807.6 1354.6 1810.5 1354.8C1813.5 1355.1 1815.2 1352.8 1818 1349.5C1820.7 1346.1 1823.9 1338.3 1826.9 1334.6C1829.9 1330.9 1832.3 1328.3 1835.8 1327.2C1839.3 1326.1 1843.7 1327.3 1847.7 1328.1C1851.7 1328.8 1855.7 1331.8 1859.6 1331.6C1863.5 1331.5 1867.7 1329.9 1870.9 1327.2C1874.1 1324.4 1876.3 1318.1 1878.9 1315.3C1881.5 1312.5 1883.6 1310.5 1886.4 1310.2C1889.1 1310 1892.3 1311.5 1895.3 1313.8C1898.2 1316.1 1900.2 1321.2 1904.2 1324.2C1908.2 1327.2 1914.1 1327.9 1919.1 1331.6C1924 1335.3 1929.5 1341.8 1933.9 1346.5C1938.4 1351.2 1941.9 1356.3 1945.8 1359.9C1949.8 1363.4 1952.8 1365.8 1957.7 1367.9C1962.7 1370 1969.6 1371.5 1975.6 1372.7C1981.5 1373.8 1986.5 1374.5 1993.4 1374.9C2000.3 1374.9 2009.1 1374.9 2017.2 1374.9C2025.3 1374.9 2038 1374.9 2042.2 1374.9" fill="none" stroke="#3679ae" stroke-width="1.35"/>
<line x1="1870.9" y1="1303.4" x2="1870.9" y2="1375.8" stroke="#111" stroke-width="2" stroke-dasharray="6.5 3"/>
<path d="M2044.6 1377.5C2044.7 1387 2045.1 1408.6 2045.1 1434.6C2045.1 1460.6 2044.6 1513.9 2044.6 1533.6C2044.8 1553.3 2045.5 1547.8 2046.1 1553C2046.8 1558.2 2048.3 1560.8 2048.3 1564.8C2048.3 1568.7 2046.3 1572.9 2046.1 1576.6C2046 1580.4 2046.3 1583.4 2047.2 1587.4C2048.1 1591.3 2050.4 1596 2051.5 1600.3C2052.7 1604.6 2053.5 1608.9 2054.1 1613.2C2054.8 1617.5 2054.6 1622.5 2055.4 1626.1C2056.2 1629.7 2056.5 1631.7 2059.1 1634.7C2061.6 1637.8 2066.8 1641.4 2070.9 1644.4C2075 1647.5 2079.9 1650 2083.8 1653C2087.8 1656.1 2091.2 1659.5 2094.6 1662.7C2098 1666 2101.5 1669.4 2104.3 1672.4C2107.1 1675.5 2109.9 1678.5 2111.4 1681C2112.8 1683.5 2113.2 1685.1 2112.9 1687.5C2112.6 1689.8 2112 1692.7 2109.6 1695C2107.3 1697.3 2103.5 1699.1 2098.9 1701.5C2094.2 1703.8 2087.8 1706.5 2081.7 1709C2075.6 1711.5 2067.7 1714.2 2062.3 1716.5C2056.9 1718.9 2052.3 1721 2049.4 1723C2046.4 1725 2044.6 1726.8 2044.6 1728.4C2044.6 1730 2047.2 1731.6 2049.4 1732.7C2051.5 1733.7 2056.2 1734.3 2057.6 1734.6L2044.3 1734.6L2044.3 1377.5Z" fill="#1f77b4" fill-opacity="0.57"/>
<path d="M2044.6 1377.5C2044.7 1387 2045.1 1408.6 2045.1 1434.6C2045.1 1460.6 2044.6 1513.9 2044.6 1533.6C2044.8 1553.3 2045.5 1547.8 2046.1 1553C2046.8 1558.2 2048.3 1560.8 2048.3 1564.8C2048.3 1568.7 2046.3 1572.9 2046.1 1576.6C2046 1580.4 2046.3 1583.4 2047.2 1587.4C2048.1 1591.3 2050.4 1596 2051.5 1600.3C2052.7 1604.6 2053.5 1608.9 2054.1 1613.2C2054.8 1617.5 2054.6 1622.5 2055.4 1626.1C2056.2 1629.7 2056.5 1631.7 2059.1 1634.7C2061.6 1637.8 2066.8 1641.4 2070.9 1644.4C2075 1647.5 2079.9 1650 2083.8 1653C2087.8 1656.1 2091.2 1659.5 2094.6 1662.7C2098 1666 2101.5 1669.4 2104.3 1672.4C2107.1 1675.5 2109.9 1678.5 2111.4 1681C2112.8 1683.5 2113.2 1685.1 2112.9 1687.5C2112.6 1689.8 2112 1692.7 2109.6 1695C2107.3 1697.3 2103.5 1699.1 2098.9 1701.5C2094.2 1703.8 2087.8 1706.5 2081.7 1709C2075.6 1711.5 2067.7 1714.2 2062.3 1716.5C2056.9 1718.9 2052.3 1721 2049.4 1723C2046.4 1725 2044.6 1726.8 2044.6 1728.4C2044.6 1730 2047.2 1731.6 2049.4 1732.7C2051.5 1733.7 2056.2 1734.3 2057.6 1734.6" fill="none" stroke="#3679ae" stroke-width="1.35"/>
<line x1="2044.5" y1="1676.6" x2="2117.7" y2="1676.6" stroke="#111" stroke-width="2" stroke-dasharray="6.5 3"/>
<line x1="1727.3" y1="1376.8" x2="1727.3" y2="1734.8" stroke="#cfcfcf" stroke-width="1.4"/>
<line x1="1832.2" y1="1376.8" x2="1832.2" y2="1734.8" stroke="#cfcfcf" stroke-width="1.4"/>
<line x1="1937.2" y1="1376.8" x2="1937.2" y2="1734.8" stroke="#cfcfcf" stroke-width="1.4"/>
<line x1="2042.1" y1="1376.8" x2="2042.1" y2="1734.8" stroke="#cfcfcf" stroke-width="1.4"/>
<line x1="1675.2" y1="1671.5" x2="2042.2" y2="1671.5" stroke="#cfcfcf" stroke-width="1.4"/>
<line x1="1675.2" y1="1603" x2="2042.2" y2="1603" stroke="#cfcfcf" stroke-width="1.4"/>
<line x1="1675.2" y1="1534.6" x2="2042.2" y2="1534.6" stroke="#cfcfcf" stroke-width="1.4"/>
<line x1="1675.2" y1="1466.1" x2="2042.2" y2="1466.1" stroke="#cfcfcf" stroke-width="1.4"/>
<line x1="1675.2" y1="1397.7" x2="2042.2" y2="1397.7" stroke="#cfcfcf" stroke-width="1.4"/>
<clipPath id="ch"><rect x="1675.2" y="1376.8" width="367" height="358"/></clipPath>
<g clip-path="url(#ch)">
<g fill="none" stroke="#3b82ba" stroke-width="0.95">
<circle cx="1851.1" cy="1650.6" r="1.65"/>
<circle cx="1793.3" cy="1658.2" r="1.65"/>
<circle cx="1842.3" cy="1674.9" r="1.65"/>
<circle cx="1891.9" cy="1699.4" r="1.65"/>
<circle cx="1923.4" cy="1676.3" r="1.65"/>
<circle cx="1890.8" cy="1700.5" r="1.65"/>
<circle cx="1869.9" cy="1637" r="1.65"/>
<circle cx="1882.8" cy="1690.3" r="1.65"/>
<circle cx="1858.6" cy="1681.1" r="1.65"/>
<circle cx="1906.3" cy="1664.5" r="1.65"/>
<circle cx="1836.5" cy="1679.6" r="1.65"/>
<circle cx="1915.4" cy="1674.1" r="1.65"/>
<circle cx="1829.3" cy="1657.2" r="1.65"/>
<circle cx="1876.5" cy="1706.6" r="1.65"/>
<circle cx="1840.8" cy="1680.4" r="1.65"/>
<circle cx="1948.4" cy="1678.5" r="1.65"/>
<circle cx="1894.6" cy="1709" r="1.65"/>
<circle cx="1869.3" cy="1703.8" r="1.65"/>
<circle cx="1894.8" cy="1679.9" r="1.65"/>
<circle cx="1861.7" cy="1660.8" r="1.65"/>
<circle cx="1911.3" cy="1689.2" r="1.65"/>
<circle cx="1846.6" cy="1659" r="1.65"/>
<circle cx="1806.2" cy="1626.9" r="1.65"/>
<circle cx="1934" cy="1660.2" r="1.65"/>
<circle cx="1918.2" cy="1707.7" r="1.65"/>
<circle cx="1865.4" cy="1693.9" r="1.65"/>
<circle cx="1927.9" cy="1669.1" r="1.65"/>
<circle cx="1857" cy="1654.3" r="1.65"/>
<circle cx="1905.5" cy="1685.4" r="1.65"/>
<circle cx="1889.1" cy="1648.1" r="1.65"/>
<circle cx="1908.4" cy="1669.8" r="1.65"/>
<circle cx="1786.7" cy="1616.4" r="1.65"/>
<circle cx="1736.1" cy="1617.4" r="1.65"/>
<circle cx="1889" cy="1688.3" r="1.65"/>
<circle cx="1871.7" cy="1683.3" r="1.65"/>
<circle cx="1936.3" cy="1695" r="1.65"/>
<circle cx="1843.2" cy="1629.5" r="1.65"/>
<circle cx="1949.2" cy="1694.8" r="1.65"/>
<circle cx="1829.4" cy="1677.4" r="1.65"/>
<circle cx="1913.9" cy="1629.2" r="1.65"/>
<circle cx="1877.6" cy="1674" r="1.65"/>
<circle cx="1932.4" cy="1638.1" r="1.65"/>
<circle cx="1901.1" cy="1669.4" r="1.65"/>
<circle cx="1914.1" cy="1705.6" r="1.65"/>
<circle cx="1761.4" cy="1637.1" r="1.65"/>
<circle cx="1894.8" cy="1694.9" r="1.65"/>
<circle cx="1814.6" cy="1640" r="1.65"/>
<circle cx="1918.8" cy="1645.3" r="1.65"/>
<circle cx="1879.7" cy="1671.7" r="1.65"/>
<circle cx="1900.1" cy="1667.5" r="1.65"/>
<circle cx="1900.9" cy="1672.3" r="1.65"/>
<circle cx="1916.1" cy="1685.5" r="1.65"/>
<circle cx="1837.1" cy="1658.7" r="1.65"/>
<circle cx="1859.5" cy="1672.5" r="1.65"/>
<circle cx="1838.8" cy="1677.3" r="1.65"/>
<circle cx="1853.5" cy="1681.9" r="1.65"/>
<circle cx="1847.3" cy="1640.2" r="1.65"/>
<circle cx="1888.2" cy="1602.8" r="1.65"/>
<circle cx="1831.4" cy="1689.1" r="1.65"/>
<circle cx="1812.5" cy="1642.1" r="1.65"/>
<circle cx="1792.1" cy="1611.9" r="1.65"/>
<circle cx="1839.1" cy="1667" r="1.65"/>
<circle cx="1897.5" cy="1685.1" r="1.65"/>
<circle cx="1784.4" cy="1674.4" r="1.65"/>
<circle cx="1844.9" cy="1689.4" r="1.65"/>
<circle cx="1928.6" cy="1692.5" r="1.65"/>
<circle cx="1912.3" cy="1650.7" r="1.65"/>
<circle cx="1940.7" cy="1713.2" r="1.65"/>
<circle cx="1873.5" cy="1681.1" r="1.65"/>
<circle cx="1787.5" cy="1658.1" r="1.65"/>
<circle cx="1770.1" cy="1640.8" r="1.65"/>
<circle cx="1845.5" cy="1686.7" r="1.65"/>
<circle cx="1840.5" cy="1683.4" r="1.65"/>
<circle cx="1877" cy="1652.9" r="1.65"/>
<circle cx="1912.8" cy="1660.9" r="1.65"/>
<circle cx="1851.1" cy="1663.1" r="1.65"/>
<circle cx="1798.8" cy="1667.4" r="1.65"/>
<circle cx="1895.6" cy="1689.2" r="1.65"/>
<circle cx="1884.8" cy="1664.8" r="1.65"/>
<circle cx="1879.5" cy="1640.9" r="1.65"/>
<circle cx="1880.9" cy="1680.4" r="1.65"/>
<circle cx="1802.8" cy="1622.1" r="1.65"/>
<circle cx="1808.8" cy="1640.3" r="1.65"/>
<circle cx="1738.7" cy="1601.9" r="1.65"/>
<circle cx="1752" cy="1658.5" r="1.65"/>
<circle cx="1832.6" cy="1675.4" r="1.65"/>
<circle cx="1859.8" cy="1614.6" r="1.65"/>
<circle cx="1884.9" cy="1618.6" r="1.65"/>
<circle cx="1903.3" cy="1695.1" r="1.65"/>
<circle cx="1772.2" cy="1636.5" r="1.65"/>
<circle cx="1940.6" cy="1675.8" r="1.65"/>
<circle cx="1808.9" cy="1631.1" r="1.65"/>
<circle cx="1872.2" cy="1679.4" r="1.65"/>
<circle cx="1857.3" cy="1680.2" r="1.65"/>
<circle cx="1905.8" cy="1643" r="1.65"/>
<circle cx="1927.5" cy="1692.6" r="1.65"/>
<circle cx="1936.9" cy="1690" r="1.65"/>
<circle cx="1882.6" cy="1665.7" r="1.65"/>
<circle cx="1881.9" cy="1664.5" r="1.65"/>
<circle cx="1781.9" cy="1670.2" r="1.65"/>
<circle cx="1781.7" cy="1661.7" r="1.65"/>
<circle cx="1866.1" cy="1634.7" r="1.65"/>
<circle cx="1924.7" cy="1705.5" r="1.65"/>
<circle cx="1786.8" cy="1632.3" r="1.65"/>
<circle cx="1852" cy="1605.8" r="1.65"/>
<circle cx="1900.8" cy="1660.4" r="1.65"/>
<circle cx="1921.2" cy="1693.9" r="1.65"/>
<circle cx="1925.2" cy="1676.9" r="1.65"/>
<circle cx="1927.9" cy="1607.5" r="1.65"/>
<circle cx="1828.2" cy="1688.4" r="1.65"/>
<circle cx="1907.9" cy="1680.4" r="1.65"/>
<circle cx="1929.8" cy="1710.4" r="1.65"/>
<circle cx="1875.1" cy="1653.9" r="1.65"/>
<circle cx="1847.8" cy="1617.2" r="1.65"/>
<circle cx="1876.3" cy="1659" r="1.65"/>
<circle cx="1821.3" cy="1674.9" r="1.65"/>
<circle cx="1827.4" cy="1627.8" r="1.65"/>
<circle cx="1906.7" cy="1685.5" r="1.65"/>
<circle cx="1867.7" cy="1654.8" r="1.65"/>
<circle cx="1912.7" cy="1644.3" r="1.65"/>
<circle cx="1872.8" cy="1642.7" r="1.65"/>
<circle cx="1931.2" cy="1697.9" r="1.65"/>
<circle cx="1848.4" cy="1665" r="1.65"/>
<circle cx="1918.8" cy="1699.1" r="1.65"/>
<circle cx="1889.5" cy="1645.3" r="1.65"/>
<circle cx="1888.1" cy="1683.4" r="1.65"/>
<circle cx="1911.7" cy="1683" r="1.65"/>
<circle cx="1914.8" cy="1651.7" r="1.65"/>
<circle cx="1854.5" cy="1656.3" r="1.65"/>
<circle cx="1873.2" cy="1701.4" r="1.65"/>
<circle cx="1883.7" cy="1654" r="1.65"/>
<circle cx="1781.3" cy="1651.5" r="1.65"/>
<circle cx="1897.6" cy="1701.7" r="1.65"/>
<circle cx="1738.3" cy="1635.2" r="1.65"/>
<circle cx="1808.6" cy="1684.9" r="1.65"/>
<circle cx="1941.4" cy="1714.9" r="1.65"/>
<circle cx="1852.4" cy="1686.8" r="1.65"/>
<circle cx="1892.3" cy="1673.1" r="1.65"/>
<circle cx="1857.8" cy="1671.7" r="1.65"/>
<circle cx="1834.3" cy="1627.7" r="1.65"/>
<circle cx="1908.3" cy="1683.1" r="1.65"/>
<circle cx="1850.6" cy="1680.9" r="1.65"/>
<circle cx="1841.5" cy="1673.1" r="1.65"/>
<circle cx="1829.8" cy="1637.9" r="1.65"/>
<circle cx="1867.8" cy="1612.4" r="1.65"/>
<circle cx="1898.2" cy="1703.3" r="1.65"/>
<circle cx="1884.5" cy="1685" r="1.65"/>
<circle cx="1890.6" cy="1692.5" r="1.65"/>
<circle cx="1908.6" cy="1667.7" r="1.65"/>
<circle cx="1853.9" cy="1696.6" r="1.65"/>
<circle cx="1829.4" cy="1670.3" r="1.65"/>
<circle cx="1909.5" cy="1686.2" r="1.65"/>
<circle cx="1902.1" cy="1702.8" r="1.65"/>
<circle cx="1859.5" cy="1656.2" r="1.65"/>
<circle cx="1930.6" cy="1686.5" r="1.65"/>
<circle cx="1792.6" cy="1665.9" r="1.65"/>
<circle cx="1772" cy="1669.5" r="1.65"/>
<circle cx="1853.7" cy="1694.9" r="1.65"/>
<circle cx="1892.9" cy="1696.6" r="1.65"/>
<circle cx="1876.4" cy="1617.4" r="1.65"/>
<circle cx="1935.1" cy="1697.4" r="1.65"/>
<circle cx="1900.9" cy="1694.3" r="1.65"/>
<circle cx="1920.9" cy="1706.3" r="1.65"/>
<circle cx="1755.9" cy="1601.1" r="1.65"/>
<circle cx="1890.4" cy="1682.1" r="1.65"/>
<circle cx="1801.1" cy="1611" r="1.65"/>
<circle cx="1896.1" cy="1644.2" r="1.65"/>
<circle cx="1894.2" cy="1690.9" r="1.65"/>
<circle cx="1851.5" cy="1664.4" r="1.65"/>
<circle cx="1824.5" cy="1683.5" r="1.65"/>
<circle cx="1892.2" cy="1612.1" r="1.65"/>
<circle cx="1889.1" cy="1662.2" r="1.65"/>
<circle cx="1918.5" cy="1639.7" r="1.65"/>
<circle cx="1881.5" cy="1636.1" r="1.65"/>
<circle cx="1787.9" cy="1683.7" r="1.65"/>
<circle cx="1908.9" cy="1685.4" r="1.65"/>
<circle cx="1902.9" cy="1673.5" r="1.65"/>
<circle cx="1760.8" cy="1647.1" r="1.65"/>
<circle cx="1857.8" cy="1669.1" r="1.65"/>
<circle cx="1853.4" cy="1606.9" r="1.65"/>
<circle cx="1864.8" cy="1692.2" r="1.65"/>
<circle cx="1839.4" cy="1698.3" r="1.65"/>
<circle cx="1816.9" cy="1632.9" r="1.65"/>
<circle cx="1802.1" cy="1628.7" r="1.65"/>
<circle cx="1879.8" cy="1667.9" r="1.65"/>
<circle cx="1894.5" cy="1648.1" r="1.65"/>
<circle cx="1915.9" cy="1685.9" r="1.65"/>
<circle cx="1923.7" cy="1702.8" r="1.65"/>
<circle cx="1920.1" cy="1714.1" r="1.65"/>
<circle cx="1908.2" cy="1687.3" r="1.65"/>
<circle cx="1868.5" cy="1679.5" r="1.65"/>
<circle cx="1879.8" cy="1674.3" r="1.65"/>
<circle cx="1786.7" cy="1641.4" r="1.65"/>
<circle cx="1895.6" cy="1641" r="1.65"/>
<circle cx="1895.4" cy="1688.8" r="1.65"/>
<circle cx="1872" cy="1677.1" r="1.65"/>
<circle cx="1760.7" cy="1675.7" r="1.65"/>
<circle cx="1921.1" cy="1690.2" r="1.65"/>
<circle cx="1869.9" cy="1698.2" r="1.65"/>
<circle cx="1936" cy="1691.9" r="1.65"/>
<circle cx="1844.5" cy="1677.2" r="1.65"/>
<circle cx="1884.6" cy="1681.3" r="1.65"/>
<circle cx="1796.3" cy="1633.4" r="1.65"/>
<circle cx="1900.4" cy="1666.2" r="1.65"/>
<circle cx="1812.5" cy="1682.3" r="1.65"/>
<circle cx="1937.5" cy="1709.3" r="1.65"/>
<circle cx="1832.6" cy="1664.6" r="1.65"/>
<circle cx="1767.9" cy="1620.3" r="1.65"/>
<circle cx="1767.5" cy="1659.7" r="1.65"/>
<circle cx="1927.8" cy="1675.8" r="1.65"/>
<circle cx="1786.3" cy="1662.9" r="1.65"/>
<circle cx="1894.1" cy="1668.4" r="1.65"/>
<circle cx="1897.2" cy="1683.3" r="1.65"/>
<circle cx="1892.9" cy="1649.3" r="1.65"/>
<circle cx="1833.6" cy="1592.7" r="1.65"/>
<circle cx="1783.6" cy="1649.2" r="1.65"/>
<circle cx="1831.5" cy="1698.4" r="1.65"/>
<circle cx="1841.2" cy="1636.6" r="1.65"/>
<circle cx="1910.8" cy="1626.8" r="1.65"/>
<circle cx="1922.6" cy="1674.2" r="1.65"/>
<circle cx="1888.4" cy="1663" r="1.65"/>
<circle cx="1890.4" cy="1614.3" r="1.65"/>
<circle cx="1929.2" cy="1719.1" r="1.65"/>
<circle cx="1904.9" cy="1667.7" r="1.65"/>
<circle cx="1861.5" cy="1698.7" r="1.65"/>
<circle cx="1938.3" cy="1695.2" r="1.65"/>
<circle cx="1831.3" cy="1681.5" r="1.65"/>
<circle cx="1825.3" cy="1661.1" r="1.65"/>
<circle cx="1813.3" cy="1636.7" r="1.65"/>
<circle cx="1760.4" cy="1592.4" r="1.65"/>
<circle cx="1845.3" cy="1686.8" r="1.65"/>
<circle cx="1884.5" cy="1663.1" r="1.65"/>
<circle cx="1836.6" cy="1681.3" r="1.65"/>
<circle cx="1934" cy="1691.7" r="1.65"/>
<circle cx="1867.4" cy="1646.3" r="1.65"/>
<circle cx="1778.9" cy="1610.9" r="1.65"/>
<circle cx="1909.3" cy="1708.4" r="1.65"/>
<circle cx="1934.2" cy="1686.2" r="1.65"/>
<circle cx="1823.8" cy="1696.5" r="1.65"/>
<circle cx="1905.1" cy="1687.5" r="1.65"/>
<circle cx="1854.6" cy="1678.2" r="1.65"/>
<circle cx="1857.5" cy="1655.2" r="1.65"/>
<circle cx="1923.1" cy="1689.1" r="1.65"/>
<circle cx="1942.6" cy="1713.4" r="1.65"/>
<circle cx="1824.1" cy="1686.1" r="1.65"/>
<circle cx="1812.5" cy="1679.1" r="1.65"/>
<circle cx="1775.9" cy="1636" r="1.65"/>
<circle cx="1808.5" cy="1635.7" r="1.65"/>
<circle cx="1744.8" cy="1606.4" r="1.65"/>
<circle cx="1863.9" cy="1675.8" r="1.65"/>
<circle cx="1901.7" cy="1698.1" r="1.65"/>
<circle cx="1871.6" cy="1695.1" r="1.65"/>
<circle cx="1916.1" cy="1682.4" r="1.65"/>
<circle cx="1879" cy="1665" r="1.65"/>
<circle cx="1878.1" cy="1656.8" r="1.65"/>
</g>
<line x1="1675.2" y1="1631.4" x2="2042.2" y2="1702.7" stroke="#000" stroke-width="1.6"/>
<g fill="#1f2a80">
<circle cx="1771.3" cy="1394.7" r="4.3"/>
<circle cx="1789.7" cy="1559.4" r="4.3"/>
<circle cx="1841.2" cy="1573.7" r="4.3"/>
<circle cx="1819.4" cy="1612" r="4.3"/>
<circle cx="1832.2" cy="1626.6" r="4.3"/>
<circle cx="1774.3" cy="1632" r="4.3"/>
<circle cx="1927.1" cy="1636.4" r="4.3"/>
<circle cx="1773.4" cy="1651.9" r="4.3"/>
<circle cx="1948.2" cy="1681.3" r="4.3"/>
</g>
<g fill="#d8302e">
<circle cx="1798.6" cy="1554.6" r="4.3"/>
<circle cx="1798.6" cy="1558.5" r="4.3"/>
<circle cx="1809" cy="1565.6" r="4.3"/>
<circle cx="1819.2" cy="1637.9" r="4.3"/>
<circle cx="1796.3" cy="1673.9" r="4.3"/>
<circle cx="1864.6" cy="1667.6" r="4.3"/>
<circle cx="1905.1" cy="1667.6" r="4.3"/>
<circle cx="1932.7" cy="1705.7" r="4.3"/>
</g>
<g fill="#a070d6">
<circle cx="1785.3" cy="1598.7" r="4.3"/>
<circle cx="1764.1" cy="1667.3" r="4.3"/>
<circle cx="1944" cy="1675.1" r="4.3"/>
<circle cx="1944.6" cy="1678.6" r="4.3"/>
</g>
<g fill="#f0862f">
<circle cx="1792.4" cy="1602.5" r="4.3"/>
</g>
<g fill="#858585">
<circle cx="1893.5" cy="1647.1" r="4.3"/>
</g>
<g fill="#a9cc35">
<circle cx="1931" cy="1587.9" r="4.3"/>
</g>
</g>
<rect x="1785.8" y="1385.7" width="248.3" height="141.3" fill="#fff" stroke="#d4d4d4" stroke-width="1.3" rx="4" fill-opacity="0.8"/>
<circle cx="1807.6" cy="1398.5" r="4.3" fill="#d8302e" stroke="none" stroke-width="1"/>
<text transform="translate(1835.5,1404.3)" font-size="16">Cyt c oxidase [CIV]</text>
<circle cx="1807.6" cy="1421.6" r="4.3" fill="#a070d6" stroke="none" stroke-width="1"/>
<text transform="translate(1835.5,1427.4)" font-size="16">Suc dehydrogenase [CII]</text>
<circle cx="1807.6" cy="1444.7" r="4.3" fill="#1f2a80" stroke="none" stroke-width="1"/>
<text transform="translate(1835.5,1450.5)" font-size="16">Cyt bc1 complex [CIII]</text>
<circle cx="1807.6" cy="1467.8" r="4.3" fill="#858585" stroke="none" stroke-width="1"/>
<text transform="translate(1835.5,1473.6)" font-size="16">NAD dehydrogenase</text>
<circle cx="1807.6" cy="1490.9" r="4.3" fill="#f0862f" stroke="none" stroke-width="1"/>
<text transform="translate(1835.5,1496.7)" font-size="16">acyl-CoA oxidase [POX1]</text>
<circle cx="1807.6" cy="1514" r="4.3" fill="#a9cc35" stroke="none" stroke-width="1"/>
<text transform="translate(1835.5,1519.8)" font-size="16">GAPDH [TDH1,2,3]</text>
<rect x="1675.2" y="1376.8" width="367" height="358" fill="none" stroke="#5c5c5c" stroke-width="1.4"/>
<line x1="1727.3" y1="1734.8" x2="1727.3" y2="1739.8" stroke="#5c5c5c" stroke-width="1.5"/>
<text transform="translate(1727.3,1760.4) scale(1.055,1)" font-size="24.2" text-anchor="middle">0.4</text>
<line x1="1832.2" y1="1734.8" x2="1832.2" y2="1739.8" stroke="#5c5c5c" stroke-width="1.5"/>
<text transform="translate(1832.2,1760.4) scale(1.055,1)" font-size="24.2" text-anchor="middle">0.6</text>
<line x1="1937.2" y1="1734.8" x2="1937.2" y2="1739.8" stroke="#5c5c5c" stroke-width="1.5"/>
<text transform="translate(1937.2,1760.4) scale(1.055,1)" font-size="24.2" text-anchor="middle">0.8</text>
<line x1="2042.1" y1="1734.8" x2="2042.1" y2="1739.8" stroke="#5c5c5c" stroke-width="1.5"/>
<text transform="translate(2042.1,1760.4) scale(1.055,1)" font-size="24.2" text-anchor="middle">1.0</text>
<line x1="1670.2" y1="1671.5" x2="1675.2" y2="1671.5" stroke="#5c5c5c" stroke-width="1.5"/>
<text transform="translate(1666.6,1680.3) scale(1.055,1)" font-size="24.2" text-anchor="end">0.05</text>
<line x1="1670.2" y1="1603" x2="1675.2" y2="1603" stroke="#5c5c5c" stroke-width="1.5"/>
<text transform="translate(1666.6,1611.8) scale(1.055,1)" font-size="24.2" text-anchor="end">0.10</text>
<line x1="1670.2" y1="1534.6" x2="1675.2" y2="1534.6" stroke="#5c5c5c" stroke-width="1.5"/>
<text transform="translate(1666.6,1543.4) scale(1.055,1)" font-size="24.2" text-anchor="end">0.15</text>
<line x1="1670.2" y1="1466.1" x2="1675.2" y2="1466.1" stroke="#5c5c5c" stroke-width="1.5"/>
<text transform="translate(1666.6,1474.9) scale(1.055,1)" font-size="24.2" text-anchor="end">0.20</text>
<line x1="1670.2" y1="1397.7" x2="1675.2" y2="1397.7" stroke="#5c5c5c" stroke-width="1.5"/>
<text transform="translate(1666.6,1406.5) scale(1.055,1)" font-size="24.2" text-anchor="end">0.25</text>
<text transform="translate(1858.7,1788) scale(1.040,1)" font-size="23.3" text-anchor="middle">Conservation ratio</text>
<text transform="translate(1604.5,1556.3) rotate(-90)" font-size="24" text-anchor="middle">dN/dS</text>
<text transform="translate(1604.6,1344.6)" font-size="34" class="pl">h</text>
</svg>
</body></html>
